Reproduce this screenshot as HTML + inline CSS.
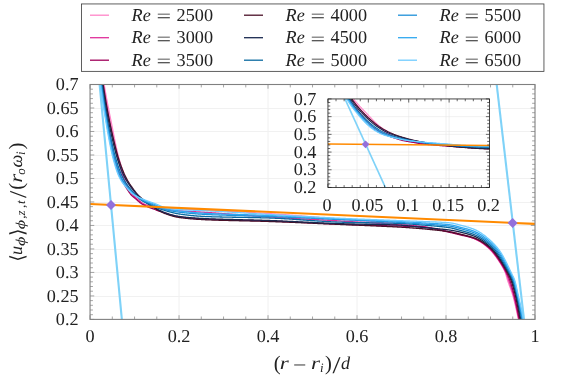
<!DOCTYPE html>
<html lang="en"><head><meta charset="utf-8"><title>Azimuthal velocity profiles</title>
<style>html,body{margin:0;padding:0;background:#fff;}svg{display:block;text-rendering:geometricPrecision;will-change:transform;}text{font-family:"Liberation Serif","DejaVu Sans",serif;fill:#222;}.it{font-style:italic;}</style></head><body>
<svg width="567" height="378" viewBox="0 0 567 378">
<rect width="567" height="378" fill="#fff"/>
<defs>
<clipPath id="cm"><rect x="90.05" y="84.50" width="444.95" height="234.90"/></clipPath>
<clipPath id="ci"><rect x="327.95" y="98.95" width="161.55" height="88.50"/></clipPath>
</defs>
<path d="M179.04 84.50V319.40M268.03 84.50V319.40M357.02 84.50V319.40M446.01 84.50V319.40" stroke="#e6e6e6" stroke-width="0.55" fill="none"/>
<path d="M90.05 296.50H535.00M90.05 272.50H535.00M90.05 249.50H535.00M90.05 225.50H535.00M90.05 202.50H535.00M90.05 178.50H535.00M90.05 155.50H535.00M90.05 131.50H535.00M90.05 108.50H535.00" stroke="#f1f1f1" stroke-width="1" fill="none"/>
<g clip-path="url(#cm)" fill="none" stroke-linejoin="round">
<path d="M98.49 72.75L122.96 331.14" stroke="#7fd2f8" stroke-width="2.1"/>
<path d="M495.33 72.75L525.37 331.14" stroke="#7fd2f8" stroke-width="2.1"/>
<path d="M90.05 -13.69 L90.27 -11.98 L90.49 -10.29 L90.71 -8.60 L90.93 -6.93 L91.15 -5.26 L91.37 -3.60 L91.59 -1.95 L91.80 -0.31 L92.02 1.32 L92.23 2.94 L92.45 4.55 L92.66 6.16 L92.87 7.75 L93.08 9.34 L93.30 10.91 L93.51 12.48 L93.71 14.03 L93.92 15.58 L94.13 17.12 L94.34 18.65 L94.55 20.17 L94.75 21.68 L94.96 23.18 L95.16 24.67 L95.36 26.15 L95.57 27.62 L95.77 29.08 L95.97 30.54 L96.17 31.98 L96.37 33.41 L96.57 34.84 L96.77 36.25 L96.97 37.65 L97.16 39.05 L97.36 40.43 L97.56 41.81 L97.75 43.17 L97.94 44.52 L98.14 45.87 L98.33 47.20 L98.52 48.53 L98.71 49.84 L98.90 51.15 L99.09 52.44 L99.28 53.73 L99.47 55.00 L99.66 56.27 L99.84 57.52 L100.03 58.77 L100.22 60.00 L100.40 61.22 L100.59 62.44 L100.77 63.64 L100.95 64.83 L101.13 66.02 L101.31 67.19 L101.49 68.35 L101.67 69.50 L101.85 70.64 L102.03 71.77 L102.21 72.89 L102.39 74.00 L102.56 75.10 L102.74 76.19 L102.91 77.27 L103.09 78.34 L103.26 79.39 L103.43 80.44 L103.61 81.48 L103.78 82.50 L103.95 83.52 L104.12 84.52 L104.29 85.51 L104.45 86.48 L104.62 87.44 L104.78 88.38 L104.94 89.31 L105.10 90.22 L105.26 91.11 L105.42 91.99 L105.57 92.86 L105.72 93.72 L105.88 94.56 L106.03 95.39 L106.18 96.22 L106.33 97.03 L106.47 97.83 L106.62 98.63 L106.77 99.41 L106.91 100.19 L107.06 100.97 L107.20 101.73 L107.35 102.50 L107.49 103.25 L107.64 104.01 L107.78 104.76 L107.93 105.51 L108.07 106.25 L108.22 107.00 L108.36 107.74 L108.51 108.49 L108.65 109.24 L108.80 109.98 L108.95 110.73 L109.10 111.49 L109.25 112.24 L109.40 113.01 L109.55 113.77 L109.71 114.54 L109.86 115.32 L110.02 116.11 L110.18 116.90 L110.34 117.70 L110.50 118.51 L110.67 119.33 L110.83 120.16 L111.00 121.00 L111.17 121.85 L111.34 122.71 L111.51 123.58 L111.68 124.45 L111.85 125.33 L112.03 126.22 L112.20 127.11 L112.38 128.01 L112.55 128.92 L112.73 129.82 L112.91 130.74 L113.09 131.65 L113.27 132.57 L113.45 133.49 L113.63 134.41 L113.81 135.33 L113.99 136.25 L114.18 137.17 L114.36 138.09 L114.55 139.01 L114.73 139.93 L114.92 140.84 L115.11 141.75 L115.29 142.66 L115.48 143.56 L115.67 144.46 L115.86 145.35 L116.05 146.24 L116.24 147.12 L116.43 147.99 L116.62 148.86 L116.82 149.71 L117.01 150.56 L117.20 151.40 L117.40 152.23 L117.59 153.05 L117.78 153.85 L117.98 154.65 L118.17 155.43 L118.37 156.20 L118.57 156.96 L118.76 157.70 L118.96 158.43 L119.16 159.14 L119.35 159.83 L119.55 160.52 L119.75 161.19 L119.94 161.86 L120.14 162.52 L120.34 163.18 L120.54 163.82 L120.74 164.46 L120.94 165.10 L121.14 165.72 L121.34 166.34 L121.54 166.96 L121.74 167.56 L121.95 168.16 L122.15 168.76 L122.35 169.34 L122.56 169.93 L122.77 170.50 L122.98 171.07 L123.18 171.63 L123.39 172.19 L123.61 172.74 L123.82 173.29 L124.03 173.83 L124.25 174.36 L124.47 174.89 L124.69 175.42 L124.91 175.94 L125.13 176.45 L125.35 176.96 L125.58 177.46 L125.81 177.96 L126.04 178.46 L126.27 178.95 L126.51 179.43 L126.75 179.92 L127.00 180.40 L127.25 180.88 L127.50 181.35 L127.76 181.83 L128.02 182.29 L128.29 182.76 L128.55 183.21 L128.82 183.67 L129.09 184.12 L129.36 184.56 L129.63 185.00 L129.91 185.43 L130.18 185.85 L130.45 186.27 L130.72 186.68 L130.98 187.09 L131.25 187.48 L131.51 187.87 L131.77 188.25 L132.02 188.62 L132.28 188.98 L132.52 189.33 L132.77 189.67 L133.01 190.01 L133.24 190.33 L133.46 190.64 L133.68 190.94 L133.90 191.24 L134.11 191.53 L134.32 191.80 L134.53 192.08 L134.74 192.35 L134.95 192.61 L135.15 192.87 L135.36 193.13 L135.57 193.38 L135.79 193.63 L136.00 193.89 L136.22 194.14 L136.45 194.39 L136.68 194.65 L136.92 194.91 L137.16 195.17 L137.41 195.43 L137.66 195.70 L137.92 195.96 L138.18 196.23 L138.45 196.49 L138.72 196.75 L138.99 197.02 L139.27 197.28 L139.55 197.53 L139.83 197.79 L140.11 198.05 L140.40 198.30 L140.69 198.55 L140.98 198.80 L141.27 199.04 L141.57 199.28 L141.86 199.51 L142.16 199.74 L142.46 199.97 L142.76 200.19 L143.05 200.41 L143.35 200.63 L143.64 200.85 L143.94 201.06 L144.24 201.27 L144.53 201.48 L144.84 201.69 L145.14 201.90 L145.45 202.10 L145.76 202.30 L146.08 202.50 L146.41 202.69 L146.74 202.88 L147.08 203.07 L147.43 203.26 L147.79 203.44 L148.15 203.62 L148.53 203.79 L148.92 203.97 L149.33 204.14 L149.75 204.31 L150.20 204.49 L150.66 204.67 L151.13 204.85 L151.62 205.04 L152.13 205.22 L152.65 205.40 L153.18 205.59 L153.72 205.77 L154.27 205.95 L154.83 206.13 L155.39 206.30 L155.97 206.48 L156.54 206.64 L157.13 206.81 L157.71 206.97 L158.30 207.12 L158.89 207.27 L159.48 207.41 L160.07 207.54 L160.65 207.67 L161.23 207.78 L161.81 207.89 L162.39 207.99 L162.95 208.08 L163.51 208.16 L164.06 208.22 L164.60 208.28 L165.14 208.32 L165.66 208.36 L166.17 208.39 L166.68 208.43 L167.19 208.46 L167.69 208.49 L168.19 208.51 L168.68 208.54 L169.17 208.56 L169.67 208.58 L170.15 208.60 L170.64 208.62 L171.14 208.64 L171.63 208.66 L172.12 208.68 L172.62 208.70 L173.12 208.72 L173.62 208.73 L174.13 208.75 L174.65 208.77 L175.17 208.79 L175.69 208.81 L176.23 208.83 L176.77 208.85 L177.33 208.87 L177.89 208.89 L178.46 208.91 L179.05 208.94 L179.64 208.97 L180.24 208.99 L180.84 209.02 L181.44 209.05 L182.06 209.07 L182.67 209.10 L183.29 209.13 L183.92 209.16 L184.55 209.18 L185.19 209.21 L185.83 209.24 L186.48 209.27 L187.14 209.30 L187.80 209.32 L188.47 209.35 L189.14 209.38 L189.82 209.41 L190.51 209.44 L191.21 209.47 L191.91 209.50 L192.62 209.54 L193.33 209.57 L194.06 209.60 L194.79 209.63 L195.53 209.67 L196.27 209.70 L197.03 209.73 L197.79 209.77 L198.56 209.80 L199.34 209.84 L200.13 209.88 L200.92 209.91 L201.73 209.95 L202.54 209.99 L203.37 210.03 L204.20 210.07 L205.04 210.11 L205.90 210.15 L206.77 210.19 L207.66 210.23 L208.56 210.27 L209.48 210.32 L210.42 210.36 L211.37 210.41 L212.33 210.46 L213.31 210.51 L214.30 210.55 L215.31 210.60 L216.32 210.65 L217.35 210.70 L218.40 210.76 L219.45 210.81 L220.51 210.86 L221.59 210.92 L222.67 210.97 L223.77 211.03 L224.87 211.08 L225.98 211.14 L227.10 211.20 L228.23 211.25 L229.37 211.31 L230.51 211.37 L231.66 211.43 L232.81 211.49 L233.98 211.55 L235.14 211.61 L236.32 211.67 L237.49 211.74 L238.67 211.80 L239.86 211.86 L241.04 211.93 L242.23 211.99 L243.43 212.06 L244.62 212.12 L245.82 212.19 L247.02 212.26 L248.21 212.32 L249.41 212.39 L250.61 212.46 L251.81 212.52 L253.00 212.59 L254.20 212.66 L255.39 212.73 L256.58 212.80 L257.77 212.87 L258.96 212.94 L260.14 213.01 L261.32 213.08 L262.49 213.15 L263.66 213.22 L264.82 213.29 L265.98 213.37 L267.13 213.44 L268.27 213.51 L269.41 213.58 L270.54 213.65 L271.67 213.73 L272.81 213.80 L273.95 213.88 L275.09 213.96 L276.23 214.03 L277.37 214.11 L278.52 214.19 L279.67 214.28 L280.82 214.36 L281.97 214.44 L283.13 214.53 L284.28 214.61 L285.44 214.70 L286.60 214.79 L287.76 214.88 L288.92 214.97 L290.09 215.06 L291.25 215.15 L292.42 215.24 L293.58 215.33 L294.75 215.42 L295.91 215.52 L297.08 215.61 L298.25 215.71 L299.42 215.80 L300.58 215.90 L301.75 215.99 L302.92 216.09 L304.09 216.19 L305.25 216.28 L306.42 216.38 L307.59 216.48 L308.75 216.57 L309.92 216.67 L311.08 216.77 L312.25 216.87 L313.41 216.96 L314.57 217.06 L315.73 217.16 L316.89 217.26 L318.05 217.35 L319.20 217.45 L320.35 217.55 L321.51 217.64 L322.66 217.74 L323.81 217.84 L324.95 217.93 L326.10 218.03 L327.24 218.12 L328.38 218.22 L329.51 218.31 L330.65 218.40 L331.78 218.50 L332.91 218.59 L334.03 218.68 L335.15 218.77 L336.27 218.86 L337.39 218.95 L338.50 219.04 L339.61 219.13 L340.72 219.21 L341.83 219.30 L342.95 219.39 L344.08 219.47 L345.22 219.56 L346.36 219.65 L347.50 219.73 L348.65 219.82 L349.81 219.90 L350.96 219.99 L352.12 220.08 L353.29 220.16 L354.45 220.25 L355.62 220.33 L356.79 220.42 L357.96 220.50 L359.13 220.59 L360.30 220.67 L361.46 220.76 L362.63 220.84 L363.79 220.92 L364.96 221.01 L366.12 221.09 L367.27 221.18 L368.42 221.26 L369.57 221.34 L370.71 221.43 L371.85 221.51 L372.98 221.60 L374.11 221.68 L375.23 221.76 L376.34 221.84 L377.44 221.93 L378.54 222.01 L379.62 222.09 L380.70 222.17 L381.76 222.26 L382.82 222.34 L383.87 222.42 L384.90 222.50 L385.92 222.58 L386.93 222.67 L387.93 222.75 L388.91 222.83 L389.88 222.91 L390.84 222.99 L391.78 223.07 L392.70 223.15 L393.61 223.23 L394.50 223.31 L395.38 223.39 L396.24 223.47 L397.08 223.55 L397.90 223.63 L398.70 223.71 L399.49 223.79 L400.25 223.87 L400.99 223.95 L401.72 224.03 L402.42 224.10 L403.11 224.18 L403.78 224.25 L404.43 224.32 L405.07 224.40 L405.70 224.47 L406.31 224.54 L406.92 224.61 L407.51 224.68 L408.10 224.75 L408.68 224.82 L409.25 224.89 L409.82 224.96 L410.38 225.03 L410.94 225.10 L411.50 225.17 L412.06 225.24 L412.62 225.32 L413.18 225.39 L413.75 225.47 L414.32 225.55 L414.89 225.62 L415.47 225.70 L416.06 225.79 L416.66 225.87 L417.27 225.96 L417.89 226.04 L418.52 226.13 L419.17 226.22 L419.83 226.32 L420.50 226.42 L421.20 226.52 L421.91 226.62 L422.63 226.74 L423.37 226.85 L424.13 226.97 L424.89 227.09 L425.67 227.21 L426.46 227.34 L427.25 227.47 L428.05 227.61 L428.86 227.74 L429.68 227.88 L430.50 228.02 L431.32 228.16 L432.15 228.30 L432.98 228.45 L433.80 228.59 L434.63 228.74 L435.45 228.89 L436.27 229.03 L437.09 229.18 L437.90 229.33 L438.71 229.48 L439.50 229.63 L440.29 229.77 L441.07 229.92 L441.84 230.06 L442.60 230.21 L443.34 230.35 L444.07 230.49 L444.78 230.63 L445.48 230.77 L446.16 230.90 L446.82 231.03 L447.47 231.16 L448.09 231.29 L448.69 231.41 L449.27 231.53 L449.82 231.65 L450.35 231.76 L450.86 231.87 L451.35 231.98 L451.83 232.08 L452.29 232.18 L452.73 232.28 L453.16 232.37 L453.59 232.46 L454.00 232.56 L454.41 232.65 L454.81 232.74 L455.20 232.83 L455.59 232.92 L455.99 233.01 L456.38 233.11 L456.77 233.20 L457.17 233.30 L457.57 233.40 L457.98 233.51 L458.40 233.62 L458.83 233.73 L459.27 233.84 L459.72 233.96 L460.19 234.09 L460.67 234.22 L461.15 234.35 L461.64 234.48 L462.14 234.62 L462.65 234.76 L463.16 234.90 L463.68 235.05 L464.20 235.20 L464.73 235.35 L465.26 235.51 L465.79 235.67 L466.33 235.83 L466.86 236.00 L467.40 236.17 L467.94 236.34 L468.48 236.52 L469.02 236.70 L469.56 236.88 L470.10 237.07 L470.63 237.26 L471.17 237.45 L471.70 237.65 L472.22 237.85 L472.74 238.05 L473.26 238.26 L473.77 238.47 L474.28 238.69 L474.77 238.91 L475.27 239.13 L475.76 239.36 L476.25 239.60 L476.73 239.84 L477.22 240.09 L477.70 240.35 L478.18 240.61 L478.66 240.88 L479.14 241.15 L479.62 241.43 L480.09 241.72 L480.57 242.02 L481.04 242.32 L481.51 242.62 L481.97 242.94 L482.44 243.26 L482.91 243.58 L483.37 243.92 L483.83 244.25 L484.29 244.60 L484.75 244.95 L485.20 245.31 L485.66 245.67 L486.11 246.04 L486.56 246.42 L487.01 246.81 L487.46 247.19 L487.91 247.59 L488.35 247.99 L488.79 248.40 L489.24 248.82 L489.69 249.27 L490.16 249.75 L490.63 250.24 L491.10 250.77 L491.59 251.31 L492.08 251.88 L492.57 252.46 L493.07 253.06 L493.57 253.68 L494.07 254.31 L494.57 254.96 L495.07 255.61 L495.57 256.28 L496.07 256.96 L496.57 257.65 L497.06 258.34 L497.55 259.03 L498.03 259.73 L498.50 260.43 L498.97 261.14 L499.43 261.84 L499.88 262.54 L500.33 263.23 L500.76 263.92 L501.17 264.61 L501.58 265.28 L501.97 265.95 L502.35 266.61 L502.72 267.25 L503.06 267.88 L503.39 268.50 L503.70 269.10 L504.00 269.68 L504.27 270.24 L504.52 270.78 L504.76 271.30 L504.97 271.80 L505.15 272.27 L505.32 272.72 L505.47 273.14 L505.61 273.55 L505.74 273.94 L505.86 274.32 L505.98 274.69 L506.08 275.05 L506.19 275.39 L506.28 275.74 L506.38 276.07 L506.47 276.41 L506.56 276.75 L506.66 277.09 L506.75 277.43 L506.84 277.78 L506.94 278.14 L507.05 278.50 L507.16 278.88 L507.28 279.28 L507.40 279.69 L507.54 280.11 L507.68 280.55 L507.83 281.00 L507.98 281.46 L508.14 281.93 L508.31 282.40 L508.48 282.88 L508.66 283.37 L508.84 283.87 L509.02 284.37 L509.21 284.89 L509.40 285.40 L509.59 285.93 L509.79 286.46 L509.98 286.99 L510.18 287.54 L510.38 288.08 L510.58 288.63 L510.78 289.19 L510.98 289.75 L511.17 290.31 L511.37 290.88 L511.56 291.45 L511.76 292.02 L511.95 292.60 L512.13 293.18 L512.32 293.76 L512.50 294.34 L512.67 294.93 L512.85 295.51 L513.01 296.10 L513.18 296.68 L513.34 297.27 L513.50 297.85 L513.65 298.43 L513.81 299.01 L513.96 299.59 L514.11 300.18 L514.26 300.76 L514.41 301.35 L514.55 301.94 L514.70 302.54 L514.84 303.13 L514.99 303.74 L515.13 304.34 L515.27 304.96 L515.42 305.58 L515.56 306.20 L515.70 306.84 L515.85 307.48 L515.99 308.13 L516.14 308.79 L516.29 309.46 L516.43 310.14 L516.58 310.82 L516.74 311.52 L516.89 312.24 L517.05 312.96 L517.20 313.70 L517.36 314.45 L517.53 315.21 L517.69 315.99 L517.86 316.78 L518.03 317.59 L518.21 318.41 L518.39 319.25 L518.57 320.11 L518.76 320.98 L518.94 321.87 L519.13 322.77 L519.32 323.68 L519.51 324.61 L519.70 325.55 L519.89 326.51 L520.08 327.48 L520.28 328.46 L520.47 329.46 L520.67 330.47 L520.87 331.50 L521.07 332.53 L521.28 333.59 L521.48 334.66 L521.69 335.74 L521.89 336.83 L522.10 337.94 L522.31 339.06 L522.52 340.20 L522.74 341.34 L522.95 342.51 L523.17 343.68 L523.38 344.87 L523.60 346.07 L523.82 347.29 L524.05 348.52 L524.27 349.76 L524.49 351.01 L524.72 352.28 L524.95 353.56 L525.18 354.86 L525.41 356.17 L525.64 357.49 L525.87 358.82 L526.11 360.17 L526.35 361.53 L526.58 362.90 L526.82 364.29 L527.06 365.68 L527.31 367.09 L527.55 368.52 L527.80 369.95 L528.04 371.40 L528.29 372.86 L528.54 374.34 L528.79 375.82 L529.05 377.32 L529.30 378.83 L529.56 380.36 L529.82 381.89 L530.08 383.44 L530.34 385.00 L530.60 386.57 L530.86 388.16 L531.13 389.75 L531.39 391.36 L531.66 392.98 L531.93 394.62 L532.20 396.26 L532.48 397.92 L532.75 399.59 L533.03 401.27 L533.30 402.96 L533.58 404.66 L533.86 406.38 L534.15 408.11 L534.43 409.85 L534.71 411.60 L535.00 413.36" stroke="#ff85c8" stroke-width="1.30"/>
<path d="M90.05 -13.69 L90.26 -11.98 L90.47 -10.28 L90.68 -8.59 L90.88 -6.91 L91.09 -5.24 L91.29 -3.57 L91.50 -1.92 L91.70 -0.28 L91.91 1.36 L92.11 2.99 L92.31 4.60 L92.51 6.21 L92.71 7.81 L92.91 9.40 L93.11 10.98 L93.31 12.55 L93.51 14.11 L93.70 15.66 L93.90 17.20 L94.09 18.73 L94.29 20.26 L94.48 21.77 L94.68 23.27 L94.87 24.77 L95.06 26.25 L95.25 27.73 L95.44 29.19 L95.63 30.65 L95.82 32.10 L96.01 33.53 L96.19 34.96 L96.38 36.38 L96.56 37.78 L96.75 39.18 L96.93 40.57 L97.12 41.94 L97.30 43.31 L97.48 44.67 L97.66 46.02 L97.84 47.35 L98.02 48.68 L98.20 50.00 L98.38 51.31 L98.56 52.60 L98.74 53.89 L98.91 55.17 L99.09 56.43 L99.27 57.69 L99.44 58.94 L99.61 60.17 L99.79 61.40 L99.96 62.62 L100.13 63.82 L100.30 65.02 L100.47 66.20 L100.64 67.37 L100.81 68.54 L100.98 69.69 L101.14 70.83 L101.31 71.97 L101.48 73.09 L101.64 74.20 L101.81 75.30 L101.97 76.39 L102.13 77.47 L102.30 78.54 L102.46 79.60 L102.62 80.65 L102.78 81.68 L102.94 82.71 L103.10 83.72 L103.26 84.73 L103.41 85.72 L103.57 86.69 L103.72 87.65 L103.87 88.59 L104.02 89.52 L104.17 90.43 L104.31 91.32 L104.45 92.20 L104.60 93.07 L104.74 93.93 L104.87 94.77 L105.01 95.60 L105.15 96.43 L105.28 97.24 L105.42 98.04 L105.55 98.84 L105.68 99.63 L105.82 100.41 L105.95 101.18 L106.08 101.95 L106.21 102.71 L106.34 103.47 L106.48 104.23 L106.61 104.98 L106.74 105.73 L106.87 106.48 L107.01 107.23 L107.14 107.98 L107.28 108.73 L107.41 109.48 L107.55 110.23 L107.69 110.98 L107.83 111.74 L107.97 112.50 L108.11 113.27 L108.26 114.04 L108.40 114.81 L108.55 115.59 L108.70 116.39 L108.86 117.18 L109.01 117.99 L109.17 118.81 L109.33 119.63 L109.49 120.47 L109.66 121.31 L109.82 122.17 L110.00 123.03 L110.17 123.90 L110.34 124.78 L110.52 125.66 L110.70 126.55 L110.89 127.45 L111.07 128.35 L111.26 129.26 L111.44 130.17 L111.63 131.08 L111.82 132.00 L112.02 132.92 L112.21 133.84 L112.41 134.76 L112.60 135.68 L112.80 136.60 L113.00 137.52 L113.20 138.44 L113.40 139.36 L113.60 140.28 L113.80 141.19 L114.00 142.10 L114.20 143.00 L114.41 143.91 L114.61 144.80 L114.81 145.69 L115.01 146.58 L115.22 147.45 L115.42 148.33 L115.62 149.19 L115.82 150.04 L116.02 150.89 L116.22 151.72 L116.42 152.55 L116.62 153.37 L116.81 154.17 L117.01 154.96 L117.20 155.74 L117.39 156.51 L117.59 157.26 L117.78 158.00 L117.96 158.73 L118.15 159.44 L118.34 160.13 L118.52 160.82 L118.70 161.49 L118.88 162.16 L119.06 162.83 L119.23 163.48 L119.41 164.13 L119.58 164.77 L119.76 165.41 L119.93 166.04 L120.10 166.66 L120.27 167.27 L120.44 167.88 L120.62 168.48 L120.79 169.08 L120.96 169.67 L121.13 170.25 L121.30 170.83 L121.47 171.40 L121.65 171.97 L121.82 172.53 L122.00 173.08 L122.17 173.63 L122.35 174.17 L122.53 174.71 L122.71 175.25 L122.89 175.78 L123.07 176.30 L123.26 176.82 L123.44 177.33 L123.63 177.84 L123.82 178.35 L124.02 178.85 L124.22 179.34 L124.42 179.84 L124.62 180.33 L124.83 180.82 L125.04 181.31 L125.25 181.79 L125.47 182.27 L125.68 182.75 L125.90 183.22 L126.12 183.69 L126.34 184.15 L126.57 184.60 L126.79 185.05 L127.01 185.49 L127.23 185.93 L127.46 186.36 L127.68 186.78 L127.90 187.19 L128.12 187.60 L128.34 187.99 L128.55 188.38 L128.77 188.76 L128.98 189.13 L129.19 189.49 L129.40 189.83 L129.60 190.17 L129.80 190.50 L130.00 190.81 L130.19 191.12 L130.38 191.42 L130.56 191.71 L130.75 191.99 L130.93 192.27 L131.11 192.54 L131.30 192.81 L131.49 193.07 L131.68 193.34 L131.87 193.60 L132.07 193.85 L132.27 194.11 L132.48 194.37 L132.69 194.63 L132.91 194.90 L133.14 195.16 L133.38 195.43 L133.63 195.69 L133.88 195.96 L134.15 196.22 L134.41 196.48 L134.69 196.75 L134.97 197.01 L135.25 197.26 L135.54 197.52 L135.83 197.78 L136.12 198.03 L136.41 198.28 L136.71 198.53 L137.00 198.78 L137.30 199.02 L137.59 199.26 L137.89 199.50 L138.18 199.74 L138.46 199.97 L138.74 200.20 L139.02 200.43 L139.29 200.66 L139.55 200.88 L139.81 201.11 L140.07 201.33 L140.34 201.55 L140.60 201.77 L140.86 201.99 L141.13 202.20 L141.41 202.41 L141.69 202.62 L141.98 202.83 L142.28 203.03 L142.59 203.23 L142.92 203.43 L143.26 203.62 L143.62 203.81 L143.99 204.00 L144.39 204.18 L144.82 204.37 L145.28 204.55 L145.76 204.74 L146.28 204.93 L146.81 205.12 L147.37 205.30 L147.95 205.49 L148.55 205.68 L149.16 205.87 L149.79 206.05 L150.44 206.24 L151.10 206.42 L151.77 206.60 L152.45 206.78 L153.14 206.95 L153.84 207.12 L154.54 207.29 L155.24 207.46 L155.95 207.62 L156.66 207.78 L157.36 207.93 L158.06 208.08 L158.76 208.22 L159.45 208.36 L160.14 208.50 L160.81 208.62 L161.48 208.75 L162.13 208.86 L162.77 208.97 L163.39 209.07 L164.00 209.17 L164.59 209.25 L165.15 209.33 L165.71 209.41 L166.25 209.48 L166.78 209.55 L167.30 209.61 L167.82 209.68 L168.32 209.74 L168.82 209.80 L169.32 209.85 L169.81 209.91 L170.30 209.96 L170.78 210.01 L171.27 210.06 L171.75 210.11 L172.24 210.16 L172.73 210.21 L173.21 210.25 L173.71 210.30 L174.21 210.34 L174.71 210.39 L175.22 210.43 L175.74 210.47 L176.26 210.52 L176.80 210.56 L177.35 210.61 L177.90 210.65 L178.48 210.70 L179.06 210.74 L179.65 210.79 L180.25 210.83 L180.85 210.88 L181.46 210.92 L182.07 210.97 L182.69 211.01 L183.31 211.05 L183.94 211.09 L184.57 211.13 L185.21 211.17 L185.86 211.21 L186.51 211.25 L187.17 211.28 L187.83 211.32 L188.50 211.36 L189.18 211.40 L189.86 211.44 L190.55 211.47 L191.24 211.51 L191.95 211.55 L192.66 211.59 L193.38 211.63 L194.10 211.67 L194.84 211.71 L195.58 211.75 L196.33 211.79 L197.08 211.83 L197.85 211.88 L198.62 211.92 L199.40 211.96 L200.19 212.01 L200.99 212.06 L201.80 212.11 L202.61 212.15 L203.44 212.21 L204.27 212.26 L205.12 212.31 L205.98 212.37 L206.85 212.42 L207.74 212.48 L208.65 212.55 L209.57 212.61 L210.51 212.67 L211.46 212.74 L212.43 212.81 L213.41 212.88 L214.41 212.95 L215.42 213.02 L216.44 213.10 L217.47 213.17 L218.51 213.25 L219.57 213.33 L220.64 213.41 L221.71 213.49 L222.80 213.57 L223.90 213.66 L225.00 213.74 L226.12 213.82 L227.24 213.91 L228.37 213.99 L229.51 214.08 L230.66 214.17 L231.81 214.26 L232.97 214.35 L234.13 214.43 L235.30 214.52 L236.48 214.61 L237.66 214.70 L238.84 214.79 L240.03 214.88 L241.22 214.97 L242.41 215.06 L243.60 215.15 L244.80 215.24 L246.00 215.33 L247.20 215.42 L248.40 215.51 L249.60 215.60 L250.80 215.69 L252.00 215.78 L253.20 215.86 L254.39 215.95 L255.59 216.04 L256.78 216.12 L257.97 216.21 L259.16 216.29 L260.34 216.37 L261.52 216.45 L262.70 216.54 L263.87 216.61 L265.03 216.69 L266.19 216.77 L267.34 216.85 L268.49 216.92 L269.62 216.99 L270.76 217.07 L271.89 217.14 L273.03 217.21 L274.17 217.28 L275.32 217.35 L276.46 217.42 L277.61 217.49 L278.76 217.56 L279.92 217.62 L281.07 217.69 L282.23 217.76 L283.38 217.83 L284.54 217.89 L285.71 217.96 L286.87 218.02 L288.03 218.09 L289.20 218.16 L290.37 218.22 L291.53 218.29 L292.70 218.35 L293.87 218.41 L295.04 218.48 L296.21 218.54 L297.38 218.61 L298.55 218.67 L299.73 218.73 L300.90 218.80 L302.07 218.86 L303.24 218.92 L304.41 218.98 L305.58 219.05 L306.75 219.11 L307.92 219.17 L309.09 219.23 L310.26 219.30 L311.43 219.36 L312.60 219.42 L313.76 219.48 L314.93 219.55 L316.09 219.61 L317.25 219.67 L318.41 219.73 L319.57 219.80 L320.73 219.86 L321.88 219.92 L323.04 219.99 L324.19 220.05 L325.34 220.11 L326.48 220.18 L327.63 220.24 L328.77 220.30 L329.91 220.37 L331.05 220.43 L332.18 220.50 L333.31 220.56 L334.44 220.63 L335.56 220.69 L336.68 220.76 L337.80 220.83 L338.92 220.89 L340.03 220.96 L341.14 221.03 L342.26 221.09 L343.39 221.16 L344.52 221.23 L345.66 221.30 L346.81 221.37 L347.96 221.44 L349.11 221.51 L350.27 221.59 L351.43 221.66 L352.60 221.73 L353.77 221.80 L354.93 221.88 L356.11 221.95 L357.28 222.02 L358.45 222.10 L359.62 222.17 L360.79 222.25 L361.96 222.32 L363.13 222.39 L364.30 222.47 L365.46 222.54 L366.62 222.62 L367.78 222.69 L368.93 222.77 L370.08 222.84 L371.22 222.91 L372.36 222.99 L373.49 223.06 L374.62 223.13 L375.74 223.21 L376.85 223.28 L377.95 223.35 L379.04 223.42 L380.13 223.49 L381.20 223.57 L382.26 223.64 L383.32 223.71 L384.36 223.77 L385.39 223.84 L386.41 223.91 L387.42 223.98 L388.41 224.05 L389.39 224.11 L390.36 224.18 L391.31 224.24 L392.24 224.31 L393.16 224.37 L394.06 224.43 L394.95 224.49 L395.82 224.55 L396.67 224.61 L397.51 224.67 L398.32 224.73 L399.12 224.78 L399.90 224.84 L400.65 224.89 L401.39 224.94 L402.10 224.99 L402.80 225.04 L403.48 225.09 L404.14 225.13 L404.79 225.17 L405.43 225.22 L406.05 225.26 L406.66 225.30 L407.27 225.33 L407.86 225.37 L408.44 225.41 L409.02 225.45 L409.59 225.49 L410.16 225.53 L410.73 225.56 L411.29 225.60 L411.85 225.64 L412.41 225.68 L412.98 225.73 L413.55 225.77 L414.12 225.81 L414.69 225.86 L415.27 225.91 L415.86 225.96 L416.46 226.01 L417.07 226.06 L417.69 226.12 L418.32 226.18 L418.96 226.24 L419.62 226.31 L420.29 226.37 L420.98 226.45 L421.69 226.53 L422.41 226.63 L423.15 226.73 L423.90 226.83 L424.66 226.95 L425.44 227.06 L426.22 227.19 L427.02 227.32 L427.82 227.46 L428.63 227.60 L429.44 227.74 L430.26 227.89 L431.09 228.04 L431.91 228.20 L432.74 228.36 L433.57 228.52 L434.40 228.68 L435.22 228.85 L436.04 229.01 L436.86 229.18 L437.68 229.35 L438.48 229.52 L439.28 229.68 L440.07 229.85 L440.86 230.02 L441.63 230.18 L442.39 230.34 L443.14 230.51 L443.87 230.66 L444.59 230.82 L445.29 230.97 L445.98 231.12 L446.65 231.27 L447.30 231.41 L447.93 231.54 L448.53 231.68 L449.12 231.80 L449.68 231.92 L450.22 232.03 L450.73 232.14 L451.23 232.25 L451.71 232.35 L452.17 232.45 L452.62 232.54 L453.06 232.64 L453.49 232.73 L453.90 232.82 L454.31 232.90 L454.71 232.99 L455.11 233.08 L455.51 233.17 L455.90 233.25 L456.29 233.34 L456.69 233.43 L457.09 233.53 L457.49 233.62 L457.90 233.72 L458.32 233.82 L458.75 233.92 L459.19 234.03 L459.64 234.15 L460.11 234.26 L460.58 234.38 L461.07 234.51 L461.56 234.63 L462.06 234.76 L462.57 234.89 L463.08 235.02 L463.60 235.16 L464.12 235.29 L464.65 235.43 L465.18 235.57 L465.72 235.72 L466.26 235.87 L466.79 236.02 L467.34 236.17 L467.88 236.33 L468.42 236.49 L468.96 236.65 L469.51 236.82 L470.05 236.99 L470.59 237.17 L471.12 237.35 L471.66 237.53 L472.19 237.72 L472.71 237.91 L473.24 238.10 L473.75 238.30 L474.27 238.50 L474.77 238.71 L475.27 238.93 L475.77 239.15 L476.27 239.38 L476.76 239.61 L477.26 239.86 L477.75 240.11 L478.24 240.37 L478.73 240.64 L479.22 240.91 L479.71 241.19 L480.20 241.48 L480.68 241.78 L481.17 242.08 L481.65 242.39 L482.13 242.71 L482.61 243.04 L483.09 243.37 L483.56 243.70 L484.04 244.05 L484.51 244.40 L484.98 244.76 L485.45 245.12 L485.91 245.49 L486.38 245.86 L486.84 246.25 L487.30 246.63 L487.76 247.03 L488.21 247.42 L488.67 247.83 L489.12 248.24 L489.57 248.66 L490.02 249.10 L490.48 249.56 L490.95 250.05 L491.43 250.57 L491.91 251.11 L492.40 251.67 L492.89 252.25 L493.38 252.84 L493.88 253.46 L494.37 254.09 L494.87 254.73 L495.37 255.38 L495.86 256.05 L496.36 256.73 L496.85 257.41 L497.34 258.10 L497.82 258.80 L498.30 259.50 L498.77 260.20 L499.24 260.90 L499.70 261.60 L500.15 262.31 L500.60 263.00 L501.03 263.70 L501.46 264.38 L501.87 265.06 L502.27 265.73 L502.66 266.39 L503.03 267.04 L503.39 267.68 L503.74 268.30 L504.07 268.90 L504.38 269.49 L504.68 270.06 L504.96 270.61 L505.22 271.13 L505.45 271.64 L505.67 272.11 L505.87 272.57 L506.06 273.00 L506.23 273.41 L506.39 273.80 L506.54 274.18 L506.69 274.55 L506.83 274.91 L506.96 275.26 L507.08 275.60 L507.21 275.93 L507.32 276.27 L507.44 276.60 L507.56 276.93 L507.67 277.27 L507.79 277.61 L507.91 277.97 L508.03 278.32 L508.15 278.70 L508.28 279.08 L508.42 279.48 L508.56 279.90 L508.72 280.33 L508.87 280.78 L509.03 281.23 L509.19 281.69 L509.35 282.16 L509.52 282.65 L509.68 283.13 L509.85 283.63 L510.03 284.14 L510.20 284.65 L510.38 285.17 L510.55 285.69 L510.73 286.22 L510.91 286.76 L511.08 287.30 L511.26 287.85 L511.44 288.41 L511.62 288.96 L511.80 289.53 L511.97 290.09 L512.15 290.67 L512.32 291.24 L512.50 291.82 L512.67 292.40 L512.84 292.98 L513.01 293.56 L513.17 294.15 L513.34 294.74 L513.50 295.32 L513.66 295.91 L513.81 296.50 L513.96 297.09 L514.11 297.67 L514.26 298.26 L514.41 298.84 L514.55 299.42 L514.69 300.01 L514.84 300.60 L514.97 301.19 L515.11 301.78 L515.25 302.38 L515.39 302.97 L515.52 303.58 L515.66 304.19 L515.80 304.80 L515.93 305.42 L516.07 306.05 L516.20 306.68 L516.34 307.32 L516.48 307.97 L516.62 308.63 L516.76 309.30 L516.90 309.98 L517.04 310.67 L517.18 311.37 L517.33 312.08 L517.48 312.80 L517.63 313.54 L517.78 314.29 L517.94 315.05 L518.09 315.83 L518.25 316.62 L518.42 317.43 L518.59 318.25 L518.76 319.09 L518.93 319.95 L519.11 320.82 L519.29 321.71 L519.47 322.61 L519.65 323.52 L519.83 324.45 L520.01 325.39 L520.20 326.35 L520.38 327.32 L520.57 328.30 L520.76 329.30 L520.95 330.32 L521.15 331.34 L521.34 332.38 L521.54 333.44 L521.74 334.50 L521.93 335.59 L522.14 336.68 L522.34 337.79 L522.54 338.91 L522.75 340.05 L522.95 341.20 L523.16 342.36 L523.37 343.54 L523.58 344.73 L523.80 345.94 L524.01 347.15 L524.23 348.38 L524.45 349.63 L524.67 350.89 L524.89 352.16 L525.11 353.44 L525.33 354.74 L525.56 356.05 L525.79 357.37 L526.01 358.70 L526.24 360.05 L526.48 361.42 L526.71 362.79 L526.94 364.18 L527.18 365.58 L527.42 366.99 L527.66 368.42 L527.90 369.86 L528.14 371.31 L528.39 372.77 L528.63 374.25 L528.88 375.74 L529.13 377.24 L529.38 378.75 L529.63 380.28 L529.88 381.82 L530.14 383.37 L530.40 384.93 L530.65 386.51 L530.91 388.10 L531.18 389.70 L531.44 391.31 L531.70 392.93 L531.97 394.57 L532.24 396.22 L532.51 397.88 L532.78 399.55 L533.05 401.24 L533.32 402.93 L533.60 404.64 L533.88 406.36 L534.15 408.09 L534.43 409.84 L534.72 411.59 L535.00 413.36" stroke="#e0309a" stroke-width="1.30"/>
<path d="M90.05 -13.69 L90.24 -11.97 L90.43 -10.27 L90.61 -8.57 L90.80 -6.88 L90.99 -5.20 L91.17 -3.53 L91.36 -1.87 L91.54 -0.22 L91.72 1.42 L91.91 3.05 L92.09 4.67 L92.27 6.29 L92.45 7.89 L92.63 9.49 L92.81 11.07 L92.99 12.65 L93.16 14.21 L93.34 15.77 L93.52 17.32 L93.69 18.86 L93.87 20.39 L94.04 21.90 L94.22 23.41 L94.39 24.91 L94.56 26.40 L94.73 27.88 L94.90 29.35 L95.07 30.81 L95.24 32.26 L95.41 33.70 L95.58 35.14 L95.75 36.56 L95.91 37.97 L96.08 39.37 L96.24 40.76 L96.41 42.14 L96.57 43.51 L96.74 44.88 L96.90 46.23 L97.06 47.57 L97.22 48.90 L97.38 50.22 L97.54 51.53 L97.70 52.83 L97.86 54.12 L98.02 55.41 L98.18 56.68 L98.34 57.94 L98.49 59.19 L98.65 60.42 L98.80 61.65 L98.96 62.87 L99.11 64.08 L99.26 65.28 L99.41 66.47 L99.57 67.64 L99.72 68.81 L99.87 69.96 L100.02 71.11 L100.17 72.24 L100.31 73.37 L100.46 74.48 L100.61 75.59 L100.76 76.68 L100.90 77.76 L101.05 78.83 L101.19 79.89 L101.33 80.94 L101.48 81.98 L101.62 83.00 L101.76 84.02 L101.90 85.03 L102.04 86.02 L102.18 86.99 L102.32 87.95 L102.45 88.89 L102.58 89.81 L102.71 90.72 L102.84 91.62 L102.97 92.50 L103.09 93.36 L103.22 94.22 L103.34 95.06 L103.46 95.90 L103.58 96.72 L103.70 97.53 L103.82 98.34 L103.94 99.13 L104.06 99.92 L104.18 100.70 L104.30 101.48 L104.41 102.25 L104.53 103.02 L104.65 103.78 L104.77 104.54 L104.88 105.29 L105.00 106.05 L105.12 106.80 L105.24 107.55 L105.36 108.30 L105.48 109.05 L105.60 109.81 L105.72 110.56 L105.85 111.32 L105.97 112.09 L106.10 112.85 L106.22 113.62 L106.35 114.40 L106.48 115.19 L106.62 115.98 L106.75 116.77 L106.89 117.58 L107.03 118.40 L107.17 119.22 L107.31 120.06 L107.45 120.90 L107.60 121.76 L107.75 122.62 L107.90 123.49 L108.05 124.37 L108.20 125.26 L108.36 126.16 L108.51 127.06 L108.67 127.96 L108.83 128.87 L108.99 129.79 L109.15 130.70 L109.31 131.63 L109.47 132.55 L109.63 133.48 L109.80 134.40 L109.97 135.33 L110.13 136.26 L110.30 137.19 L110.47 138.11 L110.64 139.04 L110.81 139.96 L110.98 140.88 L111.16 141.80 L111.33 142.71 L111.50 143.62 L111.68 144.53 L111.85 145.43 L112.03 146.32 L112.21 147.20 L112.38 148.08 L112.56 148.95 L112.74 149.81 L112.92 150.67 L113.10 151.51 L113.28 152.34 L113.46 153.17 L113.64 153.98 L113.82 154.78 L114.00 155.56 L114.19 156.34 L114.37 157.10 L114.55 157.84 L114.73 158.57 L114.91 159.29 L115.10 159.99 L115.28 160.67 L115.46 161.35 L115.65 162.03 L115.83 162.69 L116.01 163.35 L116.20 164.00 L116.38 164.64 L116.57 165.28 L116.76 165.91 L116.94 166.53 L117.13 167.15 L117.32 167.76 L117.51 168.36 L117.70 168.96 L117.90 169.55 L118.09 170.13 L118.28 170.71 L118.48 171.29 L118.68 171.85 L118.87 172.41 L119.07 172.97 L119.27 173.52 L119.48 174.06 L119.68 174.60 L119.88 175.13 L120.09 175.66 L120.30 176.18 L120.51 176.70 L120.72 177.21 L120.93 177.72 L121.15 178.22 L121.36 178.72 L121.58 179.21 L121.81 179.71 L122.04 180.19 L122.28 180.68 L122.51 181.16 L122.76 181.64 L123.00 182.12 L123.25 182.59 L123.50 183.06 L123.76 183.52 L124.01 183.98 L124.27 184.43 L124.52 184.87 L124.78 185.31 L125.03 185.74 L125.29 186.17 L125.54 186.59 L125.79 187.00 L126.04 187.40 L126.29 187.80 L126.53 188.19 L126.77 188.57 L127.01 188.93 L127.24 189.30 L127.47 189.65 L127.69 189.99 L127.91 190.32 L128.11 190.64 L128.32 190.95 L128.51 191.25 L128.71 191.54 L128.90 191.83 L129.09 192.11 L129.27 192.39 L129.46 192.66 L129.65 192.92 L129.84 193.19 L130.03 193.45 L130.23 193.71 L130.43 193.97 L130.64 194.23 L130.86 194.49 L131.08 194.75 L131.31 195.01 L131.55 195.27 L131.80 195.54 L132.06 195.80 L132.33 196.06 L132.61 196.32 L132.89 196.58 L133.18 196.84 L133.47 197.09 L133.77 197.35 L134.07 197.60 L134.37 197.85 L134.68 198.10 L134.98 198.35 L135.28 198.60 L135.59 198.84 L135.89 199.09 L136.18 199.33 L136.48 199.57 L136.76 199.80 L137.04 200.04 L137.32 200.27 L137.58 200.50 L137.84 200.72 L138.09 200.94 L138.33 201.16 L138.57 201.37 L138.82 201.59 L139.06 201.80 L139.31 202.01 L139.56 202.22 L139.82 202.44 L140.08 202.65 L140.36 202.86 L140.65 203.08 L140.95 203.30 L141.27 203.52 L141.61 203.75 L141.96 203.98 L142.34 204.21 L142.76 204.45 L143.20 204.69 L143.68 204.94 L144.18 205.19 L144.72 205.45 L145.27 205.71 L145.85 205.98 L146.46 206.24 L147.08 206.51 L147.72 206.78 L148.38 207.05 L149.05 207.33 L149.74 207.60 L150.44 207.87 L151.15 208.15 L151.87 208.42 L152.59 208.69 L153.32 208.96 L154.06 209.23 L154.80 209.50 L155.54 209.76 L156.27 210.02 L157.01 210.28 L157.74 210.53 L158.46 210.78 L159.18 211.02 L159.89 211.26 L160.58 211.49 L161.27 211.71 L161.94 211.93 L162.59 212.15 L163.23 212.35 L163.85 212.55 L164.45 212.74 L165.02 212.92 L165.58 213.09 L166.13 213.27 L166.66 213.44 L167.18 213.61 L167.69 213.77 L168.20 213.94 L168.70 214.10 L169.19 214.26 L169.67 214.42 L170.16 214.57 L170.63 214.73 L171.11 214.87 L171.59 215.02 L172.06 215.16 L172.54 215.30 L173.02 215.44 L173.50 215.57 L173.99 215.70 L174.48 215.83 L174.98 215.95 L175.48 216.07 L176.00 216.18 L176.52 216.30 L177.05 216.40 L177.60 216.50 L178.16 216.60 L178.73 216.70 L179.32 216.79 L179.91 216.87 L180.51 216.96 L181.11 217.04 L181.71 217.13 L182.33 217.21 L182.95 217.29 L183.57 217.37 L184.20 217.44 L184.84 217.52 L185.48 217.59 L186.13 217.66 L186.78 217.74 L187.45 217.81 L188.11 217.87 L188.79 217.94 L189.47 218.01 L190.16 218.07 L190.85 218.13 L191.56 218.20 L192.26 218.26 L192.98 218.32 L193.71 218.37 L194.44 218.43 L195.18 218.49 L195.93 218.54 L196.68 218.60 L197.45 218.65 L198.22 218.70 L199.00 218.75 L199.79 218.80 L200.59 218.85 L201.39 218.90 L202.21 218.95 L203.03 219.00 L203.86 219.04 L204.70 219.09 L205.56 219.13 L206.43 219.18 L207.31 219.22 L208.22 219.26 L209.14 219.30 L210.07 219.34 L211.02 219.38 L211.99 219.42 L212.97 219.45 L213.96 219.49 L214.96 219.53 L215.98 219.56 L217.02 219.59 L218.06 219.63 L219.12 219.66 L220.18 219.69 L221.26 219.73 L222.35 219.76 L223.45 219.79 L224.55 219.82 L225.67 219.85 L226.79 219.88 L227.93 219.91 L229.07 219.94 L230.22 219.97 L231.37 219.99 L232.53 220.02 L233.70 220.05 L234.87 220.08 L236.05 220.11 L237.24 220.14 L238.42 220.16 L239.61 220.19 L240.81 220.22 L242.01 220.25 L243.21 220.28 L244.41 220.31 L245.61 220.33 L246.82 220.36 L248.02 220.39 L249.23 220.42 L250.43 220.45 L251.64 220.48 L252.84 220.51 L254.05 220.54 L255.25 220.57 L256.45 220.61 L257.64 220.64 L258.84 220.67 L260.03 220.70 L261.21 220.74 L262.39 220.77 L263.57 220.81 L264.74 220.84 L265.90 220.88 L267.06 220.92 L268.21 220.96 L269.36 221.00 L270.50 221.04 L271.64 221.08 L272.78 221.12 L273.92 221.16 L275.07 221.21 L276.22 221.25 L277.37 221.30 L278.53 221.35 L279.69 221.39 L280.84 221.44 L282.00 221.49 L283.17 221.54 L284.33 221.59 L285.50 221.64 L286.66 221.70 L287.83 221.75 L289.00 221.80 L290.17 221.86 L291.34 221.91 L292.52 221.96 L293.69 222.02 L294.86 222.08 L296.04 222.13 L297.21 222.19 L298.39 222.24 L299.56 222.30 L300.74 222.36 L301.91 222.41 L303.09 222.47 L304.27 222.53 L305.44 222.59 L306.61 222.64 L307.79 222.70 L308.96 222.76 L310.14 222.82 L311.31 222.87 L312.48 222.93 L313.65 222.99 L314.82 223.04 L315.98 223.10 L317.15 223.15 L318.31 223.21 L319.48 223.27 L320.64 223.32 L321.80 223.37 L322.96 223.43 L324.11 223.48 L325.26 223.53 L326.42 223.59 L327.56 223.64 L328.71 223.69 L329.85 223.74 L330.99 223.79 L332.13 223.84 L333.27 223.89 L334.40 223.93 L335.53 223.98 L336.65 224.03 L337.78 224.07 L338.89 224.11 L340.01 224.16 L341.13 224.20 L342.25 224.24 L343.38 224.28 L344.52 224.33 L345.67 224.37 L346.82 224.41 L347.97 224.45 L349.13 224.49 L350.29 224.54 L351.46 224.58 L352.63 224.62 L353.80 224.66 L354.98 224.70 L356.15 224.75 L357.33 224.79 L358.50 224.83 L359.68 224.87 L360.86 224.91 L362.03 224.95 L363.20 224.99 L364.37 225.03 L365.54 225.07 L366.71 225.11 L367.87 225.15 L369.03 225.19 L370.18 225.23 L371.33 225.27 L372.47 225.30 L373.60 225.34 L374.73 225.38 L375.85 225.41 L376.97 225.45 L378.07 225.49 L379.17 225.52 L380.26 225.56 L381.34 225.59 L382.40 225.62 L383.46 225.66 L384.51 225.69 L385.54 225.72 L386.56 225.75 L387.57 225.79 L388.56 225.82 L389.55 225.85 L390.51 225.87 L391.46 225.90 L392.40 225.93 L393.32 225.96 L394.23 225.98 L395.11 226.01 L395.98 226.04 L396.84 226.06 L397.67 226.08 L398.49 226.11 L399.28 226.13 L400.06 226.15 L400.81 226.17 L401.55 226.19 L402.26 226.20 L402.96 226.22 L403.64 226.24 L404.30 226.25 L404.95 226.26 L405.58 226.28 L406.21 226.29 L406.82 226.30 L407.42 226.31 L408.01 226.33 L408.60 226.34 L409.18 226.35 L409.75 226.36 L410.32 226.37 L410.89 226.38 L411.46 226.39 L412.02 226.40 L412.59 226.42 L413.15 226.43 L413.72 226.44 L414.30 226.46 L414.88 226.47 L415.47 226.49 L416.06 226.51 L416.66 226.52 L417.28 226.54 L417.90 226.57 L418.54 226.59 L419.19 226.61 L419.85 226.64 L420.54 226.67 L421.24 226.71 L421.95 226.77 L422.68 226.83 L423.43 226.91 L424.19 227.00 L424.96 227.10 L425.74 227.20 L426.53 227.32 L427.33 227.44 L428.14 227.58 L428.95 227.71 L429.77 227.86 L430.60 228.01 L431.42 228.17 L432.25 228.33 L433.08 228.50 L433.91 228.67 L434.74 228.84 L435.57 229.02 L436.39 229.20 L437.21 229.38 L438.02 229.57 L438.83 229.75 L439.63 229.94 L440.42 230.12 L441.20 230.30 L441.97 230.48 L442.73 230.66 L443.47 230.84 L444.20 231.02 L444.91 231.19 L445.61 231.36 L446.29 231.52 L446.95 231.68 L447.59 231.83 L448.21 231.98 L448.81 232.12 L449.39 232.25 L449.94 232.38 L450.47 232.49 L450.97 232.61 L451.46 232.72 L451.94 232.83 L452.39 232.94 L452.84 233.04 L453.27 233.15 L453.69 233.25 L454.10 233.35 L454.51 233.45 L454.90 233.55 L455.30 233.65 L455.69 233.75 L456.09 233.85 L456.48 233.95 L456.88 234.05 L457.28 234.15 L457.69 234.25 L458.10 234.36 L458.53 234.47 L458.96 234.58 L459.41 234.69 L459.87 234.80 L460.34 234.92 L460.83 235.04 L461.32 235.16 L461.82 235.27 L462.33 235.39 L462.84 235.50 L463.36 235.62 L463.88 235.73 L464.41 235.85 L464.95 235.97 L465.48 236.09 L466.03 236.21 L466.57 236.33 L467.11 236.46 L467.66 236.58 L468.21 236.71 L468.76 236.85 L469.30 236.98 L469.85 237.12 L470.40 237.27 L470.94 237.41 L471.48 237.56 L472.02 237.72 L472.55 237.88 L473.09 238.05 L473.61 238.22 L474.13 238.40 L474.65 238.58 L475.16 238.77 L475.66 238.97 L476.17 239.18 L476.68 239.40 L477.18 239.63 L477.69 239.87 L478.19 240.12 L478.70 240.38 L479.20 240.65 L479.70 240.92 L480.20 241.21 L480.70 241.51 L481.20 241.81 L481.70 242.12 L482.19 242.44 L482.68 242.77 L483.17 243.10 L483.66 243.44 L484.15 243.79 L484.64 244.15 L485.12 244.51 L485.60 244.87 L486.08 245.25 L486.56 245.63 L487.03 246.01 L487.50 246.40 L487.97 246.80 L488.44 247.20 L488.90 247.60 L489.36 248.01 L489.82 248.43 L490.28 248.85 L490.74 249.31 L491.21 249.79 L491.69 250.29 L492.17 250.82 L492.65 251.37 L493.14 251.94 L493.63 252.53 L494.12 253.14 L494.62 253.76 L495.11 254.40 L495.60 255.05 L496.10 255.71 L496.59 256.39 L497.08 257.07 L497.56 257.76 L498.05 258.46 L498.52 259.16 L499.00 259.86 L499.47 260.57 L499.93 261.27 L500.38 261.98 L500.83 262.68 L501.27 263.38 L501.70 264.07 L502.12 264.75 L502.53 265.43 L502.92 266.10 L503.31 266.75 L503.69 267.40 L504.05 268.02 L504.39 268.64 L504.73 269.23 L505.04 269.81 L505.35 270.37 L505.63 270.90 L505.90 271.41 L506.15 271.90 L506.38 272.37 L506.60 272.80 L506.80 273.22 L507.00 273.62 L507.18 274.01 L507.36 274.38 L507.53 274.73 L507.69 275.08 L507.85 275.42 L508.00 275.76 L508.15 276.09 L508.29 276.42 L508.43 276.75 L508.57 277.08 L508.71 277.42 L508.85 277.76 L508.98 278.11 L509.13 278.47 L509.27 278.84 L509.42 279.23 L509.57 279.64 L509.72 280.06 L509.88 280.50 L510.04 280.95 L510.20 281.41 L510.36 281.87 L510.52 282.35 L510.68 282.84 L510.84 283.33 L511.00 283.84 L511.16 284.35 L511.32 284.87 L511.48 285.39 L511.65 285.92 L511.81 286.46 L511.97 287.01 L512.13 287.56 L512.29 288.11 L512.44 288.68 L512.60 289.24 L512.76 289.81 L512.92 290.39 L513.07 290.96 L513.23 291.54 L513.38 292.13 L513.54 292.71 L513.69 293.30 L513.84 293.89 L513.99 294.48 L514.14 295.07 L514.29 295.67 L514.44 296.26 L514.58 296.85 L514.72 297.44 L514.86 298.02 L515.00 298.61 L515.14 299.20 L515.27 299.79 L515.40 300.38 L515.54 300.97 L515.67 301.56 L515.80 302.16 L515.92 302.76 L516.05 303.37 L516.18 303.98 L516.31 304.59 L516.44 305.21 L516.57 305.84 L516.69 306.47 L516.82 307.12 L516.95 307.77 L517.08 308.42 L517.22 309.09 L517.35 309.77 L517.48 310.46 L517.62 311.16 L517.76 311.87 L517.90 312.59 L518.04 313.33 L518.19 314.08 L518.34 314.84 L518.49 315.61 L518.64 316.41 L518.79 317.21 L518.95 318.04 L519.12 318.88 L519.28 319.73 L519.45 320.60 L519.62 321.49 L519.79 322.39 L519.97 323.30 L520.14 324.23 L520.32 325.18 L520.50 326.13 L520.68 327.10 L520.86 328.09 L521.04 329.09 L521.23 330.10 L521.41 331.13 L521.60 332.17 L521.79 333.23 L521.98 334.30 L522.17 335.38 L522.37 336.48 L522.56 337.59 L522.76 338.71 L522.96 339.85 L523.16 341.00 L523.36 342.17 L523.57 343.35 L523.77 344.54 L523.98 345.75 L524.19 346.97 L524.40 348.20 L524.61 349.45 L524.83 350.70 L525.04 351.98 L525.26 353.26 L525.48 354.56 L525.70 355.88 L525.92 357.20 L526.15 358.54 L526.37 359.89 L526.60 361.26 L526.83 362.64 L527.06 364.03 L527.29 365.43 L527.52 366.85 L527.76 368.28 L528.00 369.72 L528.23 371.18 L528.47 372.64 L528.72 374.13 L528.96 375.62 L529.20 377.12 L529.45 378.64 L529.70 380.17 L529.95 381.72 L530.20 383.27 L530.45 384.84 L530.71 386.42 L530.96 388.01 L531.22 389.62 L531.48 391.24 L531.74 392.87 L532.00 394.51 L532.27 396.16 L532.53 397.83 L532.80 399.51 L533.07 401.20 L533.34 402.90 L533.61 404.61 L533.89 406.34 L534.16 408.08 L534.44 409.83 L534.72 411.59 L535.00 413.36" stroke="#a0005a" stroke-width="1.30"/>
<path d="M90.05 -13.69 L90.26 -11.98 L90.46 -10.28 L90.67 -8.59 L90.87 -6.90 L91.08 -5.23 L91.28 -3.56 L91.49 -1.91 L91.69 -0.26 L91.89 1.37 L92.09 3.00 L92.29 4.62 L92.49 6.23 L92.69 7.83 L92.89 9.42 L93.08 11.00 L93.28 12.57 L93.47 14.13 L93.67 15.69 L93.86 17.23 L94.06 18.76 L94.25 20.29 L94.44 21.80 L94.63 23.31 L94.82 24.80 L95.01 26.29 L95.20 27.77 L95.39 29.23 L95.58 30.69 L95.77 32.14 L95.95 33.57 L96.14 35.00 L96.32 36.42 L96.51 37.83 L96.69 39.22 L96.88 40.61 L97.06 41.99 L97.24 43.36 L97.42 44.72 L97.60 46.07 L97.78 47.40 L97.96 48.73 L98.14 50.05 L98.31 51.36 L98.49 52.66 L98.67 53.95 L98.84 55.22 L99.02 56.49 L99.19 57.75 L99.37 59.00 L99.54 60.23 L99.71 61.46 L99.88 62.68 L100.05 63.88 L100.22 65.08 L100.39 66.26 L100.56 67.44 L100.73 68.60 L100.90 69.76 L101.06 70.90 L101.23 72.03 L101.39 73.15 L101.56 74.27 L101.72 75.37 L101.89 76.46 L102.05 77.54 L102.21 78.61 L102.37 79.66 L102.53 80.71 L102.69 81.75 L102.85 82.78 L103.01 83.79 L103.17 84.80 L103.32 85.79 L103.48 86.76 L103.63 87.72 L103.78 88.66 L103.93 89.58 L104.07 90.49 L104.21 91.39 L104.36 92.27 L104.50 93.14 L104.63 93.99 L104.77 94.84 L104.91 95.67 L105.04 96.49 L105.17 97.31 L105.31 98.11 L105.44 98.91 L105.57 99.69 L105.70 100.48 L105.83 101.25 L105.96 102.02 L106.09 102.78 L106.22 103.54 L106.35 104.30 L106.48 105.06 L106.62 105.81 L106.75 106.56 L106.88 107.31 L107.02 108.05 L107.15 108.80 L107.29 109.55 L107.43 110.31 L107.57 111.06 L107.71 111.82 L107.85 112.58 L108.00 113.35 L108.14 114.12 L108.29 114.89 L108.44 115.68 L108.60 116.47 L108.76 117.27 L108.92 118.08 L109.08 118.89 L109.24 119.72 L109.41 120.56 L109.58 121.40 L109.76 122.26 L109.94 123.12 L110.12 123.99 L110.30 124.87 L110.48 125.76 L110.67 126.65 L110.86 127.55 L111.05 128.45 L111.25 129.36 L111.44 130.27 L111.64 131.18 L111.84 132.10 L112.05 133.02 L112.25 133.94 L112.46 134.86 L112.66 135.78 L112.87 136.71 L113.08 137.63 L113.30 138.55 L113.51 139.47 L113.72 140.38 L113.94 141.29 L114.16 142.20 L114.38 143.11 L114.60 144.01 L114.82 144.91 L115.04 145.79 L115.26 146.68 L115.48 147.55 L115.70 148.42 L115.92 149.28 L116.15 150.13 L116.37 150.98 L116.60 151.81 L116.82 152.63 L117.04 153.44 L117.27 154.24 L117.49 155.03 L117.72 155.81 L117.94 156.57 L118.16 157.32 L118.39 158.05 L118.61 158.77 L118.83 159.47 L119.05 160.16 L119.27 160.84 L119.50 161.51 L119.72 162.17 L119.94 162.83 L120.16 163.48 L120.38 164.12 L120.61 164.76 L120.83 165.38 L121.06 166.01 L121.28 166.62 L121.51 167.23 L121.73 167.83 L121.96 168.43 L122.19 169.02 L122.42 169.60 L122.65 170.18 L122.88 170.75 L123.11 171.31 L123.35 171.87 L123.58 172.42 L123.82 172.97 L124.06 173.51 L124.29 174.05 L124.53 174.58 L124.78 175.10 L125.02 175.62 L125.26 176.14 L125.51 176.64 L125.76 177.15 L126.01 177.65 L126.26 178.14 L126.51 178.63 L126.77 179.12 L127.03 179.60 L127.30 180.08 L127.57 180.55 L127.85 181.03 L128.13 181.50 L128.41 181.96 L128.70 182.42 L128.99 182.88 L129.28 183.33 L129.57 183.78 L129.87 184.22 L130.16 184.66 L130.45 185.09 L130.75 185.52 L131.04 185.94 L131.33 186.35 L131.62 186.75 L131.91 187.15 L132.19 187.54 L132.47 187.93 L132.74 188.30 L133.01 188.67 L133.28 189.03 L133.54 189.37 L133.79 189.71 L134.03 190.05 L134.27 190.37 L134.50 190.68 L134.73 190.98 L134.95 191.27 L135.16 191.56 L135.37 191.84 L135.58 192.11 L135.79 192.38 L135.99 192.64 L136.20 192.90 L136.41 193.16 L136.62 193.42 L136.83 193.67 L137.04 193.93 L137.26 194.18 L137.49 194.44 L137.72 194.69 L137.96 194.95 L138.20 195.22 L138.46 195.48 L138.72 195.74 L138.98 196.01 L139.25 196.27 L139.53 196.53 L139.81 196.79 L140.09 197.05 L140.38 197.30 L140.66 197.56 L140.95 197.82 L141.24 198.07 L141.53 198.32 L141.82 198.57 L142.11 198.82 L142.40 199.07 L142.69 199.31 L142.97 199.55 L143.25 199.79 L143.53 200.02 L143.80 200.25 L144.06 200.48 L144.32 200.70 L144.57 200.91 L144.82 201.12 L145.07 201.33 L145.32 201.54 L145.57 201.75 L145.82 201.95 L146.07 202.16 L146.33 202.37 L146.60 202.58 L146.88 202.80 L147.16 203.01 L147.46 203.24 L147.77 203.47 L148.09 203.70 L148.43 203.95 L148.78 204.20 L149.16 204.47 L149.56 204.74 L149.97 205.03 L150.41 205.33 L150.86 205.64 L151.33 205.95 L151.81 206.28 L152.31 206.60 L152.82 206.94 L153.34 207.27 L153.88 207.61 L154.42 207.96 L154.97 208.30 L155.53 208.64 L156.09 208.98 L156.67 209.32 L157.24 209.66 L157.82 209.99 L158.40 210.32 L158.98 210.65 L159.56 210.96 L160.14 211.27 L160.71 211.57 L161.29 211.86 L161.85 212.14 L162.42 212.41 L162.97 212.67 L163.52 212.91 L164.06 213.14 L164.59 213.35 L165.11 213.55 L165.62 213.74 L166.12 213.93 L166.62 214.11 L167.11 214.29 L167.61 214.47 L168.09 214.64 L168.58 214.81 L169.06 214.97 L169.54 215.14 L170.02 215.29 L170.51 215.45 L170.99 215.60 L171.47 215.75 L171.96 215.89 L172.45 216.03 L172.94 216.17 L173.44 216.30 L173.94 216.43 L174.44 216.56 L174.96 216.68 L175.48 216.79 L176.00 216.91 L176.54 217.01 L177.08 217.12 L177.64 217.22 L178.20 217.31 L178.78 217.40 L179.36 217.49 L179.95 217.58 L180.55 217.66 L181.15 217.74 L181.75 217.82 L182.37 217.90 L182.98 217.98 L183.61 218.05 L184.24 218.13 L184.87 218.20 L185.51 218.27 L186.16 218.34 L186.81 218.41 L187.47 218.47 L188.14 218.54 L188.81 218.60 L189.49 218.67 L190.18 218.73 L190.88 218.79 L191.58 218.85 L192.29 218.90 L193.00 218.96 L193.72 219.02 L194.46 219.07 L195.19 219.12 L195.94 219.17 L196.70 219.23 L197.46 219.28 L198.23 219.33 L199.01 219.37 L199.79 219.42 L200.59 219.47 L201.39 219.51 L202.21 219.56 L203.03 219.60 L203.86 219.65 L204.70 219.69 L205.55 219.73 L206.42 219.77 L207.30 219.81 L208.20 219.85 L209.12 219.89 L210.05 219.93 L211.00 219.96 L211.96 220.00 L212.94 220.04 L213.93 220.07 L214.93 220.10 L215.95 220.14 L216.98 220.17 L218.02 220.20 L219.07 220.23 L220.14 220.26 L221.21 220.29 L222.30 220.32 L223.39 220.35 L224.50 220.38 L225.61 220.41 L226.73 220.44 L227.86 220.47 L229.00 220.49 L230.14 220.52 L231.30 220.55 L232.45 220.58 L233.62 220.60 L234.79 220.63 L235.96 220.66 L237.14 220.68 L238.33 220.71 L239.52 220.74 L240.71 220.76 L241.90 220.79 L243.10 220.82 L244.30 220.84 L245.50 220.87 L246.70 220.90 L247.90 220.92 L249.11 220.95 L250.31 220.98 L251.51 221.01 L252.71 221.04 L253.91 221.07 L255.11 221.09 L256.31 221.12 L257.50 221.16 L258.69 221.19 L259.88 221.22 L261.06 221.25 L262.24 221.28 L263.42 221.32 L264.58 221.35 L265.75 221.38 L266.90 221.42 L268.05 221.45 L269.20 221.49 L270.33 221.53 L271.47 221.57 L272.61 221.61 L273.75 221.65 L274.90 221.69 L276.04 221.73 L277.19 221.77 L278.34 221.81 L279.50 221.86 L280.65 221.90 L281.81 221.94 L282.97 221.99 L284.13 222.03 L285.29 222.08 L286.46 222.12 L287.62 222.17 L288.79 222.22 L289.96 222.26 L291.12 222.31 L292.29 222.36 L293.47 222.41 L294.64 222.46 L295.81 222.51 L296.98 222.56 L298.15 222.61 L299.33 222.66 L300.50 222.71 L301.67 222.76 L302.84 222.81 L304.02 222.86 L305.19 222.91 L306.36 222.96 L307.53 223.01 L308.70 223.06 L309.87 223.12 L311.04 223.17 L312.21 223.22 L313.38 223.27 L314.55 223.32 L315.71 223.38 L316.87 223.43 L318.04 223.48 L319.20 223.53 L320.36 223.58 L321.51 223.64 L322.67 223.69 L323.82 223.74 L324.97 223.79 L326.12 223.84 L327.27 223.89 L328.41 223.94 L329.55 224.00 L330.69 224.05 L331.83 224.10 L332.96 224.15 L334.09 224.20 L335.22 224.25 L336.34 224.30 L337.46 224.35 L338.58 224.40 L339.69 224.44 L340.81 224.49 L341.93 224.54 L343.05 224.59 L344.19 224.64 L345.33 224.69 L346.47 224.73 L347.62 224.78 L348.78 224.83 L349.94 224.88 L351.10 224.93 L352.26 224.98 L353.43 225.03 L354.60 225.08 L355.78 225.12 L356.95 225.17 L358.12 225.22 L359.30 225.27 L360.47 225.32 L361.64 225.37 L362.81 225.42 L363.98 225.47 L365.15 225.52 L366.31 225.56 L367.47 225.61 L368.63 225.66 L369.78 225.71 L370.92 225.76 L372.07 225.81 L373.20 225.86 L374.33 225.91 L375.45 225.95 L376.56 226.00 L377.67 226.05 L378.77 226.10 L379.86 226.15 L380.93 226.19 L382.00 226.24 L383.06 226.29 L384.11 226.34 L385.14 226.39 L386.17 226.43 L387.18 226.48 L388.17 226.53 L389.16 226.58 L390.13 226.62 L391.08 226.67 L392.02 226.72 L392.95 226.76 L393.86 226.81 L394.75 226.86 L395.63 226.90 L396.48 226.95 L397.32 226.99 L398.14 227.04 L398.94 227.09 L399.73 227.13 L400.49 227.18 L401.23 227.22 L401.95 227.26 L402.65 227.31 L403.33 227.35 L404.00 227.39 L404.65 227.43 L405.29 227.47 L405.92 227.51 L406.53 227.55 L407.14 227.58 L407.73 227.62 L408.32 227.66 L408.90 227.70 L409.47 227.74 L410.04 227.78 L410.61 227.82 L411.17 227.86 L411.73 227.90 L412.29 227.94 L412.86 227.98 L413.43 228.02 L414.00 228.06 L414.57 228.11 L415.15 228.15 L415.74 228.20 L416.34 228.25 L416.94 228.29 L417.56 228.34 L418.19 228.39 L418.83 228.45 L419.49 228.50 L420.16 228.56 L420.85 228.62 L421.56 228.68 L422.29 228.74 L423.03 228.80 L423.78 228.87 L424.54 228.94 L425.32 229.01 L426.11 229.08 L426.91 229.16 L427.72 229.24 L428.53 229.31 L429.35 229.39 L430.18 229.48 L431.00 229.56 L431.84 229.64 L432.67 229.73 L433.50 229.81 L434.34 229.90 L435.17 229.99 L436.00 230.08 L436.82 230.17 L437.64 230.26 L438.46 230.35 L439.26 230.44 L440.06 230.54 L440.85 230.63 L441.63 230.72 L442.39 230.82 L443.15 230.91 L443.89 231.00 L444.61 231.10 L445.32 231.19 L446.01 231.29 L446.68 231.38 L447.33 231.47 L447.96 231.57 L448.57 231.66 L449.16 231.75 L449.72 231.84 L450.26 231.93 L450.77 232.02 L451.27 232.11 L451.75 232.20 L452.21 232.29 L452.66 232.38 L453.10 232.47 L453.52 232.56 L453.94 232.66 L454.35 232.75 L454.75 232.84 L455.15 232.93 L455.54 233.03 L455.93 233.12 L456.33 233.22 L456.72 233.32 L457.12 233.42 L457.52 233.52 L457.94 233.63 L458.36 233.73 L458.78 233.84 L459.23 233.95 L459.68 234.06 L460.15 234.17 L460.63 234.29 L461.12 234.40 L461.61 234.52 L462.11 234.64 L462.62 234.75 L463.13 234.87 L463.65 234.99 L464.17 235.11 L464.69 235.24 L465.23 235.36 L465.76 235.49 L466.30 235.62 L466.83 235.75 L467.38 235.89 L467.92 236.02 L468.46 236.16 L469.01 236.31 L469.55 236.46 L470.09 236.61 L470.64 236.76 L471.18 236.92 L471.72 237.09 L472.25 237.25 L472.79 237.43 L473.32 237.60 L473.85 237.79 L474.37 237.97 L474.89 238.17 L475.41 238.37 L475.92 238.58 L476.44 238.80 L476.96 239.03 L477.48 239.27 L478.00 239.52 L478.52 239.78 L479.04 240.05 L479.56 240.32 L480.08 240.61 L480.60 240.90 L481.12 241.20 L481.64 241.51 L482.16 241.83 L482.67 242.15 L483.19 242.49 L483.70 242.82 L484.21 243.17 L484.72 243.52 L485.22 243.88 L485.73 244.25 L486.23 244.62 L486.73 245.00 L487.22 245.38 L487.71 245.77 L488.20 246.16 L488.68 246.56 L489.16 246.97 L489.64 247.37 L490.11 247.79 L490.57 248.20 L491.04 248.63 L491.50 249.07 L491.97 249.54 L492.44 250.04 L492.92 250.55 L493.40 251.10 L493.88 251.66 L494.37 252.24 L494.86 252.84 L495.34 253.46 L495.83 254.09 L496.32 254.73 L496.80 255.39 L497.28 256.06 L497.77 256.73 L498.24 257.42 L498.72 258.11 L499.19 258.81 L499.66 259.51 L500.12 260.21 L500.58 260.92 L501.02 261.62 L501.47 262.32 L501.90 263.02 L502.33 263.71 L502.75 264.40 L503.16 265.08 L503.56 265.75 L503.95 266.40 L504.33 267.05 L504.69 267.69 L505.05 268.30 L505.39 268.91 L505.72 269.49 L506.03 270.06 L506.33 270.60 L506.62 271.12 L506.89 271.62 L507.14 272.10 L507.38 272.55 L507.60 272.97 L507.82 273.38 L508.02 273.77 L508.22 274.15 L508.41 274.51 L508.59 274.86 L508.77 275.20 L508.94 275.54 L509.10 275.86 L509.26 276.19 L509.42 276.52 L509.57 276.84 L509.73 277.17 L509.88 277.51 L510.03 277.85 L510.18 278.20 L510.33 278.56 L510.48 278.93 L510.64 279.32 L510.80 279.73 L510.96 280.15 L511.12 280.59 L511.28 281.04 L511.44 281.49 L511.60 281.96 L511.77 282.44 L511.93 282.93 L512.09 283.42 L512.24 283.93 L512.40 284.44 L512.56 284.96 L512.72 285.48 L512.88 286.02 L513.03 286.56 L513.19 287.10 L513.34 287.65 L513.50 288.21 L513.65 288.77 L513.80 289.34 L513.95 289.91 L514.10 290.48 L514.25 291.06 L514.40 291.64 L514.55 292.23 L514.70 292.81 L514.84 293.40 L514.99 293.99 L515.13 294.58 L515.27 295.17 L515.42 295.76 L515.55 296.35 L515.69 296.94 L515.83 297.53 L515.96 298.12 L516.09 298.70 L516.22 299.29 L516.34 299.88 L516.47 300.47 L516.59 301.06 L516.71 301.65 L516.84 302.25 L516.96 302.85 L517.08 303.46 L517.20 304.06 L517.32 304.68 L517.43 305.30 L517.55 305.93 L517.67 306.56 L517.79 307.21 L517.92 307.86 L518.04 308.52 L518.16 309.18 L518.29 309.86 L518.41 310.55 L518.54 311.25 L518.67 311.96 L518.80 312.69 L518.93 313.42 L519.07 314.17 L519.21 314.94 L519.35 315.71 L519.49 316.51 L519.64 317.31 L519.79 318.14 L519.94 318.98 L520.10 319.84 L520.26 320.71 L520.42 321.59 L520.58 322.49 L520.74 323.41 L520.91 324.34 L521.07 325.28 L521.24 326.24 L521.41 327.21 L521.58 328.20 L521.76 329.19 L521.93 330.21 L522.11 331.24 L522.28 332.28 L522.46 333.33 L522.64 334.40 L522.83 335.48 L523.01 336.58 L523.20 337.69 L523.38 338.81 L523.57 339.95 L523.76 341.10 L523.95 342.27 L524.15 343.45 L524.34 344.64 L524.54 345.84 L524.74 347.06 L524.94 348.29 L525.14 349.54 L525.34 350.80 L525.54 352.07 L525.75 353.36 L525.96 354.65 L526.17 355.96 L526.38 357.29 L526.59 358.63 L526.80 359.98 L527.02 361.34 L527.24 362.72 L527.45 364.11 L527.67 365.51 L527.90 366.92 L528.12 368.35 L528.34 369.79 L528.57 371.25 L528.80 372.71 L529.03 374.19 L529.26 375.68 L529.49 377.18 L529.72 378.70 L529.96 380.23 L530.20 381.77 L530.44 383.32 L530.68 384.89 L530.92 386.47 L531.16 388.06 L531.41 389.66 L531.65 391.28 L531.90 392.90 L532.15 394.54 L532.40 396.19 L532.66 397.86 L532.91 399.53 L533.17 401.22 L533.42 402.92 L533.68 404.63 L533.94 406.35 L534.20 408.09 L534.47 409.83 L534.73 411.59 L535.00 413.36" stroke="#4a1028" stroke-width="1.30"/>
<path d="M90.05 -13.69 L90.25 -11.97 L90.45 -10.27 L90.64 -8.57 L90.84 -6.89 L91.04 -5.21 L91.23 -3.54 L91.43 -1.88 L91.62 -0.23 L91.81 1.41 L92.00 3.04 L92.20 4.66 L92.39 6.28 L92.58 7.88 L92.77 9.47 L92.95 11.06 L93.14 12.63 L93.33 14.20 L93.52 15.76 L93.70 17.30 L93.89 18.84 L94.07 20.37 L94.26 21.88 L94.44 23.39 L94.62 24.89 L94.80 26.38 L94.99 27.86 L95.17 29.33 L95.35 30.79 L95.52 32.24 L95.70 33.68 L95.88 35.11 L96.06 36.53 L96.23 37.94 L96.41 39.34 L96.59 40.73 L96.76 42.11 L96.93 43.49 L97.11 44.85 L97.28 46.20 L97.45 47.54 L97.62 48.87 L97.79 50.19 L97.96 51.50 L98.13 52.80 L98.30 54.09 L98.47 55.37 L98.63 56.64 L98.80 57.90 L98.97 59.15 L99.13 60.39 L99.30 61.62 L99.46 62.83 L99.62 64.04 L99.78 65.24 L99.95 66.43 L100.11 67.60 L100.27 68.77 L100.43 69.92 L100.59 71.07 L100.75 72.20 L100.90 73.33 L101.06 74.44 L101.22 75.54 L101.37 76.63 L101.53 77.71 L101.68 78.78 L101.84 79.84 L101.99 80.89 L102.14 81.93 L102.29 82.96 L102.45 83.97 L102.60 84.98 L102.75 85.97 L102.89 86.94 L103.04 87.90 L103.18 88.84 L103.32 89.76 L103.46 90.67 L103.59 91.57 L103.73 92.45 L103.86 93.32 L103.99 94.17 L104.12 95.02 L104.25 95.85 L104.38 96.67 L104.50 97.49 L104.63 98.29 L104.75 99.09 L104.88 99.88 L105.00 100.66 L105.13 101.43 L105.25 102.20 L105.37 102.97 L105.50 103.73 L105.62 104.49 L105.75 105.24 L105.87 106.00 L106.00 106.75 L106.13 107.50 L106.26 108.25 L106.39 109.00 L106.52 109.76 L106.65 110.51 L106.78 111.27 L106.92 112.03 L107.05 112.79 L107.19 113.56 L107.33 114.34 L107.48 115.12 L107.62 115.91 L107.77 116.70 L107.92 117.51 L108.08 118.32 L108.24 119.14 L108.40 119.98 L108.56 120.82 L108.72 121.67 L108.89 122.53 L109.06 123.40 L109.24 124.28 L109.41 125.16 L109.59 126.05 L109.77 126.95 L109.96 127.85 L110.14 128.76 L110.33 129.67 L110.52 130.58 L110.71 131.50 L110.91 132.42 L111.10 133.35 L111.30 134.27 L111.50 135.19 L111.70 136.12 L111.90 137.04 L112.11 137.97 L112.31 138.89 L112.52 139.81 L112.73 140.73 L112.94 141.64 L113.15 142.55 L113.36 143.46 L113.57 144.36 L113.79 145.26 L114.00 146.15 L114.22 147.03 L114.44 147.91 L114.65 148.78 L114.87 149.63 L115.09 150.49 L115.31 151.33 L115.53 152.16 L115.75 152.98 L115.97 153.79 L116.19 154.58 L116.41 155.37 L116.63 156.14 L116.85 156.90 L117.07 157.64 L117.29 158.37 L117.51 159.09 L117.73 159.78 L117.95 160.47 L118.17 161.14 L118.39 161.81 L118.61 162.47 L118.84 163.13 L119.06 163.77 L119.28 164.41 L119.51 165.05 L119.73 165.67 L119.96 166.29 L120.19 166.91 L120.42 167.51 L120.65 168.11 L120.88 168.71 L121.11 169.29 L121.34 169.88 L121.58 170.45 L121.81 171.02 L122.05 171.58 L122.29 172.14 L122.53 172.69 L122.77 173.23 L123.01 173.77 L123.26 174.31 L123.50 174.83 L123.75 175.36 L124.00 175.87 L124.25 176.39 L124.51 176.89 L124.76 177.39 L125.02 177.89 L125.28 178.38 L125.54 178.87 L125.80 179.35 L126.07 179.83 L126.35 180.31 L126.63 180.78 L126.92 181.25 L127.21 181.72 L127.50 182.18 L127.80 182.64 L128.10 183.09 L128.40 183.54 L128.71 183.99 L129.01 184.43 L129.32 184.86 L129.62 185.29 L129.92 185.71 L130.23 186.12 L130.53 186.53 L130.83 186.93 L131.12 187.32 L131.42 187.71 L131.70 188.08 L131.99 188.45 L132.27 188.81 L132.54 189.17 L132.81 189.51 L133.08 189.84 L133.33 190.17 L133.58 190.48 L133.82 190.78 L134.06 191.08 L134.29 191.37 L134.52 191.65 L134.75 191.92 L134.97 192.19 L135.19 192.45 L135.41 192.71 L135.63 192.96 L135.85 193.22 L136.08 193.47 L136.30 193.72 L136.53 193.97 L136.76 194.22 L137.00 194.48 L137.24 194.73 L137.49 194.99 L137.75 195.26 L138.01 195.52 L138.27 195.78 L138.54 196.04 L138.81 196.31 L139.09 196.57 L139.36 196.83 L139.64 197.09 L139.92 197.35 L140.21 197.61 L140.49 197.87 L140.78 198.12 L141.07 198.37 L141.36 198.62 L141.64 198.87 L141.93 199.12 L142.22 199.36 L142.51 199.60 L142.80 199.83 L143.08 200.07 L143.36 200.29 L143.64 200.51 L143.91 200.73 L144.18 200.94 L144.45 201.15 L144.71 201.35 L144.98 201.55 L145.25 201.76 L145.52 201.96 L145.80 202.16 L146.08 202.36 L146.37 202.57 L146.67 202.77 L146.97 202.98 L147.29 203.20 L147.61 203.42 L147.95 203.64 L148.30 203.87 L148.67 204.11 L149.06 204.36 L149.47 204.62 L149.89 204.89 L150.34 205.17 L150.80 205.45 L151.27 205.74 L151.76 206.04 L152.27 206.34 L152.78 206.65 L153.31 206.96 L153.85 207.27 L154.40 207.59 L154.95 207.91 L155.51 208.22 L156.08 208.54 L156.66 208.85 L157.23 209.16 L157.81 209.47 L158.40 209.77 L158.98 210.07 L159.56 210.36 L160.14 210.64 L160.72 210.92 L161.30 211.19 L161.87 211.45 L162.43 211.70 L162.99 211.94 L163.54 212.16 L164.08 212.37 L164.62 212.57 L165.14 212.76 L165.65 212.94 L166.16 213.11 L166.66 213.29 L167.16 213.46 L167.65 213.62 L168.14 213.79 L168.63 213.95 L169.11 214.11 L169.60 214.26 L170.08 214.41 L170.57 214.56 L171.05 214.70 L171.54 214.84 L172.02 214.98 L172.51 215.12 L173.01 215.25 L173.51 215.37 L174.01 215.49 L174.52 215.61 L175.03 215.73 L175.56 215.84 L176.09 215.95 L176.62 216.05 L177.17 216.15 L177.73 216.24 L178.29 216.33 L178.87 216.42 L179.46 216.50 L180.05 216.58 L180.65 216.66 L181.26 216.74 L181.87 216.82 L182.48 216.89 L183.10 216.96 L183.73 217.04 L184.36 217.11 L185.00 217.17 L185.64 217.24 L186.29 217.31 L186.95 217.37 L187.61 217.43 L188.28 217.49 L188.96 217.55 L189.64 217.61 L190.33 217.67 L191.03 217.73 L191.73 217.78 L192.44 217.84 L193.16 217.89 L193.89 217.94 L194.62 217.99 L195.36 218.05 L196.11 218.10 L196.87 218.14 L197.64 218.19 L198.41 218.24 L199.19 218.29 L199.99 218.33 L200.79 218.38 L201.59 218.42 L202.41 218.47 L203.24 218.51 L204.07 218.56 L204.92 218.60 L205.77 218.64 L206.65 218.68 L207.54 218.72 L208.44 218.76 L209.37 218.80 L210.31 218.84 L211.26 218.88 L212.23 218.92 L213.21 218.95 L214.21 218.99 L215.22 219.02 L216.24 219.06 L217.27 219.09 L218.32 219.12 L219.38 219.16 L220.45 219.19 L221.53 219.22 L222.62 219.25 L223.72 219.28 L224.83 219.31 L225.94 219.34 L227.07 219.37 L228.21 219.40 L229.35 219.43 L230.50 219.46 L231.65 219.49 L232.82 219.52 L233.99 219.55 L235.16 219.58 L236.34 219.60 L237.52 219.63 L238.71 219.66 L239.90 219.69 L241.10 219.72 L242.30 219.75 L243.50 219.78 L244.70 219.80 L245.90 219.83 L247.11 219.86 L248.31 219.89 L249.52 219.92 L250.72 219.95 L251.93 219.98 L253.13 220.01 L254.33 220.05 L255.53 220.08 L256.73 220.11 L257.93 220.14 L259.12 220.18 L260.31 220.21 L261.49 220.24 L262.67 220.28 L263.85 220.32 L265.01 220.35 L266.18 220.39 L267.33 220.43 L268.48 220.47 L269.63 220.51 L270.77 220.55 L271.91 220.59 L273.05 220.63 L274.19 220.67 L275.34 220.72 L276.49 220.77 L277.64 220.81 L278.80 220.86 L279.96 220.91 L281.11 220.96 L282.27 221.01 L283.44 221.07 L284.60 221.12 L285.77 221.17 L286.93 221.23 L288.10 221.28 L289.27 221.34 L290.44 221.39 L291.61 221.45 L292.79 221.51 L293.96 221.57 L295.13 221.62 L296.31 221.68 L297.48 221.74 L298.66 221.80 L299.83 221.86 L301.01 221.92 L302.18 221.98 L303.36 222.03 L304.53 222.09 L305.71 222.15 L306.88 222.21 L308.06 222.27 L309.23 222.33 L310.40 222.39 L311.57 222.45 L312.74 222.50 L313.91 222.56 L315.08 222.62 L316.25 222.67 L317.41 222.73 L318.58 222.79 L319.74 222.84 L320.90 222.89 L322.06 222.95 L323.21 223.00 L324.37 223.05 L325.52 223.10 L326.67 223.15 L327.82 223.20 L328.96 223.25 L330.11 223.30 L331.25 223.34 L332.38 223.39 L333.52 223.43 L334.65 223.47 L335.78 223.51 L336.90 223.55 L338.02 223.59 L339.14 223.63 L340.25 223.66 L341.37 223.70 L342.50 223.73 L343.63 223.76 L344.77 223.80 L345.92 223.83 L347.07 223.86 L348.23 223.89 L349.39 223.91 L350.55 223.94 L351.72 223.97 L352.89 223.99 L354.06 224.02 L355.23 224.05 L356.41 224.07 L357.59 224.09 L358.76 224.12 L359.94 224.14 L361.12 224.16 L362.29 224.19 L363.46 224.21 L364.64 224.23 L365.80 224.25 L366.97 224.27 L368.13 224.30 L369.29 224.32 L370.44 224.34 L371.58 224.36 L372.72 224.38 L373.86 224.40 L374.99 224.42 L376.11 224.45 L377.22 224.47 L378.32 224.49 L379.42 224.51 L380.50 224.54 L381.58 224.56 L382.64 224.58 L383.70 224.61 L384.74 224.63 L385.77 224.66 L386.79 224.68 L387.79 224.71 L388.79 224.73 L389.76 224.76 L390.73 224.79 L391.68 224.82 L392.61 224.85 L393.53 224.88 L394.43 224.91 L395.31 224.94 L396.17 224.98 L397.02 225.01 L397.85 225.05 L398.66 225.08 L399.45 225.12 L400.22 225.16 L400.97 225.20 L401.70 225.24 L402.41 225.29 L403.10 225.34 L403.77 225.39 L404.43 225.44 L405.07 225.50 L405.70 225.55 L406.32 225.61 L406.93 225.67 L407.53 225.73 L408.12 225.80 L408.70 225.86 L409.27 225.93 L409.84 225.99 L410.41 226.06 L410.98 226.13 L411.54 226.20 L412.10 226.27 L412.67 226.34 L413.23 226.41 L413.80 226.48 L414.37 226.55 L414.95 226.63 L415.54 226.70 L416.14 226.77 L416.74 226.84 L417.35 226.91 L417.98 226.98 L418.62 227.05 L419.27 227.12 L419.94 227.19 L420.63 227.26 L421.33 227.32 L422.05 227.39 L422.79 227.46 L423.54 227.53 L424.30 227.60 L425.08 227.67 L425.86 227.74 L426.66 227.81 L427.47 227.88 L428.28 227.95 L429.10 228.02 L429.93 228.09 L430.76 228.16 L431.59 228.23 L432.43 228.30 L433.26 228.37 L434.10 228.45 L434.93 228.52 L435.77 228.59 L436.59 228.67 L437.42 228.74 L438.24 228.81 L439.05 228.89 L439.85 228.96 L440.64 229.04 L441.43 229.11 L442.20 229.19 L442.96 229.26 L443.70 229.34 L444.43 229.41 L445.15 229.49 L445.84 229.57 L446.52 229.64 L447.18 229.72 L447.82 229.80 L448.44 229.87 L449.03 229.95 L449.60 230.03 L450.14 230.11 L450.67 230.19 L451.17 230.27 L451.66 230.34 L452.12 230.42 L452.58 230.49 L453.02 230.57 L453.45 230.65 L453.87 230.72 L454.28 230.80 L454.69 230.88 L455.09 230.96 L455.48 231.04 L455.88 231.12 L456.28 231.20 L456.67 231.29 L457.07 231.37 L457.48 231.46 L457.89 231.56 L458.31 231.65 L458.74 231.75 L459.18 231.85 L459.64 231.95 L460.11 232.06 L460.58 232.17 L461.07 232.29 L461.56 232.40 L462.06 232.52 L462.57 232.64 L463.08 232.77 L463.59 232.89 L464.11 233.02 L464.63 233.16 L465.16 233.29 L465.69 233.43 L466.22 233.58 L466.76 233.73 L467.30 233.88 L467.84 234.03 L468.38 234.19 L468.92 234.35 L469.46 234.52 L470.01 234.69 L470.55 234.87 L471.09 235.05 L471.63 235.23 L472.17 235.42 L472.70 235.61 L473.24 235.81 L473.77 236.01 L474.30 236.22 L474.82 236.44 L475.34 236.65 L475.87 236.89 L476.39 237.13 L476.92 237.38 L477.45 237.65 L477.98 237.92 L478.51 238.21 L479.04 238.51 L479.58 238.82 L480.11 239.13 L480.65 239.46 L481.18 239.80 L481.71 240.14 L482.25 240.49 L482.78 240.85 L483.31 241.22 L483.84 241.60 L484.36 241.98 L484.89 242.37 L485.41 242.77 L485.93 243.17 L486.45 243.58 L486.96 243.99 L487.47 244.41 L487.98 244.84 L488.48 245.27 L488.98 245.70 L489.48 246.14 L489.97 246.58 L490.45 247.02 L490.93 247.47 L491.40 247.92 L491.87 248.37 L492.33 248.83 L492.80 249.32 L493.28 249.83 L493.75 250.36 L494.23 250.91 L494.71 251.48 L495.19 252.06 L495.67 252.67 L496.16 253.28 L496.64 253.92 L497.13 254.56 L497.61 255.22 L498.09 255.89 L498.57 256.56 L499.04 257.24 L499.51 257.93 L499.98 258.63 L500.44 259.32 L500.90 260.02 L501.36 260.72 L501.80 261.42 L502.24 262.11 L502.68 262.81 L503.10 263.49 L503.52 264.18 L503.93 264.85 L504.33 265.52 L504.72 266.18 L505.09 266.82 L505.46 267.45 L505.82 268.07 L506.16 268.68 L506.49 269.26 L506.81 269.83 L507.11 270.38 L507.40 270.91 L507.68 271.42 L507.94 271.90 L508.18 272.36 L508.41 272.80 L508.63 273.22 L508.84 273.62 L509.04 274.00 L509.23 274.36 L509.42 274.72 L509.60 275.07 L509.77 275.40 L509.94 275.74 L510.10 276.06 L510.26 276.39 L510.42 276.72 L510.57 277.04 L510.72 277.38 L510.87 277.72 L511.02 278.06 L511.18 278.42 L511.33 278.79 L511.48 279.17 L511.64 279.57 L511.80 279.99 L511.96 280.43 L512.12 280.87 L512.28 281.33 L512.44 281.79 L512.60 282.27 L512.75 282.75 L512.91 283.25 L513.07 283.75 L513.22 284.26 L513.38 284.78 L513.53 285.30 L513.69 285.84 L513.84 286.38 L513.99 286.92 L514.14 287.47 L514.30 288.03 L514.45 288.59 L514.59 289.16 L514.74 289.73 L514.89 290.30 L515.04 290.88 L515.18 291.47 L515.33 292.05 L515.47 292.64 L515.61 293.23 L515.76 293.82 L515.90 294.41 L516.04 295.00 L516.18 295.60 L516.31 296.19 L516.45 296.78 L516.58 297.37 L516.71 297.96 L516.84 298.55 L516.97 299.13 L517.09 299.72 L517.21 300.31 L517.34 300.91 L517.46 301.50 L517.58 302.10 L517.70 302.70 L517.81 303.30 L517.93 303.91 L518.05 304.53 L518.17 305.15 L518.28 305.78 L518.40 306.41 L518.52 307.06 L518.64 307.71 L518.76 308.36 L518.88 309.03 L519.00 309.71 L519.12 310.40 L519.25 311.10 L519.38 311.81 L519.50 312.53 L519.63 313.27 L519.77 314.02 L519.90 314.78 L520.04 315.55 L520.18 316.35 L520.32 317.15 L520.46 317.98 L520.61 318.82 L520.77 319.67 L520.92 320.54 L521.08 321.43 L521.23 322.33 L521.39 323.24 L521.55 324.17 L521.71 325.12 L521.87 326.07 L522.04 327.04 L522.20 328.03 L522.37 329.03 L522.54 330.04 L522.71 331.07 L522.88 332.11 L523.05 333.17 L523.22 334.24 L523.40 335.32 L523.58 336.42 L523.75 337.53 L523.93 338.66 L524.12 339.80 L524.30 340.95 L524.48 342.11 L524.67 343.29 L524.85 344.49 L525.04 345.69 L525.23 346.91 L525.42 348.15 L525.62 349.39 L525.81 350.66 L526.01 351.93 L526.20 353.22 L526.40 354.52 L526.60 355.83 L526.80 357.16 L527.00 358.50 L527.21 359.85 L527.41 361.22 L527.62 362.60 L527.83 363.99 L528.04 365.39 L528.25 366.81 L528.46 368.24 L528.68 369.68 L528.89 371.14 L529.11 372.61 L529.33 374.09 L529.55 375.59 L529.77 377.09 L529.99 378.61 L530.22 380.14 L530.44 381.69 L530.67 383.25 L530.90 384.82 L531.13 386.40 L531.36 387.99 L531.59 389.60 L531.83 391.22 L532.06 392.85 L532.30 394.49 L532.54 396.15 L532.78 397.81 L533.02 399.49 L533.26 401.19 L533.50 402.89 L533.75 404.60 L534.00 406.33 L534.25 408.07 L534.50 409.82 L534.75 411.59 L535.00 413.36" stroke="#1a2a50" stroke-width="1.30"/>
<path d="M90.05 -13.69 L90.24 -11.97 L90.42 -10.26 L90.61 -8.56 L90.79 -6.86 L90.98 -5.18 L91.16 -3.51 L91.34 -1.84 L91.53 -0.19 L91.71 1.46 L91.89 3.10 L92.07 4.72 L92.25 6.34 L92.43 7.95 L92.61 9.55 L92.78 11.14 L92.96 12.72 L93.14 14.29 L93.31 15.85 L93.49 17.40 L93.66 18.94 L93.84 20.48 L94.01 22.00 L94.18 23.51 L94.35 25.02 L94.52 26.51 L94.69 27.99 L94.86 29.47 L95.03 30.93 L95.20 32.38 L95.37 33.83 L95.54 35.26 L95.70 36.69 L95.87 38.10 L96.03 39.51 L96.20 40.90 L96.36 42.29 L96.52 43.66 L96.69 45.02 L96.85 46.38 L97.01 47.72 L97.17 49.06 L97.33 50.38 L97.49 51.69 L97.65 53.00 L97.81 54.29 L97.96 55.57 L98.12 56.85 L98.28 58.11 L98.43 59.36 L98.59 60.60 L98.74 61.83 L98.89 63.05 L99.05 64.26 L99.20 65.46 L99.35 66.65 L99.50 67.83 L99.65 69.00 L99.80 70.16 L99.95 71.30 L100.10 72.44 L100.25 73.56 L100.39 74.68 L100.54 75.78 L100.69 76.88 L100.83 77.96 L100.98 79.03 L101.12 80.09 L101.26 81.14 L101.41 82.18 L101.55 83.21 L101.69 84.23 L101.83 85.23 L101.97 86.22 L102.11 87.20 L102.24 88.15 L102.37 89.09 L102.50 90.01 L102.63 90.92 L102.76 91.82 L102.88 92.70 L103.01 93.56 L103.13 94.42 L103.25 95.26 L103.37 96.10 L103.49 96.92 L103.60 97.73 L103.72 98.54 L103.84 99.34 L103.95 100.13 L104.07 100.91 L104.18 101.69 L104.30 102.46 L104.41 103.22 L104.53 103.99 L104.65 104.75 L104.76 105.51 L104.88 106.26 L105.00 107.02 L105.12 107.77 L105.24 108.52 L105.36 109.28 L105.48 110.03 L105.61 110.79 L105.73 111.56 L105.86 112.32 L105.99 113.09 L106.12 113.87 L106.25 114.65 L106.39 115.43 L106.53 116.23 L106.67 117.03 L106.81 117.84 L106.96 118.66 L107.11 119.49 L107.26 120.33 L107.42 121.18 L107.57 122.04 L107.74 122.91 L107.90 123.78 L108.07 124.67 L108.24 125.56 L108.41 126.45 L108.58 127.36 L108.76 128.26 L108.94 129.18 L109.12 130.09 L109.30 131.01 L109.49 131.94 L109.68 132.86 L109.87 133.79 L110.06 134.72 L110.25 135.64 L110.45 136.57 L110.64 137.50 L110.84 138.43 L111.04 139.35 L111.24 140.27 L111.45 141.19 L111.65 142.11 L111.85 143.02 L112.06 143.93 L112.27 144.83 L112.47 145.73 L112.68 146.62 L112.89 147.50 L113.10 148.38 L113.31 149.24 L113.52 150.10 L113.73 150.95 L113.94 151.79 L114.15 152.62 L114.37 153.44 L114.58 154.24 L114.79 155.04 L115.00 155.82 L115.21 156.59 L115.42 157.34 L115.63 158.08 L115.84 158.80 L116.05 159.51 L116.26 160.20 L116.47 160.89 L116.68 161.56 L116.89 162.23 L117.10 162.89 L117.31 163.55 L117.52 164.19 L117.73 164.84 L117.94 165.47 L118.15 166.10 L118.36 166.72 L118.57 167.33 L118.78 167.94 L119.00 168.54 L119.21 169.13 L119.43 169.72 L119.65 170.30 L119.87 170.88 L120.09 171.45 L120.31 172.01 L120.54 172.57 L120.76 173.12 L120.99 173.66 L121.22 174.20 L121.45 174.73 L121.69 175.26 L121.92 175.78 L122.16 176.30 L122.40 176.81 L122.65 177.32 L122.90 177.81 L123.15 178.31 L123.40 178.80 L123.66 179.28 L123.92 179.77 L124.20 180.24 L124.47 180.72 L124.76 181.19 L125.05 181.66 L125.34 182.13 L125.64 182.59 L125.94 183.04 L126.24 183.49 L126.55 183.94 L126.86 184.38 L127.17 184.81 L127.48 185.24 L127.79 185.67 L128.10 186.08 L128.41 186.49 L128.71 186.89 L129.02 187.28 L129.32 187.67 L129.62 188.05 L129.91 188.42 L130.20 188.78 L130.49 189.13 L130.77 189.47 L131.04 189.80 L131.31 190.13 L131.57 190.44 L131.82 190.74 L132.07 191.04 L132.32 191.32 L132.57 191.60 L132.81 191.87 L133.05 192.13 L133.29 192.39 L133.53 192.64 L133.76 192.90 L134.00 193.15 L134.24 193.39 L134.48 193.64 L134.72 193.89 L134.96 194.14 L135.21 194.39 L135.45 194.65 L135.71 194.90 L135.96 195.17 L136.22 195.43 L136.47 195.70 L136.73 195.97 L136.98 196.24 L137.24 196.51 L137.49 196.78 L137.75 197.06 L138.01 197.33 L138.27 197.59 L138.54 197.86 L138.80 198.12 L139.07 198.38 L139.35 198.64 L139.62 198.89 L139.91 199.14 L140.20 199.38 L140.49 199.62 L140.79 199.84 L141.09 200.07 L141.40 200.28 L141.71 200.49 L142.03 200.69 L142.35 200.89 L142.67 201.09 L143.00 201.28 L143.34 201.46 L143.67 201.65 L144.02 201.83 L144.37 202.01 L144.72 202.19 L145.08 202.37 L145.45 202.55 L145.82 202.73 L146.20 202.92 L146.59 203.10 L146.98 203.29 L147.38 203.47 L147.79 203.67 L148.21 203.86 L148.63 204.06 L149.07 204.27 L149.53 204.48 L150.00 204.69 L150.48 204.91 L150.98 205.14 L151.48 205.36 L152.00 205.59 L152.53 205.82 L153.07 206.05 L153.62 206.29 L154.18 206.52 L154.74 206.75 L155.30 206.99 L155.88 207.22 L156.45 207.46 L157.03 207.69 L157.62 207.92 L158.20 208.14 L158.78 208.37 L159.37 208.59 L159.95 208.81 L160.53 209.02 L161.11 209.23 L161.68 209.43 L162.25 209.63 L162.82 209.82 L163.37 210.00 L163.92 210.18 L164.46 210.35 L165.00 210.51 L165.52 210.67 L166.04 210.82 L166.55 210.97 L167.05 211.12 L167.55 211.27 L168.05 211.42 L168.54 211.56 L169.03 211.70 L169.52 211.84 L170.00 211.97 L170.49 212.11 L170.97 212.24 L171.46 212.37 L171.95 212.49 L172.44 212.62 L172.93 212.74 L173.43 212.86 L173.94 212.97 L174.45 213.09 L174.96 213.20 L175.48 213.31 L176.01 213.42 L176.55 213.52 L177.10 213.62 L177.65 213.72 L178.22 213.81 L178.80 213.91 L179.39 214.00 L179.99 214.09 L180.59 214.18 L181.19 214.27 L181.80 214.35 L182.42 214.44 L183.04 214.53 L183.67 214.61 L184.30 214.70 L184.94 214.78 L185.58 214.86 L186.23 214.94 L186.89 215.02 L187.56 215.10 L188.23 215.18 L188.90 215.26 L189.59 215.33 L190.28 215.40 L190.98 215.48 L191.68 215.55 L192.39 215.62 L193.11 215.69 L193.84 215.75 L194.58 215.82 L195.32 215.88 L196.07 215.94 L196.83 216.00 L197.59 216.06 L198.37 216.12 L199.15 216.17 L199.95 216.22 L200.75 216.27 L201.56 216.32 L202.37 216.37 L203.20 216.42 L204.04 216.46 L204.89 216.50 L205.74 216.54 L206.62 216.58 L207.51 216.61 L208.42 216.65 L209.35 216.68 L210.29 216.71 L211.24 216.75 L212.21 216.78 L213.20 216.81 L214.20 216.84 L215.21 216.86 L216.24 216.89 L217.27 216.92 L218.32 216.94 L219.39 216.97 L220.46 216.99 L221.54 217.02 L222.64 217.04 L223.74 217.06 L224.85 217.08 L225.98 217.11 L227.11 217.13 L228.24 217.15 L229.39 217.17 L230.55 217.19 L231.71 217.21 L232.87 217.23 L234.05 217.25 L235.22 217.27 L236.41 217.29 L237.59 217.31 L238.79 217.33 L239.98 217.35 L241.18 217.37 L242.38 217.39 L243.59 217.41 L244.79 217.43 L246.00 217.45 L247.21 217.47 L248.42 217.50 L249.63 217.52 L250.84 217.54 L252.05 217.56 L253.25 217.59 L254.46 217.61 L255.66 217.64 L256.87 217.66 L258.06 217.69 L259.26 217.72 L260.45 217.75 L261.64 217.78 L262.82 217.81 L264.00 217.84 L265.17 217.87 L266.34 217.90 L267.49 217.94 L268.65 217.97 L269.79 218.01 L270.93 218.05 L272.08 218.09 L273.22 218.14 L274.37 218.18 L275.52 218.23 L276.68 218.29 L277.83 218.34 L278.99 218.40 L280.15 218.46 L281.31 218.53 L282.48 218.59 L283.64 218.66 L284.81 218.73 L285.98 218.80 L287.15 218.87 L288.32 218.94 L289.49 219.02 L290.67 219.10 L291.84 219.17 L293.02 219.25 L294.20 219.33 L295.37 219.41 L296.55 219.50 L297.73 219.58 L298.91 219.66 L300.08 219.75 L301.26 219.83 L302.44 219.92 L303.62 220.00 L304.80 220.09 L305.97 220.17 L307.15 220.25 L308.33 220.34 L309.50 220.42 L310.68 220.51 L311.85 220.59 L313.03 220.67 L314.20 220.75 L315.37 220.84 L316.54 220.92 L317.71 220.99 L318.87 221.07 L320.04 221.15 L321.20 221.22 L322.36 221.30 L323.52 221.37 L324.68 221.44 L325.83 221.51 L326.99 221.57 L328.14 221.64 L329.28 221.70 L330.43 221.76 L331.57 221.82 L332.71 221.87 L333.85 221.92 L334.98 221.97 L336.11 222.02 L337.24 222.06 L338.36 222.10 L339.48 222.14 L340.60 222.18 L341.72 222.21 L342.85 222.24 L343.99 222.27 L345.14 222.30 L346.29 222.33 L347.44 222.36 L348.60 222.39 L349.77 222.41 L350.94 222.44 L352.11 222.47 L353.28 222.49 L354.46 222.51 L355.64 222.54 L356.82 222.56 L358.00 222.58 L359.18 222.60 L360.36 222.63 L361.54 222.65 L362.72 222.67 L363.89 222.69 L365.07 222.71 L366.24 222.73 L367.40 222.74 L368.56 222.76 L369.72 222.78 L370.88 222.80 L372.02 222.82 L373.17 222.84 L374.30 222.86 L375.43 222.87 L376.55 222.89 L377.66 222.91 L378.76 222.93 L379.86 222.95 L380.94 222.97 L382.02 222.99 L383.08 223.01 L384.13 223.03 L385.18 223.04 L386.20 223.07 L387.22 223.09 L388.22 223.11 L389.21 223.13 L390.19 223.15 L391.15 223.17 L392.09 223.20 L393.02 223.22 L393.93 223.25 L394.83 223.27 L395.71 223.30 L396.57 223.32 L397.41 223.35 L398.23 223.38 L399.04 223.41 L399.82 223.44 L400.58 223.47 L401.32 223.50 L402.05 223.54 L402.75 223.57 L403.43 223.60 L404.10 223.64 L404.76 223.68 L405.40 223.71 L406.02 223.75 L406.64 223.79 L407.24 223.83 L407.84 223.87 L408.43 223.91 L409.01 223.95 L409.58 223.99 L410.16 224.04 L410.72 224.08 L411.29 224.12 L411.85 224.17 L412.42 224.22 L412.99 224.26 L413.56 224.31 L414.13 224.36 L414.71 224.41 L415.30 224.46 L415.89 224.51 L416.50 224.56 L417.11 224.61 L417.73 224.66 L418.37 224.71 L419.02 224.76 L419.68 224.82 L420.36 224.87 L421.06 224.93 L421.78 224.99 L422.51 225.04 L423.26 225.10 L424.02 225.16 L424.80 225.22 L425.59 225.29 L426.38 225.35 L427.19 225.42 L428.00 225.48 L428.82 225.55 L429.65 225.62 L430.48 225.69 L431.32 225.76 L432.16 225.83 L433.00 225.90 L433.84 225.97 L434.67 226.05 L435.51 226.12 L436.34 226.20 L437.17 226.27 L437.99 226.35 L438.81 226.43 L439.62 226.51 L440.42 226.59 L441.21 226.67 L441.98 226.75 L442.75 226.83 L443.50 226.92 L444.24 227.00 L444.96 227.09 L445.66 227.17 L446.34 227.26 L447.01 227.35 L447.65 227.43 L448.28 227.52 L448.88 227.61 L449.45 227.70 L450.00 227.79 L450.53 227.88 L451.04 227.97 L451.53 228.07 L452.00 228.17 L452.46 228.26 L452.90 228.36 L453.33 228.46 L453.75 228.57 L454.16 228.67 L454.57 228.78 L454.97 228.89 L455.36 229.00 L455.76 229.11 L456.15 229.22 L456.55 229.34 L456.94 229.46 L457.35 229.57 L457.75 229.69 L458.17 229.82 L458.59 229.94 L459.03 230.07 L459.48 230.19 L459.94 230.32 L460.42 230.45 L460.90 230.58 L461.39 230.71 L461.89 230.84 L462.39 230.97 L462.89 231.11 L463.40 231.24 L463.92 231.37 L464.44 231.51 L464.96 231.65 L465.49 231.79 L466.02 231.93 L466.55 232.08 L467.09 232.23 L467.63 232.38 L468.17 232.54 L468.71 232.70 L469.25 232.86 L469.80 233.03 L470.34 233.20 L470.88 233.38 L471.43 233.56 L471.97 233.75 L472.51 233.94 L473.05 234.14 L473.59 234.34 L474.13 234.55 L474.67 234.77 L475.20 234.99 L475.74 235.23 L476.28 235.48 L476.82 235.75 L477.37 236.03 L477.92 236.32 L478.48 236.62 L479.04 236.93 L479.60 237.26 L480.16 237.60 L480.72 237.94 L481.28 238.30 L481.85 238.67 L482.41 239.05 L482.98 239.43 L483.54 239.83 L484.10 240.23 L484.66 240.64 L485.22 241.06 L485.77 241.49 L486.33 241.92 L486.88 242.35 L487.42 242.80 L487.96 243.25 L488.50 243.70 L489.03 244.16 L489.56 244.62 L490.08 245.09 L490.59 245.56 L491.10 246.03 L491.60 246.50 L492.09 246.98 L492.57 247.46 L493.05 247.93 L493.52 248.41 L493.98 248.90 L494.44 249.41 L494.91 249.95 L495.37 250.50 L495.84 251.07 L496.31 251.66 L496.78 252.27 L497.24 252.89 L497.71 253.52 L498.17 254.17 L498.64 254.83 L499.10 255.50 L499.55 256.17 L500.01 256.86 L500.46 257.55 L500.91 258.24 L501.35 258.94 L501.79 259.65 L502.22 260.35 L502.64 261.05 L503.07 261.75 L503.48 262.45 L503.89 263.14 L504.29 263.83 L504.68 264.51 L505.06 265.18 L505.44 265.84 L505.80 266.50 L506.16 267.14 L506.50 267.76 L506.84 268.38 L507.17 268.97 L507.48 269.55 L507.78 270.11 L508.07 270.65 L508.35 271.17 L508.61 271.67 L508.86 272.14 L509.10 272.59 L509.33 273.02 L509.55 273.43 L509.76 273.82 L509.96 274.19 L510.16 274.55 L510.34 274.90 L510.53 275.25 L510.70 275.58 L510.88 275.91 L511.05 276.24 L511.21 276.56 L511.37 276.89 L511.53 277.22 L511.69 277.55 L511.84 277.89 L512.00 278.25 L512.15 278.61 L512.31 278.99 L512.46 279.38 L512.62 279.79 L512.78 280.22 L512.94 280.66 L513.10 281.11 L513.25 281.58 L513.40 282.05 L513.56 282.53 L513.71 283.02 L513.86 283.52 L514.01 284.03 L514.15 284.55 L514.30 285.08 L514.45 285.61 L514.59 286.15 L514.73 286.69 L514.88 287.25 L515.02 287.80 L515.16 288.37 L515.30 288.93 L515.44 289.51 L515.58 290.08 L515.72 290.66 L515.86 291.25 L516.00 291.83 L516.14 292.42 L516.27 293.01 L516.41 293.61 L516.55 294.20 L516.69 294.80 L516.83 295.39 L516.97 295.99 L517.10 296.58 L517.24 297.17 L517.37 297.76 L517.51 298.35 L517.64 298.94 L517.77 299.53 L517.90 300.13 L518.03 300.72 L518.15 301.31 L518.28 301.91 L518.41 302.51 L518.53 303.12 L518.66 303.73 L518.78 304.34 L518.91 304.96 L519.04 305.59 L519.16 306.22 L519.29 306.86 L519.42 307.51 L519.54 308.17 L519.67 308.84 L519.80 309.51 L519.93 310.20 L520.06 310.90 L520.20 311.61 L520.33 312.33 L520.47 313.06 L520.60 313.81 L520.74 314.57 L520.89 315.34 L521.03 316.13 L521.17 316.93 L521.32 317.75 L521.47 318.59 L521.63 319.45 L521.78 320.32 L521.94 321.20 L522.09 322.10 L522.25 323.01 L522.41 323.94 L522.57 324.88 L522.73 325.84 L522.89 326.81 L523.05 327.80 L523.22 328.80 L523.38 329.81 L523.55 330.84 L523.72 331.88 L523.88 332.94 L524.05 334.01 L524.22 335.09 L524.39 336.19 L524.57 337.31 L524.74 338.43 L524.91 339.57 L525.09 340.73 L525.26 341.89 L525.44 343.08 L525.62 344.27 L525.80 345.48 L525.98 346.70 L526.16 347.94 L526.34 349.19 L526.53 350.45 L526.71 351.73 L526.90 353.02 L527.09 354.32 L527.27 355.64 L527.46 356.97 L527.65 358.31 L527.84 359.67 L528.04 361.04 L528.23 362.42 L528.42 363.82 L528.62 365.22 L528.82 366.65 L529.01 368.08 L529.21 369.53 L529.41 370.99 L529.61 372.46 L529.82 373.95 L530.02 375.45 L530.22 376.96 L530.43 378.48 L530.64 380.02 L530.84 381.57 L531.05 383.13 L531.26 384.71 L531.47 386.30 L531.68 387.90 L531.90 389.51 L532.11 391.13 L532.33 392.77 L532.54 394.42 L532.76 396.08 L532.98 397.75 L533.20 399.44 L533.42 401.14 L533.64 402.85 L533.87 404.57 L534.09 406.30 L534.32 408.05 L534.54 409.81 L534.77 411.58 L535.00 413.36" stroke="#0a6aa0" stroke-width="1.30"/>
<path d="M90.05 -13.69 L90.23 -11.96 L90.40 -10.25 L90.58 -8.54 L90.76 -6.84 L90.93 -5.15 L91.11 -3.48 L91.28 -1.81 L91.45 -0.15 L91.63 1.50 L91.80 3.15 L91.97 4.78 L92.14 6.40 L92.31 8.01 L92.48 9.62 L92.65 11.21 L92.82 12.79 L92.99 14.37 L93.16 15.93 L93.32 17.49 L93.49 19.04 L93.66 20.57 L93.82 22.10 L93.99 23.61 L94.15 25.12 L94.31 26.62 L94.48 28.11 L94.64 29.58 L94.80 31.05 L94.96 32.51 L95.12 33.96 L95.28 35.39 L95.44 36.82 L95.60 38.24 L95.76 39.65 L95.92 41.04 L96.07 42.43 L96.23 43.81 L96.39 45.18 L96.54 46.53 L96.70 47.88 L96.85 49.22 L97.00 50.54 L97.16 51.86 L97.31 53.17 L97.46 54.46 L97.61 55.75 L97.76 57.02 L97.92 58.29 L98.07 59.54 L98.21 60.78 L98.36 62.02 L98.51 63.24 L98.66 64.45 L98.81 65.65 L98.95 66.84 L99.10 68.02 L99.24 69.19 L99.39 70.35 L99.53 71.50 L99.68 72.64 L99.82 73.76 L99.96 74.88 L100.11 75.99 L100.25 77.08 L100.39 78.16 L100.53 79.24 L100.67 80.30 L100.81 81.35 L100.95 82.39 L101.09 83.42 L101.22 84.44 L101.36 85.44 L101.50 86.43 L101.63 87.40 L101.76 88.36 L101.89 89.30 L102.01 90.22 L102.14 91.13 L102.26 92.02 L102.39 92.90 L102.51 93.77 L102.63 94.62 L102.74 95.47 L102.86 96.30 L102.98 97.12 L103.09 97.94 L103.21 98.74 L103.32 99.54 L103.44 100.33 L103.55 101.11 L103.67 101.89 L103.78 102.66 L103.89 103.43 L104.01 104.20 L104.12 104.96 L104.24 105.72 L104.36 106.47 L104.47 107.23 L104.59 107.99 L104.71 108.74 L104.83 109.50 L104.95 110.26 L105.07 111.02 L105.20 111.79 L105.33 112.56 L105.45 113.33 L105.58 114.11 L105.72 114.89 L105.85 115.68 L105.99 116.48 L106.13 117.29 L106.27 118.11 L106.41 118.93 L106.56 119.77 L106.71 120.61 L106.86 121.47 L107.02 122.33 L107.18 123.21 L107.34 124.09 L107.50 124.98 L107.67 125.87 L107.84 126.77 L108.01 127.68 L108.18 128.59 L108.36 129.51 L108.54 130.43 L108.72 131.35 L108.90 132.28 L109.09 133.21 L109.27 134.14 L109.46 135.07 L109.65 136.00 L109.84 136.93 L110.03 137.86 L110.23 138.79 L110.42 139.72 L110.62 140.64 L110.81 141.56 L111.01 142.48 L111.21 143.39 L111.41 144.30 L111.61 145.21 L111.81 146.10 L112.01 146.99 L112.22 147.87 L112.42 148.75 L112.62 149.62 L112.83 150.47 L113.03 151.32 L113.23 152.16 L113.44 152.99 L113.64 153.80 L113.85 154.61 L114.05 155.40 L114.25 156.18 L114.45 156.94 L114.66 157.69 L114.86 158.43 L115.06 159.15 L115.26 159.85 L115.46 160.54 L115.65 161.23 L115.85 161.90 L116.05 162.57 L116.24 163.23 L116.44 163.89 L116.64 164.54 L116.83 165.18 L117.03 165.81 L117.22 166.44 L117.42 167.06 L117.62 167.68 L117.81 168.29 L118.01 168.89 L118.21 169.48 L118.41 170.07 L118.62 170.65 L118.82 171.23 L119.03 171.80 L119.23 172.36 L119.44 172.92 L119.65 173.47 L119.87 174.02 L120.09 174.56 L120.31 175.09 L120.53 175.62 L120.75 176.14 L120.98 176.65 L121.21 177.16 L121.45 177.67 L121.69 178.17 L121.93 178.66 L122.18 179.15 L122.43 179.63 L122.69 180.11 L122.96 180.59 L123.24 181.07 L123.52 181.54 L123.81 182.01 L124.10 182.48 L124.40 182.94 L124.70 183.39 L125.00 183.84 L125.30 184.29 L125.61 184.73 L125.92 185.16 L126.23 185.59 L126.54 186.00 L126.85 186.42 L127.17 186.82 L127.48 187.22 L127.78 187.60 L128.09 187.98 L128.39 188.35 L128.69 188.71 L128.99 189.07 L129.28 189.41 L129.57 189.74 L129.85 190.06 L130.13 190.37 L130.40 190.67 L130.67 190.96 L130.94 191.24 L131.20 191.52 L131.46 191.78 L131.72 192.05 L131.98 192.30 L132.24 192.55 L132.50 192.80 L132.76 193.05 L133.03 193.29 L133.29 193.53 L133.56 193.77 L133.83 194.01 L134.11 194.25 L134.39 194.49 L134.68 194.73 L134.97 194.98 L135.27 195.22 L135.57 195.47 L135.88 195.72 L136.19 195.97 L136.50 196.22 L136.82 196.47 L137.14 196.72 L137.46 196.97 L137.79 197.22 L138.12 197.46 L138.45 197.71 L138.79 197.95 L139.13 198.19 L139.47 198.42 L139.82 198.66 L140.16 198.89 L140.51 199.11 L140.87 199.33 L141.22 199.55 L141.58 199.76 L141.94 199.97 L142.31 200.17 L142.67 200.37 L143.04 200.56 L143.41 200.75 L143.79 200.93 L144.17 201.11 L144.55 201.29 L144.93 201.46 L145.32 201.63 L145.71 201.81 L146.10 201.98 L146.50 202.14 L146.90 202.31 L147.31 202.48 L147.72 202.65 L148.13 202.82 L148.55 202.99 L148.97 203.16 L149.39 203.33 L149.82 203.51 L150.26 203.69 L150.69 203.87 L151.14 204.06 L151.59 204.25 L152.04 204.45 L152.51 204.65 L152.98 204.86 L153.46 205.07 L153.94 205.28 L154.43 205.50 L154.92 205.72 L155.42 205.94 L155.92 206.16 L156.43 206.38 L156.94 206.60 L157.45 206.82 L157.97 207.04 L158.49 207.25 L159.00 207.46 L159.53 207.67 L160.05 207.88 L160.57 208.08 L161.09 208.27 L161.62 208.46 L162.14 208.65 L162.66 208.82 L163.18 208.99 L163.70 209.15 L164.21 209.30 L164.72 209.44 L165.23 209.57 L165.74 209.70 L166.24 209.82 L166.74 209.94 L167.24 210.06 L167.73 210.17 L168.22 210.28 L168.71 210.39 L169.20 210.50 L169.69 210.60 L170.19 210.71 L170.68 210.81 L171.17 210.90 L171.67 211.00 L172.17 211.09 L172.68 211.18 L173.19 211.27 L173.70 211.36 L174.22 211.45 L174.74 211.53 L175.27 211.61 L175.81 211.70 L176.36 211.78 L176.91 211.86 L177.47 211.93 L178.04 212.01 L178.62 212.09 L179.21 212.17 L179.81 212.24 L180.41 212.32 L181.02 212.39 L181.63 212.46 L182.25 212.54 L182.87 212.61 L183.50 212.68 L184.13 212.75 L184.77 212.82 L185.42 212.89 L186.07 212.96 L186.73 213.02 L187.39 213.09 L188.07 213.15 L188.74 213.22 L189.43 213.28 L190.12 213.35 L190.82 213.41 L191.52 213.47 L192.23 213.53 L192.95 213.59 L193.68 213.65 L194.42 213.71 L195.16 213.76 L195.91 213.82 L196.67 213.88 L197.43 213.93 L198.21 213.99 L198.99 214.04 L199.79 214.09 L200.59 214.14 L201.40 214.19 L202.22 214.24 L203.04 214.29 L203.88 214.34 L204.73 214.39 L205.59 214.44 L206.46 214.48 L207.35 214.53 L208.26 214.57 L209.19 214.61 L210.13 214.66 L211.08 214.70 L212.06 214.74 L213.04 214.78 L214.04 214.82 L215.05 214.86 L216.08 214.90 L217.12 214.93 L218.17 214.97 L219.23 215.01 L220.30 215.04 L221.39 215.08 L222.48 215.12 L223.59 215.15 L224.70 215.18 L225.83 215.22 L226.96 215.25 L228.10 215.29 L229.25 215.32 L230.40 215.35 L231.57 215.39 L232.74 215.42 L233.91 215.45 L235.09 215.48 L236.28 215.52 L237.47 215.55 L238.66 215.58 L239.86 215.61 L241.06 215.65 L242.27 215.68 L243.47 215.71 L244.68 215.74 L245.89 215.78 L247.10 215.81 L248.32 215.84 L249.53 215.88 L250.74 215.91 L251.95 215.94 L253.16 215.98 L254.37 216.01 L255.58 216.05 L256.78 216.08 L257.99 216.12 L259.18 216.16 L260.38 216.19 L261.57 216.23 L262.75 216.27 L263.94 216.31 L265.11 216.35 L266.28 216.39 L267.44 216.43 L268.60 216.47 L269.75 216.51 L270.89 216.55 L272.04 216.59 L273.19 216.64 L274.34 216.68 L275.49 216.73 L276.65 216.77 L277.81 216.82 L278.97 216.86 L280.14 216.91 L281.30 216.96 L282.47 217.00 L283.64 217.05 L284.81 217.10 L285.98 217.15 L287.16 217.19 L288.33 217.24 L289.51 217.29 L290.69 217.34 L291.86 217.39 L293.04 217.44 L294.22 217.49 L295.40 217.54 L296.59 217.59 L297.77 217.65 L298.95 217.70 L300.13 217.75 L301.31 217.80 L302.50 217.85 L303.68 217.90 L304.86 217.96 L306.04 218.01 L307.22 218.06 L308.40 218.11 L309.58 218.17 L310.76 218.22 L311.94 218.27 L313.12 218.33 L314.29 218.38 L315.47 218.43 L316.64 218.49 L317.81 218.54 L318.98 218.59 L320.15 218.65 L321.31 218.70 L322.48 218.75 L323.64 218.81 L324.80 218.86 L325.96 218.91 L327.12 218.97 L328.27 219.02 L329.42 219.07 L330.57 219.12 L331.71 219.18 L332.86 219.23 L333.99 219.28 L335.13 219.33 L336.26 219.39 L337.39 219.44 L338.52 219.49 L339.64 219.54 L340.76 219.59 L341.89 219.64 L343.03 219.70 L344.17 219.75 L345.32 219.80 L346.47 219.85 L347.63 219.90 L348.79 219.96 L349.96 220.01 L351.13 220.06 L352.31 220.12 L353.49 220.17 L354.67 220.22 L355.85 220.28 L357.03 220.33 L358.21 220.38 L359.40 220.44 L360.58 220.49 L361.76 220.55 L362.94 220.60 L364.12 220.65 L365.29 220.71 L366.46 220.76 L367.63 220.82 L368.80 220.87 L369.96 220.92 L371.11 220.98 L372.26 221.03 L373.40 221.08 L374.54 221.14 L375.67 221.19 L376.79 221.24 L377.90 221.30 L379.00 221.35 L380.10 221.40 L381.18 221.46 L382.26 221.51 L383.32 221.56 L384.37 221.61 L385.41 221.66 L386.44 221.72 L387.46 221.77 L388.46 221.82 L389.45 221.87 L390.42 221.92 L391.38 221.97 L392.32 222.02 L393.25 222.07 L394.16 222.12 L395.05 222.17 L395.93 222.21 L396.78 222.26 L397.62 222.31 L398.44 222.36 L399.24 222.40 L400.02 222.45 L400.78 222.49 L401.52 222.54 L402.24 222.58 L402.94 222.63 L403.62 222.67 L404.29 222.71 L404.94 222.75 L405.58 222.79 L406.20 222.83 L406.82 222.87 L407.42 222.91 L408.01 222.95 L408.60 222.99 L409.18 223.03 L409.76 223.07 L410.33 223.11 L410.90 223.14 L411.47 223.18 L412.03 223.22 L412.60 223.26 L413.17 223.30 L413.74 223.34 L414.32 223.38 L414.90 223.43 L415.49 223.47 L416.09 223.51 L416.70 223.56 L417.32 223.60 L417.95 223.65 L418.59 223.69 L419.25 223.74 L419.92 223.79 L420.61 223.84 L421.32 223.89 L422.04 223.94 L422.79 223.99 L423.54 224.04 L424.31 224.09 L425.09 224.14 L425.89 224.19 L426.69 224.25 L427.50 224.30 L428.32 224.35 L429.15 224.41 L429.98 224.46 L430.82 224.52 L431.66 224.57 L432.50 224.63 L433.34 224.69 L434.18 224.74 L435.02 224.80 L435.86 224.86 L436.69 224.92 L437.52 224.98 L438.34 225.04 L439.16 225.11 L439.97 225.17 L440.76 225.23 L441.55 225.30 L442.33 225.36 L443.09 225.43 L443.83 225.50 L444.57 225.57 L445.28 225.64 L445.98 225.71 L446.66 225.78 L447.32 225.85 L447.95 225.92 L448.57 226.00 L449.16 226.07 L449.72 226.15 L450.27 226.23 L450.79 226.31 L451.29 226.39 L451.77 226.47 L452.23 226.56 L452.69 226.65 L453.12 226.74 L453.55 226.83 L453.97 226.93 L454.38 227.03 L454.79 227.13 L455.19 227.23 L455.58 227.33 L455.98 227.44 L456.37 227.54 L456.77 227.65 L457.17 227.76 L457.58 227.88 L458.00 227.99 L458.42 228.11 L458.85 228.23 L459.30 228.35 L459.76 228.47 L460.23 228.60 L460.71 228.72 L461.20 228.85 L461.69 228.98 L462.19 229.11 L462.69 229.24 L463.20 229.37 L463.71 229.51 L464.23 229.64 L464.75 229.78 L465.27 229.93 L465.80 230.07 L466.33 230.22 L466.87 230.37 L467.40 230.53 L467.94 230.69 L468.48 230.85 L469.02 231.02 L469.57 231.19 L470.11 231.37 L470.66 231.55 L471.20 231.74 L471.75 231.93 L472.29 232.13 L472.84 232.34 L473.38 232.55 L473.93 232.76 L474.47 232.99 L475.01 233.22 L475.56 233.46 L476.11 233.71 L476.67 233.99 L477.23 234.28 L477.80 234.58 L478.37 234.90 L478.95 235.23 L479.53 235.57 L480.12 235.93 L480.70 236.29 L481.29 236.68 L481.88 237.07 L482.47 237.47 L483.06 237.88 L483.65 238.30 L484.24 238.73 L484.83 239.17 L485.42 239.62 L486.00 240.07 L486.59 240.53 L487.17 241.00 L487.74 241.48 L488.31 241.96 L488.88 242.44 L489.44 242.93 L489.99 243.43 L490.54 243.92 L491.08 244.42 L491.61 244.93 L492.13 245.43 L492.65 245.94 L493.15 246.44 L493.65 246.95 L494.14 247.46 L494.61 247.97 L495.07 248.47 L495.53 248.99 L495.99 249.52 L496.45 250.08 L496.91 250.65 L497.36 251.25 L497.82 251.85 L498.27 252.48 L498.73 253.11 L499.18 253.76 L499.63 254.42 L500.07 255.09 L500.51 255.77 L500.95 256.46 L501.39 257.15 L501.82 257.85 L502.25 258.55 L502.67 259.25 L503.09 259.96 L503.50 260.66 L503.90 261.36 L504.30 262.06 L504.70 262.76 L505.08 263.45 L505.46 264.14 L505.83 264.81 L506.19 265.48 L506.54 266.14 L506.89 266.79 L507.23 267.42 L507.55 268.04 L507.87 268.65 L508.18 269.24 L508.47 269.81 L508.76 270.36 L509.03 270.90 L509.29 271.41 L509.54 271.90 L509.78 272.36 L510.01 272.80 L510.22 273.22 L510.43 273.62 L510.64 274.01 L510.83 274.38 L511.02 274.74 L511.20 275.08 L511.38 275.42 L511.55 275.75 L511.72 276.08 L511.88 276.41 L512.04 276.74 L512.19 277.07 L512.35 277.40 L512.50 277.74 L512.65 278.09 L512.81 278.45 L512.96 278.82 L513.11 279.21 L513.26 279.62 L513.41 280.04 L513.57 280.48 L513.72 280.93 L513.87 281.39 L514.02 281.86 L514.16 282.34 L514.31 282.83 L514.45 283.33 L514.59 283.84 L514.73 284.36 L514.87 284.88 L515.01 285.41 L515.14 285.95 L515.28 286.50 L515.41 287.05 L515.55 287.61 L515.68 288.17 L515.82 288.74 L515.95 289.31 L516.08 289.89 L516.22 290.47 L516.35 291.06 L516.48 291.65 L516.61 292.24 L516.75 292.83 L516.88 293.42 L517.02 294.02 L517.15 294.62 L517.29 295.22 L517.43 295.81 L517.56 296.41 L517.70 297.00 L517.83 297.60 L517.97 298.19 L518.10 298.78 L518.23 299.37 L518.36 299.96 L518.50 300.56 L518.63 301.15 L518.76 301.75 L518.89 302.35 L519.02 302.96 L519.15 303.57 L519.28 304.18 L519.41 304.80 L519.54 305.43 L519.67 306.06 L519.80 306.70 L519.94 307.35 L520.07 308.01 L520.20 308.67 L520.34 309.35 L520.47 310.03 L520.61 310.73 L520.74 311.44 L520.88 312.15 L521.02 312.89 L521.16 313.63 L521.30 314.39 L521.45 315.16 L521.59 315.95 L521.74 316.75 L521.89 317.57 L522.04 318.41 L522.19 319.26 L522.35 320.13 L522.50 321.01 L522.66 321.91 L522.81 322.83 L522.97 323.75 L523.13 324.69 L523.29 325.65 L523.45 326.62 L523.61 327.61 L523.77 328.61 L523.93 329.62 L524.09 330.65 L524.26 331.69 L524.42 332.75 L524.59 333.82 L524.75 334.91 L524.92 336.01 L525.09 337.12 L525.26 338.25 L525.43 339.39 L525.60 340.54 L525.77 341.71 L525.94 342.90 L526.11 344.09 L526.29 345.30 L526.46 346.53 L526.64 347.77 L526.81 349.02 L526.99 350.28 L527.17 351.56 L527.34 352.85 L527.52 354.16 L527.70 355.48 L527.89 356.81 L528.07 358.16 L528.25 359.52 L528.43 360.89 L528.62 362.28 L528.80 363.68 L528.99 365.09 L529.18 366.51 L529.37 367.95 L529.56 369.40 L529.75 370.87 L529.94 372.34 L530.13 373.83 L530.32 375.34 L530.51 376.85 L530.71 378.38 L530.90 379.92 L531.10 381.48 L531.30 383.04 L531.49 384.62 L531.69 386.21 L531.89 387.82 L532.09 389.44 L532.30 391.06 L532.50 392.71 L532.70 394.36 L532.91 396.03 L533.11 397.71 L533.32 399.40 L533.52 401.10 L533.73 402.82 L533.94 404.54 L534.15 406.28 L534.36 408.03 L534.57 409.80 L534.79 411.57 L535.00 413.36" stroke="#1e90d8" stroke-width="1.30"/>
<path d="M90.05 -13.69 L90.22 -11.96 L90.39 -10.24 L90.56 -8.53 L90.73 -6.83 L90.90 -5.14 L91.06 -3.45 L91.23 -1.78 L91.40 -0.12 L91.56 1.54 L91.73 3.18 L91.89 4.82 L92.06 6.44 L92.22 8.06 L92.39 9.67 L92.55 11.26 L92.71 12.85 L92.87 14.43 L93.03 16.00 L93.20 17.55 L93.36 19.10 L93.52 20.64 L93.67 22.17 L93.83 23.69 L93.99 25.20 L94.15 26.70 L94.31 28.19 L94.46 29.67 L94.62 31.14 L94.77 32.60 L94.93 34.05 L95.08 35.49 L95.24 36.92 L95.39 38.34 L95.54 39.75 L95.70 41.15 L95.85 42.54 L96.00 43.92 L96.15 45.29 L96.30 46.65 L96.45 48.00 L96.60 49.34 L96.75 50.67 L96.90 51.98 L97.04 53.29 L97.19 54.59 L97.34 55.88 L97.48 57.15 L97.63 58.42 L97.77 59.67 L97.92 60.92 L98.06 62.15 L98.21 63.38 L98.35 64.59 L98.49 65.79 L98.64 66.99 L98.78 68.17 L98.92 69.34 L99.06 70.50 L99.20 71.65 L99.34 72.79 L99.48 73.92 L99.62 75.03 L99.76 76.14 L99.89 77.23 L100.03 78.32 L100.17 79.39 L100.31 80.45 L100.44 81.51 L100.58 82.55 L100.71 83.58 L100.85 84.59 L100.98 85.60 L101.11 86.59 L101.24 87.56 L101.37 88.51 L101.50 89.45 L101.62 90.37 L101.74 91.28 L101.87 92.17 L101.99 93.05 L102.10 93.92 L102.22 94.77 L102.34 95.62 L102.46 96.45 L102.57 97.27 L102.69 98.09 L102.80 98.89 L102.92 99.69 L103.03 100.48 L103.14 101.26 L103.26 102.04 L103.37 102.82 L103.48 103.58 L103.60 104.35 L103.71 105.11 L103.83 105.87 L103.94 106.63 L104.06 107.39 L104.17 108.15 L104.29 108.90 L104.41 109.66 L104.53 110.43 L104.65 111.19 L104.77 111.96 L104.90 112.73 L105.02 113.51 L105.15 114.29 L105.28 115.08 L105.41 115.87 L105.54 116.68 L105.68 117.49 L105.81 118.31 L105.95 119.14 L106.10 119.98 L106.24 120.83 L106.39 121.69 L106.54 122.56 L106.69 123.44 L106.84 124.32 L106.99 125.22 L107.15 126.12 L107.30 127.03 L107.46 127.94 L107.62 128.85 L107.79 129.78 L107.95 130.70 L108.11 131.63 L108.28 132.56 L108.45 133.49 L108.62 134.43 L108.79 135.36 L108.96 136.30 L109.14 137.23 L109.31 138.16 L109.49 139.10 L109.66 140.03 L109.84 140.95 L110.02 141.88 L110.20 142.80 L110.38 143.71 L110.56 144.62 L110.75 145.53 L110.93 146.42 L111.11 147.31 L111.30 148.20 L111.49 149.07 L111.67 149.94 L111.86 150.80 L112.05 151.64 L112.24 152.48 L112.42 153.31 L112.61 154.12 L112.80 154.92 L112.99 155.71 L113.18 156.49 L113.37 157.25 L113.57 158.00 L113.76 158.73 L113.95 159.44 L114.14 160.14 L114.33 160.83 L114.52 161.52 L114.71 162.19 L114.90 162.86 L115.09 163.52 L115.28 164.18 L115.48 164.82 L115.67 165.47 L115.86 166.10 L116.05 166.73 L116.25 167.35 L116.44 167.96 L116.64 168.57 L116.84 169.17 L117.04 169.77 L117.24 170.35 L117.45 170.94 L117.65 171.51 L117.86 172.08 L118.07 172.64 L118.29 173.20 L118.50 173.75 L118.72 174.29 L118.94 174.83 L119.17 175.36 L119.40 175.88 L119.63 176.40 L119.87 176.91 L120.11 177.41 L120.35 177.91 L120.60 178.41 L120.85 178.89 L121.11 179.38 L121.38 179.86 L121.66 180.34 L121.95 180.81 L122.25 181.28 L122.55 181.75 L122.86 182.21 L123.18 182.67 L123.50 183.12 L123.82 183.57 L124.15 184.01 L124.49 184.44 L124.82 184.87 L125.16 185.30 L125.50 185.72 L125.84 186.13 L126.18 186.53 L126.51 186.93 L126.85 187.31 L127.18 187.69 L127.51 188.06 L127.84 188.43 L128.16 188.78 L128.48 189.13 L128.79 189.46 L129.10 189.79 L129.40 190.10 L129.69 190.41 L129.97 190.70 L130.25 190.99 L130.53 191.27 L130.80 191.54 L131.07 191.81 L131.33 192.07 L131.60 192.33 L131.87 192.58 L132.13 192.82 L132.40 193.06 L132.68 193.30 L132.95 193.54 L133.23 193.78 L133.52 194.01 L133.81 194.25 L134.11 194.48 L134.42 194.71 L134.73 194.95 L135.06 195.19 L135.39 195.42 L135.73 195.66 L136.08 195.89 L136.44 196.13 L136.80 196.36 L137.17 196.59 L137.55 196.82 L137.93 197.05 L138.31 197.28 L138.70 197.50 L139.10 197.73 L139.49 197.95 L139.89 198.17 L140.29 198.38 L140.70 198.60 L141.10 198.81 L141.51 199.02 L141.91 199.22 L142.32 199.43 L142.73 199.63 L143.13 199.82 L143.54 200.02 L143.94 200.21 L144.35 200.39 L144.76 200.57 L145.17 200.75 L145.58 200.93 L146.00 201.10 L146.42 201.27 L146.84 201.44 L147.26 201.61 L147.68 201.77 L148.11 201.94 L148.53 202.10 L148.96 202.26 L149.39 202.43 L149.82 202.59 L150.25 202.75 L150.69 202.91 L151.12 203.08 L151.56 203.24 L152.00 203.41 L152.43 203.58 L152.87 203.75 L153.31 203.92 L153.75 204.10 L154.19 204.28 L154.63 204.47 L155.07 204.66 L155.52 204.86 L155.96 205.06 L156.40 205.26 L156.85 205.46 L157.29 205.67 L157.74 205.87 L158.19 206.08 L158.64 206.28 L159.09 206.48 L159.54 206.68 L160.00 206.88 L160.46 207.07 L160.92 207.26 L161.38 207.44 L161.84 207.62 L162.31 207.79 L162.78 207.96 L163.25 208.11 L163.73 208.26 L164.20 208.40 L164.68 208.53 L165.17 208.65 L165.65 208.77 L166.14 208.88 L166.62 208.98 L167.11 209.09 L167.59 209.19 L168.08 209.29 L168.57 209.38 L169.06 209.48 L169.55 209.57 L170.05 209.66 L170.55 209.74 L171.05 209.83 L171.55 209.91 L172.06 209.99 L172.58 210.07 L173.10 210.15 L173.62 210.22 L174.15 210.30 L174.68 210.37 L175.22 210.45 L175.77 210.52 L176.33 210.60 L176.89 210.67 L177.46 210.74 L178.03 210.82 L178.62 210.89 L179.21 210.96 L179.81 211.04 L180.41 211.11 L181.02 211.19 L181.63 211.26 L182.25 211.33 L182.88 211.41 L183.51 211.48 L184.14 211.55 L184.78 211.62 L185.43 211.69 L186.08 211.76 L186.74 211.83 L187.41 211.90 L188.08 211.97 L188.76 212.04 L189.44 212.11 L190.14 212.17 L190.84 212.24 L191.54 212.31 L192.26 212.37 L192.98 212.44 L193.71 212.50 L194.44 212.56 L195.19 212.62 L195.94 212.68 L196.70 212.74 L197.47 212.80 L198.24 212.86 L199.03 212.92 L199.82 212.98 L200.63 213.03 L201.44 213.08 L202.26 213.14 L203.09 213.19 L203.93 213.24 L204.78 213.29 L205.64 213.34 L206.52 213.39 L207.41 213.43 L208.32 213.48 L209.25 213.53 L210.19 213.57 L211.15 213.61 L212.13 213.66 L213.12 213.70 L214.12 213.74 L215.13 213.78 L216.16 213.82 L217.20 213.86 L218.26 213.90 L219.32 213.94 L220.40 213.97 L221.49 214.01 L222.59 214.05 L223.69 214.08 L224.81 214.12 L225.94 214.15 L227.07 214.19 L228.22 214.22 L229.37 214.26 L230.53 214.29 L231.69 214.33 L232.87 214.36 L234.04 214.39 L235.23 214.43 L236.41 214.46 L237.61 214.50 L238.81 214.53 L240.01 214.56 L241.21 214.60 L242.42 214.63 L243.63 214.67 L244.84 214.70 L246.05 214.73 L247.27 214.77 L248.48 214.80 L249.70 214.84 L250.91 214.87 L252.12 214.91 L253.34 214.95 L254.55 214.98 L255.76 215.02 L256.96 215.06 L258.17 215.10 L259.37 215.14 L260.56 215.18 L261.76 215.22 L262.94 215.26 L264.12 215.30 L265.30 215.34 L266.47 215.38 L267.64 215.43 L268.79 215.47 L269.94 215.52 L271.09 215.56 L272.24 215.61 L273.39 215.66 L274.55 215.71 L275.70 215.76 L276.86 215.81 L278.02 215.86 L279.19 215.91 L280.35 215.97 L281.52 216.02 L282.69 216.07 L283.86 216.13 L285.04 216.18 L286.21 216.24 L287.39 216.30 L288.57 216.36 L289.75 216.41 L290.93 216.47 L292.11 216.53 L293.29 216.59 L294.47 216.65 L295.65 216.71 L296.84 216.77 L298.02 216.83 L299.20 216.89 L300.39 216.96 L301.57 217.02 L302.76 217.08 L303.94 217.14 L305.13 217.20 L306.31 217.26 L307.49 217.33 L308.67 217.39 L309.86 217.45 L311.04 217.51 L312.22 217.57 L313.39 217.64 L314.57 217.70 L315.75 217.76 L316.92 217.82 L318.10 217.88 L319.27 217.94 L320.44 218.00 L321.61 218.06 L322.77 218.12 L323.94 218.18 L325.10 218.24 L326.26 218.30 L327.42 218.36 L328.57 218.41 L329.72 218.47 L330.87 218.53 L332.02 218.58 L333.16 218.64 L334.30 218.69 L335.44 218.75 L336.57 218.80 L337.70 218.85 L338.83 218.90 L339.96 218.95 L341.08 219.00 L342.21 219.05 L343.35 219.10 L344.50 219.15 L345.65 219.20 L346.81 219.25 L347.97 219.30 L349.14 219.35 L350.31 219.40 L351.49 219.44 L352.67 219.49 L353.85 219.54 L355.03 219.59 L356.21 219.63 L357.40 219.68 L358.58 219.73 L359.77 219.77 L360.95 219.82 L362.14 219.87 L363.32 219.91 L364.50 219.96 L365.68 220.00 L366.85 220.05 L368.02 220.09 L369.18 220.14 L370.34 220.18 L371.50 220.23 L372.65 220.27 L373.79 220.32 L374.93 220.36 L376.06 220.40 L377.18 220.45 L378.29 220.49 L379.39 220.54 L380.48 220.58 L381.57 220.62 L382.64 220.67 L383.70 220.71 L384.75 220.75 L385.79 220.79 L386.82 220.84 L387.83 220.88 L388.83 220.92 L389.81 220.96 L390.78 221.01 L391.74 221.05 L392.68 221.09 L393.60 221.13 L394.50 221.17 L395.39 221.22 L396.26 221.26 L397.12 221.30 L397.95 221.34 L398.76 221.38 L399.56 221.42 L400.33 221.46 L401.08 221.51 L401.81 221.55 L402.53 221.59 L403.22 221.62 L403.90 221.66 L404.56 221.70 L405.20 221.74 L405.84 221.78 L406.46 221.81 L407.07 221.85 L407.67 221.89 L408.26 221.92 L408.85 221.96 L409.43 222.00 L410.01 222.03 L410.58 222.07 L411.15 222.11 L411.71 222.15 L412.28 222.18 L412.85 222.22 L413.42 222.26 L414.00 222.30 L414.58 222.33 L415.17 222.37 L415.76 222.41 L416.37 222.45 L416.98 222.49 L417.61 222.54 L418.24 222.58 L418.89 222.62 L419.56 222.67 L420.24 222.71 L420.94 222.75 L421.66 222.80 L422.39 222.84 L423.14 222.89 L423.91 222.93 L424.69 222.98 L425.48 223.02 L426.28 223.07 L427.09 223.11 L427.90 223.16 L428.73 223.21 L429.56 223.25 L430.40 223.30 L431.24 223.35 L432.08 223.39 L432.92 223.44 L433.77 223.49 L434.61 223.54 L435.45 223.59 L436.29 223.64 L437.12 223.69 L437.95 223.75 L438.77 223.80 L439.59 223.85 L440.39 223.91 L441.18 223.97 L441.96 224.02 L442.73 224.08 L443.49 224.14 L444.23 224.20 L444.96 224.26 L445.66 224.32 L446.35 224.39 L447.02 224.45 L447.67 224.52 L448.30 224.58 L448.90 224.65 L449.48 224.72 L450.03 224.79 L450.56 224.87 L451.07 224.94 L451.56 225.02 L452.03 225.11 L452.49 225.19 L452.94 225.28 L453.37 225.38 L453.79 225.47 L454.21 225.57 L454.62 225.67 L455.02 225.77 L455.42 225.88 L455.81 225.98 L456.21 226.09 L456.61 226.20 L457.01 226.32 L457.41 226.43 L457.83 226.55 L458.25 226.66 L458.68 226.78 L459.12 226.90 L459.57 227.03 L460.04 227.15 L460.52 227.27 L461.01 227.39 L461.50 227.52 L461.99 227.64 L462.49 227.77 L463.00 227.90 L463.51 228.02 L464.02 228.15 L464.54 228.29 L465.07 228.42 L465.59 228.56 L466.12 228.70 L466.65 228.84 L467.19 228.99 L467.73 229.14 L468.27 229.29 L468.81 229.45 L469.35 229.61 L469.90 229.78 L470.45 229.95 L471.00 230.13 L471.55 230.32 L472.10 230.51 L472.65 230.70 L473.20 230.90 L473.75 231.11 L474.30 231.33 L474.86 231.55 L475.41 231.78 L475.97 232.04 L476.54 232.31 L477.12 232.59 L477.71 232.90 L478.30 233.22 L478.90 233.56 L479.50 233.91 L480.11 234.28 L480.72 234.66 L481.34 235.06 L481.96 235.47 L482.58 235.89 L483.20 236.32 L483.82 236.76 L484.44 237.21 L485.06 237.68 L485.68 238.15 L486.30 238.63 L486.92 239.12 L487.53 239.62 L488.14 240.12 L488.74 240.63 L489.34 241.14 L489.93 241.66 L490.51 242.19 L491.09 242.72 L491.66 243.25 L492.22 243.78 L492.77 244.31 L493.31 244.85 L493.85 245.39 L494.37 245.92 L494.87 246.46 L495.37 246.99 L495.85 247.53 L496.32 248.06 L496.77 248.59 L497.22 249.13 L497.67 249.69 L498.11 250.26 L498.55 250.86 L498.99 251.47 L499.43 252.10 L499.87 252.74 L500.30 253.39 L500.73 254.05 L501.16 254.73 L501.58 255.41 L502.00 256.10 L502.41 256.80 L502.82 257.50 L503.22 258.20 L503.62 258.91 L504.02 259.62 L504.41 260.33 L504.79 261.03 L505.17 261.74 L505.54 262.44 L505.90 263.14 L506.26 263.83 L506.61 264.51 L506.95 265.19 L507.29 265.85 L507.61 266.51 L507.93 267.15 L508.24 267.78 L508.54 268.39 L508.84 268.99 L509.12 269.57 L509.39 270.14 L509.66 270.68 L509.91 271.20 L510.16 271.70 L510.39 272.18 L510.61 272.63 L510.83 273.06 L511.04 273.47 L511.23 273.87 L511.43 274.24 L511.61 274.61 L511.79 274.96 L511.97 275.30 L512.14 275.64 L512.30 275.97 L512.46 276.30 L512.62 276.63 L512.77 276.96 L512.93 277.29 L513.08 277.63 L513.23 277.98 L513.37 278.34 L513.52 278.71 L513.67 279.09 L513.82 279.49 L513.97 279.91 L514.12 280.35 L514.27 280.79 L514.41 281.25 L514.56 281.72 L514.70 282.20 L514.84 282.69 L514.98 283.19 L515.12 283.70 L515.25 284.22 L515.39 284.74 L515.52 285.27 L515.66 285.81 L515.79 286.36 L515.92 286.91 L516.05 287.47 L516.18 288.03 L516.31 288.60 L516.44 289.17 L516.57 289.75 L516.70 290.33 L516.83 290.92 L516.96 291.51 L517.09 292.10 L517.22 292.69 L517.36 293.29 L517.49 293.88 L517.62 294.48 L517.76 295.08 L517.90 295.68 L518.03 296.28 L518.17 296.87 L518.31 297.47 L518.44 298.06 L518.58 298.65 L518.71 299.25 L518.85 299.84 L518.98 300.43 L519.12 301.03 L519.25 301.63 L519.38 302.23 L519.52 302.84 L519.65 303.45 L519.79 304.06 L519.92 304.68 L520.06 305.31 L520.20 305.94 L520.33 306.58 L520.47 307.23 L520.61 307.88 L520.74 308.55 L520.88 309.22 L521.02 309.90 L521.16 310.60 L521.30 311.31 L521.44 312.02 L521.59 312.75 L521.73 313.50 L521.87 314.25 L522.02 315.03 L522.17 315.81 L522.32 316.61 L522.46 317.43 L522.62 318.27 L522.77 319.12 L522.92 319.99 L523.07 320.87 L523.23 321.77 L523.38 322.68 L523.54 323.61 L523.70 324.55 L523.85 325.50 L524.01 326.47 L524.17 327.46 L524.33 328.46 L524.49 329.47 L524.65 330.50 L524.81 331.55 L524.97 332.60 L525.13 333.68 L525.29 334.76 L525.45 335.86 L525.62 336.98 L525.78 338.10 L525.94 339.25 L526.11 340.40 L526.27 341.57 L526.44 342.76 L526.61 343.96 L526.78 345.17 L526.94 346.39 L527.11 347.63 L527.28 348.89 L527.45 350.15 L527.62 351.43 L527.79 352.73 L527.97 354.03 L528.14 355.36 L528.31 356.69 L528.49 358.04 L528.66 359.40 L528.84 360.78 L529.01 362.16 L529.19 363.56 L529.37 364.98 L529.54 366.41 L529.72 367.85 L529.90 369.30 L530.08 370.77 L530.26 372.25 L530.44 373.74 L530.62 375.25 L530.81 376.77 L530.99 378.30 L531.17 379.84 L531.36 381.40 L531.54 382.97 L531.73 384.55 L531.92 386.15 L532.10 387.76 L532.29 389.38 L532.48 391.01 L532.67 392.66 L532.86 394.31 L533.05 395.98 L533.24 397.67 L533.44 399.36 L533.63 401.07 L533.82 402.79 L534.02 404.52 L534.21 406.26 L534.41 408.02 L534.60 409.79 L534.80 411.57 L535.00 413.36" stroke="#30a8f0" stroke-width="1.30"/>
<path d="M90.05 -13.69 L90.21 -11.96 L90.37 -10.23 L90.53 -8.52 L90.69 -6.82 L90.84 -5.12 L91.00 -3.44 L91.16 -1.76 L91.31 -0.10 L91.47 1.56 L91.62 3.21 L91.78 4.85 L91.93 6.47 L92.09 8.09 L92.24 9.70 L92.40 11.30 L92.55 12.89 L92.70 14.47 L92.85 16.04 L93.01 17.60 L93.16 19.15 L93.31 20.70 L93.46 22.23 L93.61 23.75 L93.76 25.26 L93.91 26.76 L94.06 28.25 L94.21 29.74 L94.35 31.21 L94.50 32.67 L94.65 34.12 L94.80 35.56 L94.94 37.00 L95.09 38.42 L95.23 39.83 L95.38 41.23 L95.53 42.62 L95.67 44.00 L95.81 45.38 L95.96 46.74 L96.10 48.09 L96.24 49.43 L96.39 50.76 L96.53 52.08 L96.67 53.39 L96.81 54.68 L96.95 55.97 L97.09 57.25 L97.24 58.52 L97.38 59.77 L97.51 61.02 L97.65 62.26 L97.79 63.48 L97.93 64.70 L98.07 65.90 L98.21 67.09 L98.34 68.28 L98.48 69.45 L98.62 70.61 L98.75 71.76 L98.89 72.90 L99.03 74.03 L99.16 75.14 L99.30 76.25 L99.43 77.35 L99.56 78.43 L99.70 79.51 L99.83 80.57 L99.97 81.62 L100.10 82.66 L100.23 83.69 L100.36 84.71 L100.49 85.72 L100.62 86.70 L100.75 87.67 L100.88 88.63 L101.00 89.56 L101.13 90.49 L101.25 91.39 L101.37 92.28 L101.49 93.16 L101.61 94.03 L101.72 94.88 L101.84 95.73 L101.96 96.56 L102.07 97.38 L102.19 98.20 L102.30 99.00 L102.42 99.80 L102.53 100.59 L102.65 101.37 L102.76 102.15 L102.88 102.92 L102.99 103.69 L103.10 104.46 L103.22 105.22 L103.34 105.98 L103.45 106.74 L103.57 107.50 L103.69 108.26 L103.81 109.02 L103.93 109.78 L104.05 110.54 L104.17 111.31 L104.29 112.08 L104.42 112.85 L104.54 113.63 L104.67 114.41 L104.80 115.21 L104.93 116.00 L105.07 116.81 L105.20 117.62 L105.34 118.45 L105.48 119.28 L105.62 120.12 L105.76 120.98 L105.91 121.84 L106.06 122.71 L106.21 123.59 L106.36 124.48 L106.51 125.38 L106.67 126.28 L106.82 127.19 L106.98 128.11 L107.14 129.02 L107.30 129.95 L107.46 130.87 L107.63 131.81 L107.79 132.74 L107.96 133.67 L108.13 134.61 L108.30 135.54 L108.47 136.48 L108.64 137.42 L108.81 138.35 L108.99 139.28 L109.16 140.21 L109.34 141.14 L109.51 142.07 L109.69 142.99 L109.87 143.90 L110.05 144.81 L110.23 145.72 L110.41 146.62 L110.60 147.51 L110.78 148.39 L110.96 149.26 L111.15 150.13 L111.33 150.99 L111.52 151.83 L111.70 152.67 L111.89 153.49 L112.08 154.31 L112.26 155.11 L112.45 155.89 L112.64 156.67 L112.83 157.43 L113.02 158.17 L113.21 158.90 L113.40 159.61 L113.58 160.31 L113.77 161.00 L113.96 161.68 L114.15 162.36 L114.34 163.03 L114.53 163.69 L114.71 164.34 L114.90 164.99 L115.09 165.63 L115.28 166.27 L115.47 166.89 L115.66 167.52 L115.86 168.13 L116.05 168.74 L116.25 169.34 L116.44 169.93 L116.64 170.52 L116.84 171.10 L117.05 171.68 L117.25 172.24 L117.46 172.80 L117.67 173.36 L117.89 173.91 L118.11 174.45 L118.33 174.99 L118.55 175.52 L118.78 176.04 L119.01 176.56 L119.24 177.07 L119.48 177.57 L119.73 178.07 L119.98 178.56 L120.23 179.05 L120.49 179.53 L120.77 180.01 L121.05 180.48 L121.34 180.96 L121.65 181.43 L121.95 181.89 L122.27 182.35 L122.59 182.81 L122.92 183.26 L123.25 183.70 L123.59 184.14 L123.92 184.58 L124.27 185.00 L124.61 185.43 L124.95 185.84 L125.30 186.25 L125.64 186.65 L125.98 187.04 L126.32 187.43 L126.66 187.80 L126.99 188.17 L127.32 188.53 L127.65 188.88 L127.97 189.22 L128.28 189.56 L128.58 189.88 L128.88 190.19 L129.17 190.49 L129.45 190.79 L129.73 191.08 L130.00 191.36 L130.26 191.63 L130.53 191.90 L130.79 192.17 L131.05 192.42 L131.31 192.67 L131.58 192.92 L131.84 193.17 L132.11 193.41 L132.39 193.64 L132.68 193.88 L132.97 194.11 L133.27 194.34 L133.58 194.57 L133.90 194.80 L134.24 195.02 L134.58 195.25 L134.95 195.47 L135.32 195.69 L135.71 195.91 L136.11 196.13 L136.53 196.35 L136.95 196.56 L137.38 196.77 L137.82 196.98 L138.26 197.19 L138.71 197.39 L139.17 197.59 L139.63 197.80 L140.10 198.00 L140.56 198.19 L141.03 198.39 L141.50 198.58 L141.97 198.78 L142.44 198.97 L142.91 199.15 L143.37 199.34 L143.83 199.53 L144.29 199.71 L144.74 199.89 L145.18 200.07 L145.63 200.25 L146.08 200.43 L146.53 200.60 L146.98 200.77 L147.44 200.94 L147.89 201.11 L148.35 201.28 L148.81 201.44 L149.26 201.60 L149.72 201.76 L150.18 201.92 L150.64 202.08 L151.09 202.24 L151.55 202.40 L152.00 202.56 L152.45 202.72 L152.90 202.87 L153.35 203.03 L153.80 203.19 L154.24 203.35 L154.68 203.51 L155.11 203.67 L155.54 203.83 L155.97 203.99 L156.39 204.15 L156.81 204.32 L157.21 204.50 L157.62 204.67 L158.01 204.85 L158.41 205.03 L158.80 205.22 L159.18 205.40 L159.57 205.58 L159.96 205.76 L160.34 205.94 L160.73 206.12 L161.12 206.29 L161.51 206.46 L161.90 206.62 L162.30 206.78 L162.71 206.93 L163.12 207.08 L163.54 207.22 L163.96 207.35 L164.40 207.46 L164.84 207.57 L165.29 207.68 L165.75 207.77 L166.21 207.87 L166.68 207.96 L167.15 208.05 L167.63 208.14 L168.11 208.23 L168.60 208.31 L169.09 208.40 L169.58 208.48 L170.08 208.55 L170.59 208.63 L171.10 208.70 L171.62 208.78 L172.14 208.84 L172.67 208.91 L173.20 208.98 L173.74 209.04 L174.28 209.10 L174.83 209.16 L175.39 209.22 L175.95 209.28 L176.52 209.33 L177.09 209.38 L177.67 209.43 L178.26 209.48 L178.85 209.53 L179.45 209.57 L180.05 209.61 L180.66 209.65 L181.27 209.69 L181.89 209.73 L182.51 209.77 L183.14 209.80 L183.77 209.84 L184.41 209.87 L185.06 209.90 L185.71 209.93 L186.37 209.96 L187.03 209.99 L187.70 210.01 L188.38 210.04 L189.06 210.07 L189.75 210.10 L190.45 210.12 L191.15 210.15 L191.87 210.17 L192.59 210.20 L193.31 210.23 L194.05 210.25 L194.79 210.28 L195.54 210.31 L196.30 210.34 L197.06 210.36 L197.84 210.39 L198.62 210.42 L199.41 210.46 L200.21 210.49 L201.02 210.52 L201.84 210.56 L202.67 210.59 L203.50 210.63 L204.35 210.67 L205.20 210.71 L206.07 210.76 L206.96 210.80 L207.87 210.85 L208.79 210.90 L209.73 210.95 L210.68 211.00 L211.65 211.05 L212.63 211.10 L213.63 211.16 L214.64 211.22 L215.66 211.27 L216.70 211.33 L217.75 211.39 L218.81 211.45 L219.88 211.52 L220.96 211.58 L222.06 211.64 L223.16 211.71 L224.27 211.78 L225.40 211.84 L226.53 211.91 L227.67 211.98 L228.82 212.05 L229.97 212.12 L231.14 212.19 L232.31 212.26 L233.48 212.33 L234.66 212.40 L235.85 212.48 L237.04 212.55 L238.24 212.62 L239.44 212.70 L240.64 212.77 L241.85 212.84 L243.06 212.92 L244.27 212.99 L245.48 213.07 L246.69 213.14 L247.91 213.21 L249.12 213.29 L250.34 213.36 L251.55 213.44 L252.77 213.51 L253.98 213.58 L255.19 213.66 L256.40 213.73 L257.61 213.80 L258.81 213.87 L260.01 213.94 L261.20 214.01 L262.39 214.08 L263.58 214.15 L264.76 214.22 L265.93 214.29 L267.10 214.35 L268.26 214.42 L269.42 214.49 L270.56 214.55 L271.71 214.61 L272.87 214.68 L274.02 214.74 L275.18 214.81 L276.34 214.87 L277.50 214.94 L278.66 215.01 L279.83 215.07 L281.00 215.14 L282.17 215.20 L283.34 215.27 L284.52 215.34 L285.69 215.40 L286.87 215.47 L288.05 215.53 L289.23 215.60 L290.41 215.67 L291.59 215.73 L292.77 215.80 L293.96 215.87 L295.14 215.93 L296.32 216.00 L297.51 216.06 L298.69 216.13 L299.88 216.20 L301.07 216.26 L302.25 216.33 L303.44 216.39 L304.62 216.46 L305.81 216.52 L306.99 216.59 L308.18 216.65 L309.36 216.71 L310.54 216.78 L311.72 216.84 L312.91 216.91 L314.08 216.97 L315.26 217.03 L316.44 217.09 L317.62 217.15 L318.79 217.22 L319.96 217.28 L321.13 217.34 L322.30 217.40 L323.47 217.46 L324.63 217.52 L325.79 217.58 L326.95 217.63 L328.11 217.69 L329.27 217.75 L330.42 217.80 L331.57 217.86 L332.71 217.92 L333.86 217.97 L335.00 218.03 L336.13 218.08 L337.27 218.13 L338.40 218.18 L339.52 218.24 L340.65 218.29 L341.78 218.34 L342.92 218.39 L344.06 218.44 L345.21 218.49 L346.37 218.54 L347.54 218.59 L348.70 218.64 L349.87 218.69 L351.05 218.74 L352.23 218.79 L353.41 218.84 L354.59 218.89 L355.78 218.94 L356.97 218.99 L358.15 219.03 L359.34 219.08 L360.52 219.13 L361.71 219.18 L362.89 219.23 L364.08 219.27 L365.25 219.32 L366.43 219.37 L367.60 219.41 L368.77 219.46 L369.94 219.50 L371.09 219.55 L372.25 219.59 L373.39 219.64 L374.53 219.68 L375.67 219.73 L376.79 219.77 L377.91 219.81 L379.01 219.85 L380.11 219.90 L381.20 219.94 L382.28 219.98 L383.35 220.02 L384.40 220.06 L385.45 220.10 L386.48 220.14 L387.50 220.18 L388.50 220.21 L389.49 220.25 L390.47 220.29 L391.43 220.32 L392.37 220.36 L393.30 220.39 L394.22 220.43 L395.11 220.46 L395.99 220.50 L396.85 220.53 L397.69 220.56 L398.51 220.59 L399.31 220.62 L400.09 220.65 L400.85 220.68 L401.59 220.71 L402.31 220.73 L403.01 220.76 L403.70 220.79 L404.36 220.81 L405.01 220.83 L405.65 220.86 L406.28 220.88 L406.89 220.90 L407.50 220.92 L408.10 220.94 L408.68 220.96 L409.27 220.98 L409.84 221.01 L410.42 221.03 L410.99 221.05 L411.56 221.07 L412.13 221.09 L412.70 221.11 L413.27 221.13 L413.85 221.15 L414.43 221.17 L415.01 221.19 L415.61 221.22 L416.21 221.24 L416.82 221.26 L417.45 221.29 L418.08 221.31 L418.73 221.34 L419.39 221.37 L420.07 221.40 L420.77 221.43 L421.48 221.45 L422.22 221.48 L422.96 221.51 L423.73 221.54 L424.50 221.57 L425.29 221.60 L426.09 221.63 L426.90 221.66 L427.72 221.69 L428.54 221.72 L429.37 221.75 L430.21 221.79 L431.05 221.82 L431.89 221.85 L432.74 221.88 L433.58 221.92 L434.43 221.95 L435.27 221.99 L436.11 222.02 L436.95 222.06 L437.78 222.10 L438.60 222.14 L439.42 222.18 L440.23 222.22 L441.02 222.26 L441.81 222.30 L442.58 222.34 L443.34 222.38 L444.09 222.43 L444.82 222.47 L445.53 222.52 L446.22 222.57 L446.90 222.62 L447.55 222.67 L448.18 222.72 L448.79 222.77 L449.38 222.83 L449.94 222.88 L450.47 222.94 L450.99 223.00 L451.48 223.07 L451.96 223.14 L452.42 223.21 L452.87 223.29 L453.31 223.37 L453.73 223.46 L454.15 223.55 L454.56 223.64 L454.97 223.73 L455.37 223.83 L455.76 223.93 L456.16 224.03 L456.56 224.13 L456.96 224.24 L457.37 224.35 L457.78 224.46 L458.20 224.57 L458.63 224.69 L459.08 224.80 L459.53 224.92 L460.00 225.04 L460.48 225.16 L460.96 225.28 L461.45 225.40 L461.95 225.52 L462.45 225.65 L462.95 225.78 L463.46 225.91 L463.97 226.04 L464.49 226.18 L465.01 226.32 L465.53 226.46 L466.06 226.61 L466.59 226.76 L467.12 226.92 L467.66 227.07 L468.20 227.24 L468.74 227.41 L469.28 227.58 L469.82 227.76 L470.37 227.94 L470.92 228.13 L471.47 228.32 L472.02 228.52 L472.58 228.73 L473.13 228.94 L473.68 229.16 L474.24 229.39 L474.80 229.62 L475.35 229.87 L475.92 230.13 L476.50 230.41 L477.09 230.71 L477.68 231.04 L478.29 231.38 L478.90 231.73 L479.52 232.11 L480.14 232.50 L480.77 232.90 L481.40 233.32 L482.03 233.76 L482.67 234.21 L483.31 234.67 L483.95 235.14 L484.60 235.62 L485.24 236.12 L485.88 236.62 L486.52 237.14 L487.15 237.66 L487.79 238.19 L488.42 238.73 L489.04 239.27 L489.66 239.82 L490.28 240.38 L490.89 240.93 L491.49 241.50 L492.08 242.06 L492.66 242.63 L493.23 243.20 L493.80 243.77 L494.35 244.35 L494.89 244.92 L495.42 245.49 L495.93 246.06 L496.43 246.62 L496.91 247.18 L497.38 247.74 L497.84 248.30 L498.28 248.85 L498.71 249.42 L499.15 250.01 L499.58 250.62 L500.00 251.24 L500.43 251.87 L500.85 252.52 L501.26 253.18 L501.68 253.85 L502.09 254.53 L502.49 255.22 L502.89 255.91 L503.29 256.61 L503.68 257.31 L504.06 258.02 L504.44 258.73 L504.82 259.44 L505.19 260.15 L505.55 260.86 L505.91 261.57 L506.26 262.27 L506.61 262.97 L506.95 263.66 L507.28 264.35 L507.61 265.03 L507.93 265.69 L508.24 266.35 L508.55 266.99 L508.84 267.63 L509.13 268.24 L509.42 268.84 L509.69 269.43 L509.96 270.00 L510.21 270.54 L510.46 271.07 L510.71 271.58 L510.94 272.06 L511.16 272.52 L511.37 272.96 L511.58 273.38 L511.78 273.78 L511.98 274.16 L512.16 274.53 L512.35 274.88 L512.52 275.23 L512.70 275.56 L512.86 275.90 L513.03 276.23 L513.19 276.56 L513.34 276.88 L513.50 277.22 L513.65 277.55 L513.80 277.90 L513.95 278.26 L514.10 278.62 L514.24 279.00 L514.39 279.40 L514.54 279.82 L514.68 280.25 L514.83 280.70 L514.97 281.16 L515.11 281.62 L515.24 282.10 L515.38 282.59 L515.51 283.09 L515.64 283.60 L515.77 284.11 L515.90 284.64 L516.02 285.17 L516.15 285.71 L516.27 286.26 L516.39 286.81 L516.51 287.37 L516.64 287.93 L516.76 288.50 L516.88 289.08 L517.00 289.66 L517.13 290.24 L517.25 290.83 L517.37 291.42 L517.50 292.01 L517.62 292.60 L517.75 293.20 L517.88 293.80 L518.01 294.40 L518.14 295.00 L518.28 295.60 L518.41 296.20 L518.55 296.79 L518.69 297.39 L518.83 297.98 L518.96 298.58 L519.10 299.17 L519.24 299.76 L519.38 300.36 L519.52 300.95 L519.66 301.55 L519.80 302.15 L519.95 302.76 L520.09 303.37 L520.23 303.98 L520.37 304.60 L520.52 305.23 L520.66 305.86 L520.81 306.50 L520.95 307.14 L521.10 307.80 L521.25 308.46 L521.39 309.13 L521.54 309.82 L521.69 310.51 L521.84 311.22 L521.99 311.93 L522.14 312.66 L522.29 313.40 L522.44 314.16 L522.59 314.93 L522.74 315.71 L522.89 316.51 L523.04 317.33 L523.20 318.16 L523.35 319.01 L523.50 319.88 L523.66 320.76 L523.81 321.66 L523.97 322.57 L524.12 323.50 L524.28 324.44 L524.43 325.39 L524.59 326.37 L524.75 327.35 L524.90 328.35 L525.06 329.36 L525.22 330.39 L525.38 331.44 L525.53 332.49 L525.69 333.57 L525.85 334.65 L526.01 335.75 L526.17 336.87 L526.33 338.00 L526.49 339.14 L526.65 340.29 L526.81 341.47 L526.97 342.65 L527.13 343.85 L527.30 345.06 L527.46 346.29 L527.62 347.53 L527.79 348.78 L527.95 350.05 L528.11 351.33 L528.28 352.63 L528.44 353.94 L528.61 355.26 L528.77 356.60 L528.94 357.95 L529.10 359.31 L529.27 360.69 L529.44 362.08 L529.61 363.48 L529.77 364.90 L529.94 366.33 L530.11 367.77 L530.28 369.23 L530.45 370.70 L530.62 372.18 L530.79 373.67 L530.96 375.18 L531.13 376.70 L531.30 378.24 L531.47 379.78 L531.65 381.34 L531.82 382.92 L531.99 384.50 L532.16 386.10 L532.34 387.71 L532.51 389.33 L532.69 390.97 L532.86 392.62 L533.04 394.28 L533.21 395.95 L533.39 397.64 L533.57 399.34 L533.75 401.05 L533.92 402.77 L534.10 404.50 L534.28 406.25 L534.46 408.01 L534.64 409.78 L534.82 411.56 L535.00 413.36" stroke="#70ccff" stroke-width="1.30"/>
<path d="M90.05 203.95L535.00 223.90" stroke="#ff8a00" stroke-width="2.1"/>
</g>
<path d="M110.98 199.89L115.98 204.89L110.98 209.89L105.98 204.89Z" fill="#9370db"/>
<path d="M512.65 217.90L517.65 222.90L512.65 227.90L507.65 222.90Z" fill="#9370db"/>
<path d="M90.05 84.50v4.20M90.05 319.40v-4.20M112.30 84.50v2.90M112.30 319.40v-2.90M134.55 84.50v2.90M134.55 319.40v-2.90M156.79 84.50v2.90M156.79 319.40v-2.90M179.04 84.50v4.20M179.04 319.40v-4.20M201.29 84.50v2.90M201.29 319.40v-2.90M223.54 84.50v2.90M223.54 319.40v-2.90M245.78 84.50v2.90M245.78 319.40v-2.90M268.03 84.50v4.20M268.03 319.40v-4.20M290.28 84.50v2.90M290.28 319.40v-2.90M312.52 84.50v2.90M312.52 319.40v-2.90M334.77 84.50v2.90M334.77 319.40v-2.90M357.02 84.50v4.20M357.02 319.40v-4.20M379.27 84.50v2.90M379.27 319.40v-2.90M401.52 84.50v2.90M401.52 319.40v-2.90M423.76 84.50v2.90M423.76 319.40v-2.90M446.01 84.50v4.20M446.01 319.40v-4.20M468.26 84.50v2.90M468.26 319.40v-2.90M490.50 84.50v2.90M490.50 319.40v-2.90M512.75 84.50v2.90M512.75 319.40v-2.90M535.00 84.50v4.20M535.00 319.40v-4.20M90.05 319.40h4.20M535.00 319.40h-4.20M90.05 314.70h2.90M535.00 314.70h-2.90M90.05 310.00h2.90M535.00 310.00h-2.90M90.05 305.31h2.90M535.00 305.31h-2.90M90.05 300.61h2.90M535.00 300.61h-2.90M90.05 295.91h4.20M535.00 295.91h-4.20M90.05 291.21h2.90M535.00 291.21h-2.90M90.05 286.51h2.90M535.00 286.51h-2.90M90.05 281.82h2.90M535.00 281.82h-2.90M90.05 277.12h2.90M535.00 277.12h-2.90M90.05 272.42h4.20M535.00 272.42h-4.20M90.05 267.72h2.90M535.00 267.72h-2.90M90.05 263.02h2.90M535.00 263.02h-2.90M90.05 258.33h2.90M535.00 258.33h-2.90M90.05 253.63h2.90M535.00 253.63h-2.90M90.05 248.93h4.20M535.00 248.93h-4.20M90.05 244.23h2.90M535.00 244.23h-2.90M90.05 239.53h2.90M535.00 239.53h-2.90M90.05 234.84h2.90M535.00 234.84h-2.90M90.05 230.14h2.90M535.00 230.14h-2.90M90.05 225.44h4.20M535.00 225.44h-4.20M90.05 220.74h2.90M535.00 220.74h-2.90M90.05 216.04h2.90M535.00 216.04h-2.90M90.05 211.35h2.90M535.00 211.35h-2.90M90.05 206.65h2.90M535.00 206.65h-2.90M90.05 201.95h4.20M535.00 201.95h-4.20M90.05 197.25h2.90M535.00 197.25h-2.90M90.05 192.55h2.90M535.00 192.55h-2.90M90.05 187.86h2.90M535.00 187.86h-2.90M90.05 183.16h2.90M535.00 183.16h-2.90M90.05 178.46h4.20M535.00 178.46h-4.20M90.05 173.76h2.90M535.00 173.76h-2.90M90.05 169.06h2.90M535.00 169.06h-2.90M90.05 164.37h2.90M535.00 164.37h-2.90M90.05 159.67h2.90M535.00 159.67h-2.90M90.05 154.97h4.20M535.00 154.97h-4.20M90.05 150.27h2.90M535.00 150.27h-2.90M90.05 145.57h2.90M535.00 145.57h-2.90M90.05 140.88h2.90M535.00 140.88h-2.90M90.05 136.18h2.90M535.00 136.18h-2.90M90.05 131.48h4.20M535.00 131.48h-4.20M90.05 126.78h2.90M535.00 126.78h-2.90M90.05 122.08h2.90M535.00 122.08h-2.90M90.05 117.39h2.90M535.00 117.39h-2.90M90.05 112.69h2.90M535.00 112.69h-2.90M90.05 107.99h4.20M535.00 107.99h-4.20M90.05 103.29h2.90M535.00 103.29h-2.90M90.05 98.59h2.90M535.00 98.59h-2.90M90.05 93.90h2.90M535.00 93.90h-2.90M90.05 89.20h2.90M535.00 89.20h-2.90M90.05 84.50h4.20M535.00 84.50h-4.20" stroke="#808080" stroke-width="0.7" fill="none"/>
<rect x="90.05" y="84.50" width="444.95" height="234.90" fill="none" stroke="#808080" stroke-width="1.1"/>
<text x="78.6" y="325.10" font-size="18.2" text-anchor="end">0.2</text>
<text x="78.6" y="301.61" font-size="18.2" text-anchor="end">0.25</text>
<text x="78.6" y="278.12" font-size="18.2" text-anchor="end">0.3</text>
<text x="78.6" y="254.63" font-size="18.2" text-anchor="end">0.35</text>
<text x="78.6" y="231.14" font-size="18.2" text-anchor="end">0.4</text>
<text x="78.6" y="207.65" font-size="18.2" text-anchor="end">0.45</text>
<text x="78.6" y="184.16" font-size="18.2" text-anchor="end">0.5</text>
<text x="78.6" y="160.67" font-size="18.2" text-anchor="end">0.55</text>
<text x="78.6" y="137.18" font-size="18.2" text-anchor="end">0.6</text>
<text x="78.6" y="113.69" font-size="18.2" text-anchor="end">0.65</text>
<text x="78.6" y="90.20" font-size="18.2" text-anchor="end">0.7</text>
<text x="90.05" y="342.3" font-size="18.2" text-anchor="middle">0</text>
<text x="179.04" y="342.3" font-size="18.2" text-anchor="middle">0.2</text>
<text x="268.03" y="342.3" font-size="18.2" text-anchor="middle">0.4</text>
<text x="357.02" y="342.3" font-size="18.2" text-anchor="middle">0.6</text>
<text x="446.01" y="342.3" font-size="18.2" text-anchor="middle">0.8</text>
<text x="535.00" y="342.3" font-size="18.2" text-anchor="middle">1</text>
<rect x="327.95" y="98.95" width="161.55" height="88.50" fill="none"/>
<path d="M368.34 98.95V187.45M408.73 98.95V187.45M449.11 98.95V187.45M327.95 169.75H489.50M327.95 152.05H489.50M327.95 134.35H489.50M327.95 116.65H489.50" stroke="#e6e6e6" stroke-width="0.55" fill="none"/>
<g clip-path="url(#ci)" fill="none" stroke-linejoin="round">
<path d="M328.83 63.55L401.54 222.85" stroke="#7fd2f8" stroke-width="1.65"/>
<path d="M327.95 61.96 L328.35 62.60 L328.75 63.24 L329.15 63.87 L329.55 64.50 L329.95 65.13 L330.34 65.76 L330.74 66.38 L331.13 67.00 L331.52 67.61 L331.91 68.22 L332.30 68.83 L332.69 69.43 L333.07 70.03 L333.46 70.63 L333.84 71.23 L334.22 71.82 L334.60 72.40 L334.98 72.98 L335.36 73.56 L335.74 74.14 L336.11 74.71 L336.48 75.28 L336.86 75.85 L337.23 76.41 L337.60 76.97 L337.97 77.52 L338.33 78.07 L338.70 78.62 L339.06 79.16 L339.43 79.70 L339.79 80.24 L340.15 80.77 L340.51 81.30 L340.86 81.83 L341.22 82.35 L341.57 82.86 L341.93 83.38 L342.28 83.89 L342.63 84.40 L342.98 84.90 L343.33 85.40 L343.68 85.89 L344.02 86.38 L344.37 86.87 L344.71 87.36 L345.05 87.84 L345.39 88.31 L345.73 88.79 L346.07 89.25 L346.41 89.72 L346.74 90.18 L347.08 90.64 L347.41 91.09 L347.74 91.54 L348.07 91.99 L348.40 92.43 L348.73 92.87 L349.05 93.30 L349.38 93.73 L349.70 94.16 L350.02 94.58 L350.35 95.00 L350.67 95.41 L350.98 95.82 L351.30 96.23 L351.62 96.63 L351.93 97.03 L352.25 97.42 L352.56 97.81 L352.87 98.20 L353.18 98.58 L353.49 98.96 L353.80 99.33 L354.10 99.70 L354.40 100.06 L354.69 100.41 L354.99 100.76 L355.28 101.10 L355.56 101.44 L355.85 101.77 L356.13 102.10 L356.41 102.42 L356.68 102.74 L356.95 103.05 L357.23 103.36 L357.50 103.67 L357.76 103.97 L358.03 104.27 L358.30 104.57 L358.56 104.86 L358.83 105.15 L359.09 105.44 L359.35 105.73 L359.61 106.02 L359.88 106.30 L360.14 106.58 L360.40 106.86 L360.66 107.15 L360.93 107.43 L361.19 107.71 L361.46 107.99 L361.72 108.27 L361.99 108.55 L362.26 108.83 L362.53 109.12 L362.80 109.40 L363.08 109.69 L363.36 109.98 L363.64 110.27 L363.92 110.56 L364.20 110.86 L364.49 111.16 L364.78 111.46 L365.08 111.76 L365.38 112.07 L365.68 112.39 L365.98 112.70 L366.29 113.02 L366.60 113.35 L366.91 113.67 L367.22 114.00 L367.53 114.33 L367.85 114.67 L368.16 115.00 L368.48 115.34 L368.80 115.68 L369.12 116.03 L369.45 116.37 L369.77 116.71 L370.10 117.06 L370.43 117.41 L370.76 117.75 L371.09 118.10 L371.42 118.45 L371.75 118.79 L372.09 119.14 L372.42 119.49 L372.76 119.83 L373.10 120.18 L373.44 120.52 L373.78 120.86 L374.12 121.20 L374.46 121.54 L374.81 121.88 L375.15 122.21 L375.50 122.54 L375.84 122.87 L376.19 123.20 L376.54 123.52 L376.89 123.84 L377.24 124.15 L377.59 124.47 L377.95 124.78 L378.30 125.08 L378.65 125.38 L379.01 125.67 L379.36 125.96 L379.72 126.25 L380.07 126.53 L380.43 126.80 L380.79 127.07 L381.14 127.33 L381.50 127.59 L381.86 127.84 L382.22 128.10 L382.58 128.35 L382.94 128.59 L383.30 128.84 L383.66 129.08 L384.02 129.32 L384.39 129.55 L384.75 129.78 L385.12 130.02 L385.48 130.24 L385.85 130.47 L386.22 130.69 L386.60 130.92 L386.97 131.13 L387.34 131.35 L387.72 131.57 L388.10 131.78 L388.48 131.99 L388.87 132.20 L389.25 132.40 L389.64 132.61 L390.04 132.81 L390.43 133.01 L390.83 133.20 L391.23 133.40 L391.63 133.59 L392.04 133.78 L392.45 133.97 L392.86 134.16 L393.28 134.35 L393.70 134.53 L394.13 134.72 L394.57 134.90 L395.02 135.08 L395.48 135.26 L395.94 135.44 L396.41 135.62 L396.89 135.79 L397.37 135.97 L397.85 136.14 L398.34 136.31 L398.83 136.48 L399.32 136.65 L399.81 136.81 L400.30 136.98 L400.79 137.14 L401.28 137.29 L401.77 137.45 L402.26 137.60 L402.74 137.75 L403.21 137.89 L403.69 138.04 L404.15 138.18 L404.61 138.31 L405.06 138.45 L405.50 138.58 L405.93 138.70 L406.35 138.82 L406.76 138.94 L407.16 139.05 L407.56 139.16 L407.94 139.27 L408.33 139.38 L408.70 139.48 L409.08 139.58 L409.46 139.68 L409.83 139.78 L410.21 139.88 L410.59 139.97 L410.98 140.07 L411.37 140.16 L411.77 140.26 L412.18 140.35 L412.60 140.45 L413.03 140.55 L413.47 140.65 L413.93 140.75 L414.39 140.84 L414.85 140.94 L415.33 141.04 L415.81 141.14 L416.30 141.24 L416.79 141.34 L417.30 141.44 L417.80 141.54 L418.31 141.63 L418.83 141.73 L419.35 141.82 L419.88 141.92 L420.40 142.01 L420.94 142.10 L421.47 142.19 L422.01 142.28 L422.55 142.37 L423.09 142.45 L423.63 142.54 L424.17 142.62 L424.71 142.70 L425.24 142.78 L425.78 142.87 L426.32 142.95 L426.86 143.02 L427.41 143.10 L427.96 143.18 L428.52 143.26 L429.09 143.33 L429.67 143.41 L430.26 143.48 L430.86 143.55 L431.48 143.62 L432.11 143.69 L432.76 143.76 L433.43 143.83 L434.12 143.89 L434.83 143.96 L435.56 144.02 L436.33 144.09 L437.14 144.16 L437.97 144.23 L438.84 144.29 L439.73 144.36 L440.65 144.43 L441.59 144.50 L442.55 144.57 L443.53 144.64 L444.53 144.71 L445.54 144.77 L446.57 144.84 L447.61 144.90 L448.66 144.97 L449.72 145.03 L450.78 145.09 L451.85 145.15 L452.92 145.20 L453.99 145.26 L455.06 145.31 L456.12 145.35 L457.18 145.40 L458.23 145.44 L459.27 145.48 L460.30 145.51 L461.31 145.54 L462.31 145.56 L463.29 145.58 L464.26 145.60 L465.21 145.61 L466.14 145.63 L467.07 145.64 L467.99 145.65 L468.90 145.66 L469.80 145.67 L470.70 145.68 L471.59 145.69 L472.48 145.70 L473.37 145.71 L474.26 145.71 L475.15 145.72 L476.04 145.73 L476.94 145.74 L477.84 145.74 L478.75 145.75 L479.66 145.76 L480.59 145.76 L481.52 145.77 L482.47 145.78 L483.43 145.78 L484.40 145.79 L485.39 145.80 L486.39 145.81 L487.41 145.81 L488.45 145.82 L489.51 145.83 L490.59 145.84 L491.67 145.85 L492.76 145.86 L493.87 145.87 L494.97 145.88 L496.09 145.89 L497.22 145.90 L498.36 145.91 L499.51 145.93 L500.67 145.94 L501.83 145.95 L503.01 145.96 L504.20 145.97 L505.40 145.98" stroke="#ff85c8" stroke-width="1.10"/>
<path d="M327.95 61.96 L328.33 62.60 L328.71 63.24 L329.09 63.88 L329.46 64.51 L329.84 65.14 L330.21 65.77 L330.58 66.39 L330.95 67.01 L331.32 67.63 L331.69 68.24 L332.05 68.85 L332.42 69.45 L332.78 70.06 L333.15 70.65 L333.51 71.25 L333.87 71.84 L334.22 72.43 L334.58 73.01 L334.94 73.59 L335.29 74.17 L335.64 74.75 L336.00 75.32 L336.35 75.88 L336.70 76.45 L337.04 77.01 L337.39 77.56 L337.73 78.11 L338.08 78.66 L338.42 79.21 L338.76 79.75 L339.10 80.28 L339.44 80.82 L339.78 81.35 L340.11 81.88 L340.45 82.40 L340.78 82.92 L341.11 83.43 L341.44 83.94 L341.77 84.45 L342.10 84.95 L342.43 85.46 L342.75 85.95 L343.08 86.44 L343.40 86.93 L343.72 87.42 L344.04 87.90 L344.36 88.38 L344.68 88.85 L345.00 89.32 L345.31 89.79 L345.62 90.25 L345.94 90.70 L346.25 91.16 L346.56 91.61 L346.87 92.06 L347.17 92.50 L347.48 92.94 L347.79 93.37 L348.09 93.80 L348.39 94.23 L348.69 94.65 L348.99 95.07 L349.29 95.48 L349.59 95.90 L349.89 96.30 L350.18 96.70 L350.48 97.10 L350.77 97.50 L351.06 97.89 L351.35 98.27 L351.64 98.66 L351.93 99.04 L352.21 99.41 L352.49 99.78 L352.77 100.14 L353.04 100.49 L353.31 100.84 L353.58 101.18 L353.84 101.52 L354.10 101.85 L354.36 102.18 L354.61 102.50 L354.86 102.82 L355.11 103.13 L355.36 103.44 L355.60 103.75 L355.85 104.05 L356.09 104.35 L356.33 104.65 L356.57 104.94 L356.81 105.23 L357.05 105.52 L357.29 105.81 L357.53 106.10 L357.77 106.38 L358.01 106.67 L358.25 106.95 L358.49 107.23 L358.73 107.51 L358.98 107.80 L359.22 108.08 L359.47 108.36 L359.72 108.64 L359.97 108.93 L360.23 109.21 L360.48 109.50 L360.74 109.79 L361.00 110.08 L361.27 110.37 L361.54 110.67 L361.81 110.96 L362.09 111.26 L362.37 111.57 L362.66 111.87 L362.95 112.19 L363.24 112.50 L363.54 112.82 L363.85 113.14 L364.16 113.47 L364.47 113.79 L364.79 114.13 L365.12 114.46 L365.44 114.79 L365.77 115.13 L366.11 115.47 L366.45 115.81 L366.79 116.16 L367.13 116.50 L367.48 116.85 L367.83 117.19 L368.18 117.54 L368.54 117.88 L368.89 118.23 L369.25 118.58 L369.61 118.93 L369.97 119.27 L370.34 119.62 L370.70 119.96 L371.07 120.31 L371.43 120.65 L371.80 120.99 L372.17 121.33 L372.53 121.67 L372.90 122.00 L373.27 122.34 L373.63 122.67 L374.00 123.00 L374.37 123.32 L374.73 123.64 L375.09 123.96 L375.46 124.28 L375.82 124.59 L376.18 124.90 L376.53 125.20 L376.89 125.50 L377.24 125.79 L377.59 126.08 L377.94 126.36 L378.28 126.64 L378.63 126.92 L378.96 127.18 L379.30 127.45 L379.63 127.70 L379.96 127.96 L380.28 128.21 L380.61 128.46 L380.93 128.71 L381.25 128.95 L381.56 129.19 L381.88 129.43 L382.19 129.67 L382.51 129.90 L382.82 130.13 L383.13 130.36 L383.44 130.59 L383.75 130.82 L384.06 131.04 L384.37 131.26 L384.68 131.47 L385.00 131.69 L385.31 131.90 L385.63 132.11 L385.94 132.32 L386.26 132.53 L386.58 132.74 L386.91 132.94 L387.23 133.14 L387.56 133.34 L387.89 133.54 L388.23 133.73 L388.57 133.92 L388.91 134.12 L389.26 134.31 L389.61 134.50 L389.97 134.68 L390.34 134.87 L390.71 135.06 L391.09 135.24 L391.47 135.42 L391.85 135.61 L392.24 135.79 L392.64 135.97 L393.03 136.14 L393.43 136.32 L393.84 136.49 L394.24 136.66 L394.64 136.83 L395.05 137.00 L395.45 137.16 L395.86 137.33 L396.26 137.48 L396.66 137.64 L397.06 137.79 L397.46 137.94 L397.85 138.09 L398.24 138.23 L398.63 138.37 L399.01 138.50 L399.38 138.63 L399.75 138.76 L400.11 138.88 L400.47 139.00 L400.81 139.12 L401.16 139.23 L401.49 139.34 L401.83 139.45 L402.16 139.55 L402.50 139.65 L402.83 139.76 L403.17 139.86 L403.52 139.95 L403.87 140.05 L404.22 140.15 L404.59 140.25 L404.97 140.35 L405.36 140.44 L405.76 140.54 L406.18 140.64 L406.61 140.74 L407.06 140.84 L407.53 140.94 L408.00 141.04 L408.49 141.14 L408.99 141.24 L409.49 141.34 L410.01 141.43 L410.53 141.53 L411.05 141.63 L411.58 141.72 L412.12 141.82 L412.65 141.91 L413.19 142.00 L413.73 142.10 L414.26 142.19 L414.79 142.28 L415.32 142.37 L415.84 142.45 L416.35 142.54 L416.85 142.63 L417.34 142.71 L417.82 142.80 L418.29 142.88 L418.76 142.97 L419.24 143.05 L419.71 143.13 L420.19 143.21 L420.68 143.30 L421.18 143.37 L421.69 143.45 L422.22 143.53 L422.77 143.61 L423.34 143.68 L423.93 143.76 L424.55 143.83 L425.20 143.90 L425.88 143.97 L426.60 144.04 L427.38 144.11 L428.21 144.18 L429.09 144.25 L430.02 144.32 L430.99 144.39 L432.01 144.46 L433.06 144.53 L434.14 144.61 L435.26 144.68 L436.41 144.75 L437.58 144.81 L438.78 144.88 L440.00 144.95 L441.23 145.02 L442.48 145.08 L443.75 145.15 L445.02 145.21 L446.30 145.27 L447.58 145.34 L448.86 145.40 L450.14 145.45 L451.42 145.51 L452.69 145.56 L453.94 145.62 L455.19 145.67 L456.41 145.71 L457.62 145.76 L458.80 145.80 L459.96 145.84 L461.09 145.88 L462.19 145.92 L463.26 145.95 L464.29 145.98 L465.29 146.01 L466.28 146.04 L467.24 146.06 L468.19 146.09 L469.12 146.11 L470.04 146.13 L470.95 146.16 L471.85 146.18 L472.74 146.20 L473.63 146.22 L474.51 146.24 L475.39 146.26 L476.27 146.28 L477.15 146.29 L478.04 146.31 L478.92 146.33 L479.82 146.34 L480.72 146.36 L481.64 146.38 L482.56 146.39 L483.50 146.41 L484.46 146.43 L485.43 146.44 L486.43 146.46 L487.44 146.48 L488.48 146.50 L489.54 146.51 L490.61 146.53 L491.70 146.55 L492.79 146.56 L493.89 146.58 L495.00 146.60 L496.13 146.61 L497.26 146.63 L498.40 146.64 L499.55 146.66 L500.71 146.67 L501.88 146.69 L503.06 146.70 L504.25 146.72 L505.46 146.73" stroke="#e0309a" stroke-width="1.10"/>
<path d="M327.95 61.96 L328.29 62.60 L328.63 63.25 L328.97 63.89 L329.31 64.52 L329.65 65.15 L329.99 65.78 L330.32 66.41 L330.65 67.03 L330.99 67.65 L331.32 68.26 L331.65 68.87 L331.98 69.48 L332.30 70.09 L332.63 70.69 L332.96 71.29 L333.28 71.88 L333.60 72.47 L333.92 73.06 L334.24 73.64 L334.56 74.22 L334.88 74.79 L335.20 75.37 L335.51 75.94 L335.82 76.50 L336.14 77.06 L336.45 77.62 L336.76 78.17 L337.07 78.72 L337.38 79.27 L337.68 79.81 L337.99 80.35 L338.29 80.89 L338.59 81.42 L338.90 81.95 L339.20 82.47 L339.50 82.99 L339.79 83.51 L340.09 84.02 L340.39 84.53 L340.68 85.04 L340.97 85.54 L341.26 86.04 L341.56 86.53 L341.84 87.02 L342.13 87.51 L342.42 87.99 L342.71 88.47 L342.99 88.94 L343.27 89.41 L343.56 89.88 L343.84 90.34 L344.12 90.80 L344.40 91.26 L344.67 91.71 L344.95 92.16 L345.23 92.60 L345.50 93.04 L345.77 93.47 L346.04 93.91 L346.31 94.33 L346.58 94.76 L346.85 95.18 L347.12 95.59 L347.38 96.00 L347.65 96.41 L347.91 96.81 L348.18 97.21 L348.44 97.61 L348.70 98.00 L348.96 98.39 L349.21 98.77 L349.47 99.15 L349.72 99.52 L349.97 99.89 L350.22 100.25 L350.46 100.60 L350.70 100.95 L350.94 101.29 L351.17 101.63 L351.40 101.96 L351.63 102.29 L351.85 102.61 L352.08 102.93 L352.30 103.24 L352.52 103.55 L352.74 103.86 L352.95 104.16 L353.17 104.46 L353.38 104.76 L353.60 105.06 L353.81 105.35 L354.02 105.64 L354.24 105.93 L354.45 106.21 L354.66 106.50 L354.88 106.78 L355.09 107.07 L355.31 107.35 L355.52 107.63 L355.74 107.92 L355.96 108.20 L356.18 108.49 L356.40 108.77 L356.63 109.06 L356.85 109.34 L357.08 109.63 L357.31 109.92 L357.55 110.22 L357.78 110.51 L358.02 110.81 L358.27 111.11 L358.52 111.41 L358.77 111.72 L359.02 112.03 L359.28 112.35 L359.55 112.66 L359.81 112.99 L360.08 113.31 L360.35 113.64 L360.63 113.97 L360.90 114.31 L361.18 114.64 L361.46 114.98 L361.75 115.32 L362.04 115.67 L362.32 116.01 L362.62 116.36 L362.91 116.70 L363.20 117.05 L363.50 117.40 L363.80 117.75 L364.10 118.10 L364.41 118.45 L364.71 118.80 L365.02 119.15 L365.33 119.50 L365.64 119.85 L365.95 120.19 L366.26 120.54 L366.58 120.88 L366.90 121.22 L367.21 121.57 L367.53 121.90 L367.85 122.24 L368.17 122.57 L368.50 122.90 L368.82 123.23 L369.14 123.56 L369.47 123.88 L369.80 124.20 L370.12 124.51 L370.45 124.82 L370.78 125.13 L371.11 125.43 L371.44 125.72 L371.77 126.01 L372.10 126.30 L372.43 126.58 L372.76 126.86 L373.09 127.13 L373.42 127.39 L373.75 127.65 L374.08 127.91 L374.42 128.16 L374.75 128.41 L375.08 128.66 L375.42 128.90 L375.76 129.14 L376.09 129.38 L376.43 129.62 L376.77 129.86 L377.12 130.09 L377.46 130.32 L377.81 130.55 L378.15 130.77 L378.50 130.99 L378.85 131.21 L379.20 131.43 L379.56 131.65 L379.92 131.86 L380.28 132.07 L380.64 132.28 L381.00 132.49 L381.37 132.69 L381.74 132.90 L382.11 133.10 L382.48 133.29 L382.86 133.49 L383.24 133.69 L383.63 133.88 L384.01 134.07 L384.40 134.26 L384.80 134.45 L385.20 134.63 L385.61 134.82 L386.02 135.00 L386.45 135.19 L386.88 135.37 L387.33 135.55 L387.77 135.73 L388.22 135.91 L388.68 136.08 L389.14 136.26 L389.60 136.43 L390.06 136.60 L390.53 136.77 L390.99 136.93 L391.46 137.09 L391.92 137.25 L392.38 137.41 L392.84 137.57 L393.29 137.72 L393.74 137.87 L394.18 138.01 L394.62 138.16 L395.05 138.30 L395.47 138.43 L395.88 138.56 L396.28 138.69 L396.67 138.82 L397.05 138.94 L397.42 139.05 L397.78 139.17 L398.13 139.28 L398.48 139.39 L398.82 139.49 L399.16 139.60 L399.50 139.70 L399.84 139.80 L400.19 139.90 L400.54 140.00 L400.89 140.09 L401.26 140.19 L401.64 140.29 L402.03 140.39 L402.43 140.49 L402.85 140.59 L403.29 140.69 L403.75 140.78 L404.22 140.88 L404.71 140.98 L405.21 141.08 L405.72 141.18 L406.25 141.27 L406.78 141.37 L407.32 141.47 L407.86 141.56 L408.41 141.66 L408.96 141.75 L409.51 141.84 L410.07 141.94 L410.61 142.03 L411.16 142.12 L411.70 142.21 L412.23 142.30 L412.75 142.39 L413.26 142.48 L413.76 142.57 L414.24 142.65 L414.70 142.74 L415.15 142.82 L415.60 142.90 L416.04 142.98 L416.48 143.06 L416.92 143.14 L417.37 143.22 L417.83 143.30 L418.29 143.38 L418.78 143.46 L419.28 143.54 L419.81 143.63 L420.35 143.71 L420.93 143.79 L421.54 143.88 L422.19 143.96 L422.88 144.05 L423.63 144.14 L424.44 144.23 L425.31 144.33 L426.22 144.42 L427.19 144.52 L428.20 144.62 L429.25 144.72 L430.35 144.82 L431.48 144.92 L432.64 145.02 L433.84 145.12 L435.06 145.23 L436.31 145.33 L437.58 145.43 L438.87 145.54 L440.17 145.64 L441.49 145.74 L442.82 145.84 L444.15 145.94 L445.49 146.04 L446.83 146.14 L448.17 146.24 L449.50 146.34 L450.83 146.43 L452.14 146.53 L453.45 146.62 L454.73 146.71 L456.00 146.79 L457.24 146.88 L458.46 146.96 L459.64 147.04 L460.80 147.12 L461.92 147.19 L463.01 147.26 L464.05 147.33 L465.07 147.40 L466.06 147.46 L467.02 147.53 L467.97 147.59 L468.90 147.65 L469.82 147.72 L470.72 147.78 L471.62 147.84 L472.50 147.90 L473.37 147.96 L474.24 148.01 L475.11 148.07 L475.97 148.12 L476.83 148.18 L477.70 148.23 L478.57 148.28 L479.44 148.33 L480.33 148.38 L481.22 148.43 L482.12 148.48 L483.04 148.52 L483.97 148.56 L484.92 148.60 L485.89 148.64 L486.89 148.68 L487.90 148.72 L488.94 148.76 L490.00 148.79 L491.08 148.82 L492.16 148.86 L493.25 148.89 L494.36 148.92 L495.47 148.95 L496.59 148.98 L497.73 149.01 L498.87 149.04 L500.03 149.07 L501.19 149.09 L502.37 149.12 L503.56 149.15 L504.76 149.17" stroke="#a0005a" stroke-width="1.10"/>
<path d="M327.95 61.96 L328.33 62.60 L328.70 63.24 L329.07 63.88 L329.45 64.51 L329.82 65.14 L330.19 65.77 L330.56 66.39 L330.92 67.01 L331.29 67.63 L331.65 68.24 L332.02 68.85 L332.38 69.46 L332.74 70.06 L333.10 70.66 L333.45 71.26 L333.81 71.85 L334.17 72.44 L334.52 73.02 L334.87 73.61 L335.22 74.18 L335.57 74.76 L335.92 75.33 L336.27 75.90 L336.62 76.46 L336.96 77.02 L337.31 77.57 L337.65 78.13 L337.99 78.68 L338.33 79.22 L338.67 79.76 L339.00 80.30 L339.34 80.84 L339.68 81.37 L340.01 81.89 L340.34 82.42 L340.67 82.93 L341.00 83.45 L341.33 83.96 L341.66 84.47 L341.98 84.97 L342.31 85.47 L342.63 85.97 L342.95 86.46 L343.27 86.95 L343.59 87.44 L343.91 87.92 L344.23 88.40 L344.55 88.87 L344.86 89.34 L345.17 89.81 L345.49 90.27 L345.80 90.73 L346.11 91.18 L346.42 91.63 L346.72 92.08 L347.03 92.52 L347.33 92.96 L347.64 93.39 L347.94 93.83 L348.24 94.25 L348.54 94.68 L348.84 95.09 L349.14 95.51 L349.44 95.92 L349.73 96.33 L350.02 96.73 L350.32 97.13 L350.61 97.52 L350.90 97.91 L351.19 98.30 L351.48 98.68 L351.76 99.06 L352.05 99.44 L352.33 99.80 L352.60 100.16 L352.87 100.52 L353.14 100.87 L353.40 101.21 L353.66 101.54 L353.92 101.88 L354.17 102.20 L354.42 102.53 L354.67 102.84 L354.92 103.16 L355.16 103.47 L355.40 103.77 L355.65 104.08 L355.88 104.38 L356.12 104.67 L356.36 104.97 L356.60 105.26 L356.83 105.55 L357.07 105.84 L357.31 106.13 L357.55 106.41 L357.78 106.69 L358.02 106.98 L358.26 107.26 L358.51 107.54 L358.75 107.82 L359.00 108.11 L359.25 108.39 L359.50 108.67 L359.75 108.96 L360.01 109.24 L360.27 109.53 L360.53 109.82 L360.80 110.11 L361.07 110.40 L361.34 110.70 L361.62 110.99 L361.91 111.30 L362.20 111.60 L362.49 111.91 L362.79 112.22 L363.10 112.53 L363.41 112.85 L363.73 113.18 L364.05 113.50 L364.38 113.83 L364.71 114.16 L365.04 114.49 L365.38 114.83 L365.73 115.17 L366.08 115.51 L366.43 115.85 L366.79 116.19 L367.15 116.54 L367.51 116.88 L367.88 117.23 L368.25 117.58 L368.63 117.92 L369.00 118.27 L369.38 118.62 L369.77 118.97 L370.15 119.31 L370.54 119.66 L370.93 120.00 L371.32 120.35 L371.71 120.69 L372.11 121.03 L372.51 121.37 L372.91 121.71 L373.31 122.04 L373.71 122.38 L374.11 122.71 L374.52 123.03 L374.92 123.36 L375.33 123.68 L375.73 124.00 L376.14 124.31 L376.55 124.62 L376.96 124.93 L377.36 125.23 L377.77 125.52 L378.18 125.82 L378.58 126.10 L378.99 126.38 L379.39 126.66 L379.80 126.93 L380.20 127.20 L380.60 127.46 L381.00 127.71 L381.40 127.96 L381.81 128.21 L382.21 128.46 L382.61 128.71 L383.02 128.95 L383.42 129.19 L383.83 129.42 L384.24 129.66 L384.65 129.89 L385.06 130.12 L385.47 130.35 L385.88 130.57 L386.30 130.79 L386.71 131.01 L387.13 131.23 L387.55 131.44 L387.97 131.66 L388.40 131.87 L388.82 132.08 L389.25 132.28 L389.68 132.49 L390.11 132.69 L390.55 132.89 L390.99 133.08 L391.43 133.28 L391.87 133.47 L392.32 133.67 L392.77 133.86 L393.22 134.04 L393.68 134.23 L394.14 134.41 L394.61 134.60 L395.08 134.78 L395.57 134.96 L396.06 135.14 L396.56 135.32 L397.07 135.49 L397.59 135.67 L398.11 135.84 L398.64 136.02 L399.17 136.19 L399.70 136.36 L400.23 136.52 L400.77 136.69 L401.30 136.85 L401.83 137.01 L402.36 137.17 L402.89 137.32 L403.41 137.47 L403.93 137.62 L404.45 137.77 L404.95 137.92 L405.45 138.06 L405.94 138.20 L406.42 138.33 L406.89 138.46 L407.35 138.59 L407.80 138.71 L408.23 138.84 L408.65 138.95 L409.06 139.07 L409.45 139.18 L409.84 139.28 L410.23 139.39 L410.61 139.49 L410.98 139.59 L411.35 139.69 L411.73 139.79 L412.10 139.89 L412.48 139.99 L412.87 140.08 L413.26 140.18 L413.66 140.27 L414.07 140.37 L414.49 140.47 L414.92 140.56 L415.37 140.66 L415.83 140.76 L416.30 140.86 L416.78 140.96 L417.27 141.06 L417.77 141.16 L418.28 141.26 L418.79 141.35 L419.31 141.45 L419.83 141.55 L420.35 141.64 L420.88 141.74 L421.41 141.83 L421.93 141.93 L422.46 142.02 L422.98 142.11 L423.50 142.20 L424.02 142.30 L424.53 142.39 L425.03 142.47 L425.52 142.56 L426.00 142.65 L426.47 142.73 L426.93 142.81 L427.38 142.89 L427.83 142.97 L428.28 143.05 L428.73 143.12 L429.19 143.20 L429.65 143.28 L430.13 143.36 L430.61 143.44 L431.11 143.52 L431.63 143.60 L432.17 143.69 L432.73 143.77 L433.31 143.86 L433.92 143.95 L434.57 144.05 L435.25 144.15 L435.98 144.25 L436.73 144.36 L437.52 144.47 L438.34 144.59 L439.20 144.71 L440.07 144.83 L440.98 144.95 L441.90 145.08 L442.85 145.21 L443.82 145.33 L444.81 145.46 L445.81 145.59 L446.82 145.72 L447.85 145.85 L448.88 145.98 L449.92 146.11 L450.97 146.23 L452.02 146.35 L453.08 146.48 L454.13 146.60 L455.18 146.71 L456.23 146.83 L457.27 146.94 L458.30 147.04 L459.32 147.14 L460.33 147.24 L461.33 147.33 L462.31 147.42 L463.27 147.50 L464.21 147.57 L465.13 147.64 L466.05 147.71 L466.95 147.78 L467.85 147.85 L468.74 147.92 L469.63 147.98 L470.51 148.04 L471.38 148.11 L472.26 148.17 L473.13 148.23 L474.01 148.29 L474.88 148.34 L475.76 148.40 L476.64 148.45 L477.53 148.51 L478.42 148.56 L479.33 148.61 L480.24 148.66 L481.16 148.70 L482.09 148.75 L483.03 148.79 L483.99 148.83 L484.96 148.88 L485.95 148.91 L486.95 148.95 L487.98 148.99 L489.02 149.02 L490.08 149.06 L491.15 149.09 L492.24 149.12 L493.33 149.15 L494.43 149.18 L495.54 149.21 L496.66 149.24 L497.79 149.27 L498.93 149.30 L500.09 149.32 L501.25 149.35 L502.43 149.38 L503.61 149.40 L504.81 149.43" stroke="#4a1028" stroke-width="1.10"/>
<path d="M327.95 61.96 L328.31 62.60 L328.67 63.25 L329.03 63.88 L329.38 64.52 L329.74 65.15 L330.09 65.78 L330.45 66.41 L330.80 67.03 L331.15 67.65 L331.50 68.26 L331.84 68.87 L332.19 69.48 L332.54 70.08 L332.88 70.68 L333.22 71.28 L333.56 71.87 L333.90 72.46 L334.24 73.05 L334.58 73.63 L334.92 74.21 L335.25 74.79 L335.59 75.36 L335.92 75.93 L336.25 76.49 L336.58 77.05 L336.91 77.61 L337.24 78.16 L337.56 78.71 L337.89 79.26 L338.21 79.80 L338.54 80.34 L338.86 80.88 L339.18 81.41 L339.50 81.94 L339.81 82.46 L340.13 82.98 L340.45 83.50 L340.76 84.01 L341.07 84.52 L341.38 85.02 L341.70 85.53 L342.00 86.02 L342.31 86.52 L342.62 87.01 L342.93 87.49 L343.23 87.98 L343.53 88.45 L343.83 88.93 L344.14 89.40 L344.44 89.87 L344.73 90.33 L345.03 90.79 L345.33 91.24 L345.62 91.69 L345.92 92.14 L346.21 92.58 L346.50 93.02 L346.79 93.46 L347.08 93.89 L347.37 94.32 L347.65 94.74 L347.94 95.16 L348.22 95.57 L348.51 95.99 L348.79 96.39 L349.07 96.80 L349.35 97.20 L349.63 97.59 L349.90 97.98 L350.18 98.37 L350.45 98.75 L350.73 99.13 L351.00 99.50 L351.26 99.87 L351.53 100.23 L351.78 100.58 L352.04 100.93 L352.29 101.28 L352.53 101.61 L352.78 101.94 L353.02 102.27 L353.26 102.59 L353.49 102.91 L353.72 103.23 L353.96 103.54 L354.19 103.84 L354.41 104.15 L354.64 104.45 L354.87 104.74 L355.09 105.04 L355.32 105.33 L355.54 105.62 L355.77 105.91 L355.99 106.20 L356.22 106.48 L356.45 106.77 L356.68 107.05 L356.91 107.33 L357.14 107.62 L357.37 107.90 L357.60 108.18 L357.84 108.47 L358.08 108.75 L358.32 109.04 L358.57 109.32 L358.82 109.61 L359.07 109.90 L359.33 110.19 L359.59 110.49 L359.85 110.78 L360.12 111.08 L360.40 111.39 L360.68 111.69 L360.96 112.00 L361.25 112.32 L361.55 112.63 L361.85 112.95 L362.16 113.28 L362.47 113.61 L362.78 113.94 L363.10 114.27 L363.43 114.60 L363.76 114.94 L364.09 115.28 L364.43 115.62 L364.77 115.97 L365.11 116.31 L365.46 116.66 L365.81 117.01 L366.17 117.35 L366.53 117.70 L366.89 118.05 L367.25 118.40 L367.62 118.75 L367.99 119.09 L368.37 119.44 L368.74 119.79 L369.12 120.13 L369.50 120.48 L369.88 120.82 L370.27 121.16 L370.66 121.50 L371.05 121.84 L371.44 122.18 L371.83 122.51 L372.22 122.84 L372.61 123.17 L373.01 123.49 L373.41 123.81 L373.80 124.13 L374.20 124.44 L374.60 124.75 L375.00 125.05 L375.40 125.35 L375.80 125.65 L376.20 125.94 L376.60 126.23 L377.00 126.51 L377.40 126.78 L377.80 127.05 L378.20 127.31 L378.60 127.57 L379.00 127.83 L379.40 128.08 L379.80 128.33 L380.21 128.57 L380.61 128.82 L381.02 129.06 L381.43 129.30 L381.84 129.53 L382.25 129.77 L382.66 130.00 L383.08 130.23 L383.49 130.45 L383.91 130.68 L384.33 130.90 L384.76 131.12 L385.18 131.33 L385.61 131.55 L386.04 131.76 L386.48 131.97 L386.91 132.18 L387.35 132.38 L387.79 132.58 L388.24 132.79 L388.68 132.98 L389.13 133.18 L389.58 133.38 L390.04 133.57 L390.50 133.76 L390.96 133.95 L391.43 134.14 L391.90 134.32 L392.37 134.50 L392.85 134.69 L393.35 134.87 L393.85 135.05 L394.36 135.22 L394.88 135.40 L395.41 135.58 L395.94 135.75 L396.48 135.92 L397.03 136.10 L397.58 136.26 L398.13 136.43 L398.68 136.60 L399.23 136.76 L399.78 136.92 L400.34 137.08 L400.89 137.24 L401.43 137.39 L401.97 137.54 L402.51 137.69 L403.04 137.83 L403.57 137.98 L404.09 138.11 L404.59 138.25 L405.09 138.38 L405.58 138.51 L406.06 138.64 L406.52 138.76 L406.97 138.88 L407.41 138.99 L407.84 139.10 L408.26 139.21 L408.68 139.32 L409.09 139.42 L409.49 139.52 L409.89 139.62 L410.30 139.72 L410.70 139.81 L411.10 139.91 L411.50 140.00 L411.91 140.10 L412.33 140.19 L412.75 140.29 L413.18 140.38 L413.62 140.48 L414.08 140.58 L414.54 140.68 L415.01 140.78 L415.49 140.88 L415.98 140.97 L416.47 141.07 L416.97 141.17 L417.47 141.27 L417.98 141.37 L418.49 141.47 L419.00 141.56 L419.52 141.66 L420.04 141.76 L420.57 141.85 L421.09 141.95 L421.61 142.04 L422.14 142.13 L422.66 142.22 L423.18 142.31 L423.70 142.40 L424.22 142.49 L424.73 142.58 L425.23 142.66 L425.73 142.74 L426.21 142.82 L426.70 142.90 L427.18 142.97 L427.67 143.05 L428.16 143.13 L428.65 143.20 L429.15 143.28 L429.67 143.35 L430.19 143.43 L430.73 143.51 L431.28 143.59 L431.85 143.67 L432.45 143.75 L433.06 143.84 L433.70 143.92 L434.37 144.01 L435.07 144.11 L435.81 144.21 L436.58 144.31 L437.39 144.41 L438.23 144.52 L439.09 144.63 L439.98 144.74 L440.90 144.86 L441.83 144.97 L442.79 145.09 L443.77 145.21 L444.76 145.32 L445.77 145.44 L446.79 145.56 L447.82 145.68 L448.86 145.80 L449.91 145.92 L450.97 146.03 L452.02 146.15 L453.08 146.26 L454.14 146.37 L455.19 146.48 L456.24 146.58 L457.29 146.68 L458.33 146.78 L459.35 146.87 L460.37 146.96 L461.37 147.05 L462.35 147.13 L463.32 147.20 L464.26 147.27 L465.20 147.34 L466.12 147.41 L467.03 147.47 L467.93 147.54 L468.83 147.60 L469.72 147.66 L470.60 147.72 L471.48 147.78 L472.36 147.84 L473.24 147.90 L474.12 147.95 L474.99 148.01 L475.88 148.06 L476.76 148.11 L477.65 148.16 L478.55 148.21 L479.45 148.26 L480.37 148.30 L481.29 148.35 L482.23 148.39 L483.17 148.43 L484.14 148.47 L485.11 148.51 L486.11 148.55 L487.12 148.58 L488.15 148.62 L489.20 148.65 L490.26 148.68 L491.34 148.71 L492.43 148.74 L493.52 148.77 L494.63 148.80 L495.75 148.83 L496.87 148.86 L498.01 148.88 L499.16 148.91 L500.31 148.94 L501.48 148.96 L502.66 148.99 L503.85 149.01 L505.06 149.03" stroke="#1a2a50" stroke-width="1.10"/>
<path d="M327.95 61.96 L328.29 62.61 L328.63 63.25 L328.96 63.89 L329.30 64.53 L329.63 65.16 L329.97 65.79 L330.30 66.42 L330.63 67.04 L330.96 67.66 L331.29 68.28 L331.62 68.89 L331.94 69.50 L332.27 70.11 L332.59 70.71 L332.91 71.31 L333.23 71.91 L333.55 72.50 L333.87 73.09 L334.19 73.67 L334.51 74.25 L334.82 74.83 L335.14 75.40 L335.45 75.97 L335.76 76.54 L336.07 77.10 L336.38 77.66 L336.69 78.22 L336.99 78.77 L337.30 79.32 L337.60 79.86 L337.91 80.40 L338.21 80.94 L338.51 81.47 L338.81 82.00 L339.11 82.52 L339.41 83.05 L339.70 83.56 L340.00 84.08 L340.29 84.59 L340.58 85.09 L340.87 85.60 L341.17 86.10 L341.45 86.59 L341.74 87.08 L342.03 87.57 L342.31 88.05 L342.60 88.53 L342.88 89.01 L343.16 89.48 L343.45 89.95 L343.73 90.41 L344.00 90.87 L344.28 91.33 L344.56 91.78 L344.83 92.23 L345.11 92.67 L345.38 93.11 L345.65 93.55 L345.92 93.98 L346.19 94.41 L346.46 94.83 L346.73 95.25 L346.99 95.67 L347.26 96.08 L347.52 96.49 L347.79 96.89 L348.05 97.29 L348.31 97.68 L348.57 98.08 L348.83 98.46 L349.08 98.85 L349.34 99.23 L349.59 99.60 L349.84 99.97 L350.08 100.33 L350.32 100.68 L350.56 101.03 L350.79 101.37 L351.02 101.71 L351.25 102.04 L351.47 102.37 L351.69 102.69 L351.91 103.01 L352.13 103.32 L352.34 103.63 L352.56 103.94 L352.77 104.24 L352.98 104.54 L353.19 104.84 L353.40 105.13 L353.61 105.42 L353.82 105.72 L354.03 106.00 L354.24 106.29 L354.45 106.58 L354.66 106.86 L354.87 107.15 L355.09 107.43 L355.30 107.72 L355.52 108.00 L355.74 108.29 L355.96 108.57 L356.19 108.86 L356.42 109.14 L356.65 109.43 L356.88 109.72 L357.12 110.01 L357.37 110.31 L357.61 110.60 L357.86 110.90 L358.12 111.21 L358.38 111.51 L358.64 111.82 L358.92 112.13 L359.19 112.45 L359.48 112.77 L359.76 113.09 L360.06 113.42 L360.35 113.75 L360.66 114.08 L360.96 114.42 L361.28 114.76 L361.59 115.10 L361.92 115.44 L362.24 115.78 L362.57 116.13 L362.90 116.47 L363.24 116.82 L363.58 117.17 L363.93 117.52 L364.28 117.87 L364.63 118.22 L364.98 118.57 L365.34 118.92 L365.70 119.27 L366.06 119.62 L366.42 119.96 L366.79 120.31 L367.16 120.66 L367.53 121.00 L367.91 121.34 L368.28 121.68 L368.66 122.02 L369.03 122.35 L369.41 122.69 L369.79 123.02 L370.18 123.34 L370.56 123.67 L370.94 123.99 L371.32 124.30 L371.71 124.61 L372.09 124.92 L372.48 125.23 L372.86 125.53 L373.24 125.82 L373.63 126.11 L374.01 126.39 L374.39 126.67 L374.77 126.94 L375.15 127.21 L375.53 127.47 L375.91 127.73 L376.29 127.98 L376.67 128.24 L377.05 128.48 L377.43 128.73 L377.81 128.98 L378.19 129.22 L378.57 129.46 L378.96 129.69 L379.34 129.93 L379.73 130.16 L380.11 130.39 L380.50 130.61 L380.89 130.84 L381.29 131.06 L381.68 131.28 L382.08 131.49 L382.48 131.71 L382.89 131.92 L383.29 132.13 L383.70 132.34 L384.12 132.54 L384.54 132.75 L384.96 132.95 L385.38 133.15 L385.81 133.34 L386.25 133.54 L386.69 133.73 L387.13 133.92 L387.58 134.11 L388.03 134.29 L388.49 134.48 L388.96 134.66 L389.44 134.84 L389.94 135.02 L390.44 135.20 L390.96 135.38 L391.48 135.56 L392.02 135.73 L392.56 135.91 L393.11 136.08 L393.66 136.25 L394.21 136.41 L394.77 136.58 L395.33 136.74 L395.90 136.91 L396.46 137.06 L397.02 137.22 L397.58 137.37 L398.14 137.53 L398.69 137.67 L399.24 137.82 L399.78 137.96 L400.31 138.10 L400.84 138.24 L401.36 138.37 L401.87 138.50 L402.36 138.62 L402.84 138.75 L403.32 138.86 L403.78 138.98 L404.24 139.09 L404.69 139.19 L405.14 139.30 L405.58 139.40 L406.01 139.50 L406.44 139.60 L406.88 139.69 L407.31 139.79 L407.74 139.88 L408.17 139.98 L408.60 140.07 L409.04 140.16 L409.48 140.26 L409.92 140.35 L410.38 140.45 L410.83 140.55 L411.30 140.64 L411.76 140.74 L412.22 140.85 L412.69 140.95 L413.15 141.05 L413.61 141.15 L414.08 141.25 L414.54 141.36 L415.01 141.46 L415.49 141.56 L415.97 141.66 L416.45 141.76 L416.94 141.86 L417.44 141.95 L417.95 142.05 L418.46 142.14 L418.98 142.23 L419.51 142.32 L420.06 142.41 L420.61 142.49 L421.17 142.57 L421.74 142.65 L422.31 142.73 L422.89 142.80 L423.48 142.87 L424.08 142.95 L424.68 143.02 L425.30 143.09 L425.92 143.16 L426.56 143.22 L427.20 143.29 L427.86 143.36 L428.52 143.43 L429.20 143.50 L429.89 143.56 L430.59 143.63 L431.30 143.70 L432.03 143.77 L432.77 143.85 L433.53 143.92 L434.30 144.00 L435.10 144.07 L435.92 144.15 L436.78 144.23 L437.65 144.32 L438.55 144.40 L439.48 144.49 L440.42 144.57 L441.38 144.66 L442.36 144.75 L443.35 144.83 L444.36 144.92 L445.38 145.01 L446.41 145.10 L447.45 145.19 L448.50 145.27 L449.55 145.36 L450.61 145.45 L451.67 145.53 L452.73 145.62 L453.79 145.70 L454.85 145.78 L455.90 145.86 L456.95 145.94 L457.99 146.02 L459.02 146.09 L460.05 146.16 L461.06 146.23 L462.06 146.30 L463.04 146.36 L464.01 146.42 L464.96 146.48 L465.89 146.54 L466.82 146.60 L467.74 146.66 L468.64 146.71 L469.54 146.77 L470.44 146.82 L471.32 146.87 L472.21 146.93 L473.09 146.98 L473.97 147.03 L474.86 147.08 L475.74 147.12 L476.63 147.17 L477.52 147.22 L478.42 147.26 L479.32 147.31 L480.24 147.35 L481.16 147.40 L482.09 147.44 L483.04 147.48 L484.00 147.52 L484.98 147.56 L485.97 147.60 L486.98 147.63 L488.02 147.67 L489.07 147.70 L490.14 147.74 L491.22 147.77 L492.31 147.81 L493.41 147.84 L494.51 147.87 L495.63 147.91 L496.76 147.94 L497.90 147.97 L499.05 148.00 L500.21 148.03 L501.38 148.06 L502.56 148.10 L503.75 148.13 L504.96 148.16" stroke="#0a6aa0" stroke-width="1.10"/>
<path d="M327.95 61.96 L328.27 62.61 L328.59 63.25 L328.91 63.90 L329.23 64.54 L329.55 65.17 L329.87 65.80 L330.18 66.43 L330.50 67.06 L330.81 67.68 L331.13 68.30 L331.44 68.91 L331.75 69.53 L332.06 70.13 L332.37 70.74 L332.67 71.34 L332.98 71.93 L333.29 72.53 L333.59 73.12 L333.89 73.70 L334.19 74.29 L334.50 74.86 L334.80 75.44 L335.09 76.01 L335.39 76.58 L335.69 77.14 L335.98 77.70 L336.28 78.26 L336.57 78.81 L336.87 79.36 L337.16 79.91 L337.45 80.45 L337.74 80.99 L338.03 81.52 L338.31 82.05 L338.60 82.58 L338.88 83.10 L339.17 83.62 L339.45 84.13 L339.73 84.65 L340.02 85.15 L340.30 85.66 L340.57 86.16 L340.85 86.65 L341.13 87.14 L341.41 87.63 L341.68 88.12 L341.96 88.60 L342.23 89.07 L342.50 89.55 L342.77 90.01 L343.04 90.48 L343.31 90.94 L343.58 91.40 L343.85 91.85 L344.11 92.30 L344.38 92.74 L344.64 93.18 L344.90 93.62 L345.17 94.05 L345.43 94.48 L345.69 94.91 L345.95 95.33 L346.20 95.74 L346.46 96.15 L346.72 96.56 L346.97 96.97 L347.23 97.37 L347.48 97.76 L347.73 98.16 L347.98 98.54 L348.23 98.93 L348.48 99.31 L348.73 99.68 L348.97 100.04 L349.21 100.40 L349.44 100.76 L349.67 101.10 L349.90 101.45 L350.12 101.78 L350.34 102.12 L350.56 102.44 L350.78 102.76 L350.99 103.08 L351.21 103.40 L351.42 103.71 L351.63 104.01 L351.84 104.32 L352.05 104.62 L352.25 104.91 L352.46 105.21 L352.67 105.50 L352.88 105.79 L353.08 106.08 L353.29 106.37 L353.50 106.66 L353.71 106.94 L353.92 107.23 L354.13 107.51 L354.35 107.80 L354.56 108.08 L354.78 108.37 L355.00 108.65 L355.22 108.94 L355.45 109.23 L355.68 109.52 L355.91 109.81 L356.15 110.10 L356.39 110.40 L356.63 110.70 L356.88 111.00 L357.13 111.30 L357.39 111.61 L357.65 111.92 L357.92 112.24 L358.19 112.56 L358.47 112.88 L358.75 113.20 L359.04 113.53 L359.34 113.87 L359.63 114.20 L359.94 114.54 L360.24 114.88 L360.56 115.22 L360.87 115.56 L361.19 115.91 L361.51 116.25 L361.84 116.60 L362.17 116.95 L362.51 117.30 L362.85 117.65 L363.19 118.00 L363.53 118.35 L363.88 118.70 L364.22 119.05 L364.58 119.40 L364.93 119.75 L365.29 120.10 L365.64 120.45 L366.00 120.79 L366.36 121.14 L366.73 121.48 L367.09 121.82 L367.46 122.16 L367.82 122.49 L368.19 122.83 L368.56 123.16 L368.93 123.48 L369.30 123.81 L369.67 124.13 L370.04 124.44 L370.41 124.75 L370.78 125.06 L371.15 125.36 L371.52 125.66 L371.88 125.95 L372.25 126.24 L372.62 126.53 L372.98 126.80 L373.35 127.07 L373.71 127.34 L374.07 127.60 L374.43 127.86 L374.79 128.11 L375.15 128.36 L375.50 128.61 L375.86 128.86 L376.21 129.10 L376.57 129.35 L376.92 129.59 L377.28 129.82 L377.63 130.06 L377.99 130.29 L378.35 130.52 L378.71 130.74 L379.08 130.97 L379.44 131.19 L379.81 131.41 L380.18 131.63 L380.55 131.84 L380.93 132.05 L381.31 132.26 L381.69 132.47 L382.08 132.68 L382.48 132.88 L382.87 133.08 L383.28 133.28 L383.69 133.48 L384.10 133.67 L384.52 133.86 L384.95 134.05 L385.38 134.24 L385.82 134.42 L386.27 134.61 L386.73 134.79 L387.21 134.97 L387.70 135.15 L388.20 135.33 L388.71 135.51 L389.23 135.69 L389.76 135.86 L390.30 136.04 L390.85 136.21 L391.40 136.38 L391.95 136.55 L392.51 136.71 L393.07 136.87 L393.64 137.03 L394.20 137.19 L394.76 137.35 L395.33 137.50 L395.89 137.65 L396.45 137.79 L397.01 137.94 L397.56 138.08 L398.10 138.21 L398.64 138.35 L399.17 138.47 L399.69 138.60 L400.21 138.72 L400.71 138.84 L401.20 138.95 L401.69 139.06 L402.18 139.17 L402.65 139.27 L403.13 139.37 L403.60 139.47 L404.07 139.57 L404.54 139.66 L405.01 139.75 L405.49 139.84 L405.97 139.94 L406.45 140.03 L406.94 140.12 L407.43 140.21 L407.93 140.30 L408.44 140.39 L408.96 140.48 L409.50 140.57 L410.04 140.67 L410.59 140.76 L411.14 140.85 L411.71 140.95 L412.28 141.04 L412.85 141.14 L413.43 141.23 L414.02 141.32 L414.61 141.42 L415.21 141.51 L415.82 141.60 L416.43 141.69 L417.05 141.78 L417.67 141.87 L418.29 141.96 L418.92 142.05 L419.56 142.13 L420.20 142.21 L420.85 142.30 L421.50 142.38 L422.15 142.45 L422.81 142.53 L423.48 142.60 L424.15 142.68 L424.82 142.75 L425.50 142.82 L426.19 142.88 L426.88 142.95 L427.58 143.02 L428.28 143.08 L428.99 143.15 L429.71 143.21 L430.43 143.27 L431.16 143.34 L431.90 143.40 L432.64 143.46 L433.39 143.53 L434.14 143.59 L434.91 143.66 L435.68 143.72 L436.46 143.79 L437.25 143.86 L438.04 143.92 L438.85 143.99 L439.66 144.07 L440.49 144.14 L441.34 144.22 L442.19 144.30 L443.06 144.37 L443.93 144.46 L444.82 144.54 L445.72 144.62 L446.62 144.70 L447.53 144.79 L448.45 144.87 L449.38 144.95 L450.31 145.03 L451.25 145.12 L452.19 145.20 L453.13 145.28 L454.07 145.36 L455.02 145.43 L455.97 145.51 L456.92 145.58 L457.87 145.65 L458.82 145.72 L459.76 145.79 L460.70 145.85 L461.64 145.91 L462.58 145.97 L463.51 146.02 L464.44 146.07 L465.35 146.12 L466.26 146.17 L467.17 146.21 L468.07 146.25 L468.97 146.30 L469.86 146.34 L470.75 146.38 L471.64 146.42 L472.53 146.46 L473.43 146.50 L474.32 146.54 L475.22 146.57 L476.13 146.61 L477.03 146.64 L477.95 146.68 L478.87 146.71 L479.80 146.74 L480.75 146.78 L481.70 146.81 L482.66 146.84 L483.64 146.87 L484.63 146.90 L485.63 146.93 L486.65 146.96 L487.69 146.99 L488.74 147.02 L489.82 147.05 L490.90 147.08 L491.99 147.11 L493.09 147.13 L494.21 147.16 L495.33 147.19 L496.46 147.22 L497.60 147.24 L498.75 147.27 L499.91 147.29 L501.08 147.32 L502.27 147.35 L503.46 147.37 L504.67 147.40" stroke="#1e90d8" stroke-width="1.10"/>
<path d="M327.95 61.96 L328.26 62.61 L328.57 63.26 L328.88 63.90 L329.18 64.54 L329.49 65.18 L329.79 65.81 L330.10 66.44 L330.40 67.07 L330.70 67.69 L331.00 68.31 L331.30 68.93 L331.60 69.54 L331.90 70.15 L332.19 70.76 L332.49 71.36 L332.78 71.96 L333.08 72.55 L333.37 73.14 L333.66 73.73 L333.95 74.31 L334.24 74.89 L334.53 75.47 L334.82 76.04 L335.10 76.61 L335.39 77.17 L335.68 77.74 L335.96 78.29 L336.24 78.85 L336.53 79.40 L336.81 79.94 L337.09 80.49 L337.37 81.02 L337.64 81.56 L337.92 82.09 L338.20 82.62 L338.47 83.14 L338.75 83.66 L339.02 84.18 L339.30 84.69 L339.57 85.20 L339.84 85.70 L340.11 86.20 L340.38 86.70 L340.65 87.19 L340.91 87.68 L341.18 88.17 L341.45 88.65 L341.71 89.12 L341.97 89.60 L342.24 90.07 L342.50 90.53 L342.76 90.99 L343.02 91.45 L343.28 91.90 L343.54 92.35 L343.79 92.80 L344.05 93.24 L344.31 93.68 L344.56 94.11 L344.81 94.54 L345.07 94.96 L345.32 95.38 L345.57 95.80 L345.82 96.21 L346.07 96.62 L346.32 97.03 L346.57 97.43 L346.81 97.82 L347.06 98.21 L347.30 98.60 L347.55 98.99 L347.79 99.36 L348.03 99.74 L348.27 100.10 L348.50 100.46 L348.73 100.82 L348.95 101.16 L349.18 101.50 L349.40 101.84 L349.62 102.17 L349.83 102.50 L350.05 102.82 L350.26 103.14 L350.47 103.45 L350.68 103.76 L350.89 104.07 L351.10 104.37 L351.31 104.67 L351.51 104.97 L351.72 105.27 L351.92 105.56 L352.13 105.85 L352.34 106.14 L352.54 106.43 L352.75 106.72 L352.96 107.00 L353.17 107.29 L353.38 107.57 L353.59 107.86 L353.80 108.14 L354.02 108.43 L354.24 108.72 L354.46 109.01 L354.68 109.29 L354.90 109.59 L355.13 109.88 L355.36 110.17 L355.60 110.47 L355.83 110.77 L356.07 111.07 L356.32 111.38 L356.57 111.69 L356.82 112.00 L357.08 112.32 L357.34 112.64 L357.61 112.96 L357.88 113.29 L358.15 113.62 L358.43 113.95 L358.70 114.29 L358.99 114.63 L359.27 114.97 L359.56 115.32 L359.85 115.66 L360.15 116.01 L360.44 116.36 L360.74 116.71 L361.05 117.06 L361.35 117.41 L361.66 117.76 L361.97 118.11 L362.28 118.46 L362.60 118.82 L362.91 119.17 L363.23 119.52 L363.55 119.87 L363.88 120.22 L364.20 120.57 L364.53 120.91 L364.86 121.26 L365.19 121.60 L365.52 121.94 L365.85 122.28 L366.19 122.62 L366.53 122.95 L366.86 123.28 L367.20 123.60 L367.54 123.93 L367.88 124.25 L368.22 124.56 L368.57 124.87 L368.91 125.18 L369.26 125.48 L369.60 125.78 L369.95 126.07 L370.29 126.36 L370.64 126.64 L370.99 126.92 L371.33 127.19 L371.68 127.45 L372.03 127.71 L372.38 127.97 L372.72 128.22 L373.07 128.47 L373.41 128.72 L373.76 128.97 L374.11 129.21 L374.46 129.45 L374.81 129.69 L375.16 129.93 L375.51 130.16 L375.87 130.40 L376.22 130.62 L376.58 130.85 L376.95 131.07 L377.32 131.30 L377.69 131.52 L378.06 131.73 L378.44 131.95 L378.82 132.16 L379.21 132.37 L379.60 132.57 L380.00 132.78 L380.40 132.98 L380.81 133.18 L381.23 133.38 L381.65 133.57 L382.08 133.77 L382.51 133.96 L382.95 134.14 L383.40 134.33 L383.86 134.51 L384.34 134.70 L384.83 134.88 L385.34 135.06 L385.86 135.24 L386.40 135.41 L386.95 135.59 L387.51 135.76 L388.09 135.93 L388.67 136.11 L389.26 136.27 L389.86 136.44 L390.47 136.60 L391.07 136.77 L391.69 136.93 L392.30 137.08 L392.92 137.24 L393.53 137.39 L394.14 137.54 L394.75 137.69 L395.36 137.83 L395.96 137.97 L396.55 138.11 L397.14 138.24 L397.72 138.37 L398.28 138.49 L398.84 138.62 L399.38 138.74 L399.91 138.85 L400.42 138.96 L400.93 139.07 L401.43 139.18 L401.92 139.28 L402.41 139.38 L402.90 139.48 L403.38 139.57 L403.86 139.67 L404.35 139.76 L404.84 139.85 L405.33 139.94 L405.83 140.03 L406.34 140.12 L406.86 140.21 L407.39 140.30 L407.93 140.39 L408.49 140.47 L409.06 140.56 L409.66 140.65 L410.26 140.74 L410.88 140.83 L411.52 140.92 L412.17 141.01 L412.83 141.09 L413.50 141.18 L414.18 141.27 L414.87 141.35 L415.57 141.44 L416.27 141.52 L416.99 141.61 L417.71 141.69 L418.43 141.77 L419.16 141.86 L419.89 141.94 L420.63 142.02 L421.37 142.10 L422.10 142.17 L422.84 142.25 L423.58 142.32 L424.31 142.40 L425.05 142.47 L425.78 142.54 L426.52 142.61 L427.26 142.68 L428.01 142.75 L428.76 142.82 L429.52 142.88 L430.27 142.94 L431.04 143.01 L431.80 143.07 L432.57 143.13 L433.34 143.20 L434.12 143.26 L434.90 143.32 L435.68 143.38 L436.46 143.44 L437.24 143.50 L438.03 143.56 L438.82 143.63 L439.61 143.69 L440.41 143.75 L441.20 143.81 L442.00 143.88 L442.79 143.94 L443.59 144.01 L444.39 144.08 L445.19 144.15 L445.99 144.22 L446.79 144.30 L447.60 144.37 L448.40 144.45 L449.21 144.52 L450.02 144.60 L450.83 144.68 L451.65 144.75 L452.46 144.83 L453.28 144.91 L454.11 144.98 L454.93 145.06 L455.76 145.13 L456.60 145.20 L457.44 145.27 L458.28 145.34 L459.13 145.40 L459.98 145.46 L460.84 145.52 L461.70 145.58 L462.57 145.63 L463.44 145.68 L464.32 145.72 L465.20 145.77 L466.08 145.81 L466.96 145.85 L467.84 145.89 L468.72 145.93 L469.60 145.96 L470.49 146.00 L471.38 146.04 L472.28 146.07 L473.18 146.10 L474.08 146.14 L474.99 146.17 L475.91 146.20 L476.83 146.23 L477.77 146.26 L478.71 146.29 L479.66 146.32 L480.62 146.35 L481.59 146.37 L482.57 146.40 L483.57 146.43 L484.57 146.46 L485.59 146.49 L486.62 146.51 L487.67 146.54 L488.73 146.57 L489.81 146.60 L490.90 146.62 L491.99 146.65 L493.10 146.68 L494.21 146.71 L495.33 146.73 L496.47 146.76 L497.61 146.79 L498.76 146.82 L499.93 146.84 L501.10 146.87 L502.29 146.90 L503.48 146.92 L504.69 146.95" stroke="#30a8f0" stroke-width="1.10"/>
<path d="M327.95 61.96 L328.24 62.61 L328.53 63.26 L328.82 63.90 L329.10 64.55 L329.39 65.18 L329.67 65.82 L329.96 66.45 L330.24 67.08 L330.53 67.70 L330.81 68.32 L331.09 68.94 L331.37 69.55 L331.65 70.16 L331.93 70.77 L332.21 71.37 L332.49 71.97 L332.76 72.57 L333.04 73.16 L333.32 73.75 L333.59 74.33 L333.87 74.91 L334.14 75.49 L334.41 76.06 L334.68 76.63 L334.95 77.20 L335.22 77.76 L335.49 78.32 L335.76 78.87 L336.03 79.42 L336.30 79.97 L336.57 80.51 L336.83 81.05 L337.10 81.59 L337.36 82.12 L337.63 82.65 L337.89 83.17 L338.15 83.69 L338.41 84.21 L338.67 84.72 L338.94 85.23 L339.20 85.74 L339.45 86.24 L339.71 86.73 L339.97 87.23 L340.23 87.72 L340.48 88.20 L340.74 88.68 L340.99 89.16 L341.25 89.63 L341.50 90.10 L341.75 90.57 L342.01 91.03 L342.26 91.49 L342.51 91.94 L342.76 92.39 L343.01 92.84 L343.26 93.28 L343.50 93.72 L343.75 94.15 L344.00 94.58 L344.25 95.00 L344.49 95.43 L344.74 95.84 L344.98 96.25 L345.22 96.66 L345.47 97.07 L345.71 97.47 L345.95 97.87 L346.19 98.26 L346.43 98.65 L346.67 99.03 L346.91 99.41 L347.14 99.78 L347.38 100.15 L347.61 100.50 L347.83 100.86 L348.06 101.20 L348.28 101.55 L348.50 101.88 L348.71 102.21 L348.93 102.54 L349.14 102.86 L349.36 103.18 L349.57 103.49 L349.78 103.80 L349.99 104.11 L350.19 104.41 L350.40 104.71 L350.61 105.01 L350.82 105.31 L351.03 105.60 L351.23 105.89 L351.44 106.18 L351.65 106.47 L351.86 106.76 L352.07 107.04 L352.28 107.33 L352.49 107.62 L352.71 107.90 L352.92 108.19 L353.14 108.47 L353.36 108.76 L353.58 109.05 L353.81 109.34 L354.03 109.63 L354.26 109.93 L354.49 110.22 L354.73 110.52 L354.97 110.82 L355.21 111.12 L355.46 111.43 L355.71 111.74 L355.96 112.05 L356.22 112.37 L356.48 112.69 L356.74 113.02 L357.01 113.35 L357.28 113.68 L357.56 114.01 L357.84 114.35 L358.12 114.69 L358.40 115.03 L358.69 115.38 L358.98 115.72 L359.27 116.07 L359.56 116.42 L359.86 116.77 L360.16 117.12 L360.46 117.48 L360.77 117.83 L361.08 118.18 L361.39 118.53 L361.70 118.89 L362.01 119.24 L362.33 119.59 L362.64 119.94 L362.96 120.29 L363.29 120.64 L363.61 120.99 L363.93 121.33 L364.26 121.67 L364.59 122.01 L364.92 122.35 L365.25 122.69 L365.58 123.02 L365.91 123.35 L366.25 123.68 L366.58 124.00 L366.92 124.32 L367.26 124.63 L367.60 124.94 L367.94 125.25 L368.28 125.55 L368.62 125.85 L368.96 126.14 L369.30 126.43 L369.65 126.71 L369.99 126.98 L370.33 127.25 L370.67 127.51 L371.02 127.77 L371.36 128.03 L371.70 128.28 L372.04 128.54 L372.38 128.78 L372.72 129.03 L373.07 129.28 L373.41 129.52 L373.75 129.76 L374.10 129.99 L374.45 130.23 L374.80 130.46 L375.15 130.69 L375.50 130.91 L375.86 131.14 L376.23 131.36 L376.59 131.58 L376.96 131.79 L377.34 132.01 L377.71 132.22 L378.10 132.43 L378.49 132.64 L378.88 132.84 L379.28 133.04 L379.69 133.24 L380.10 133.44 L380.52 133.63 L380.95 133.82 L381.38 134.01 L381.83 134.20 L382.28 134.39 L382.74 134.57 L383.22 134.75 L383.71 134.93 L384.23 135.11 L384.76 135.29 L385.31 135.47 L385.87 135.64 L386.44 135.82 L387.03 135.99 L387.62 136.16 L388.22 136.33 L388.83 136.49 L389.44 136.65 L390.06 136.82 L390.69 136.97 L391.31 137.13 L391.93 137.28 L392.56 137.43 L393.18 137.58 L393.80 137.73 L394.41 137.87 L395.01 138.01 L395.61 138.14 L396.20 138.28 L396.78 138.41 L397.35 138.53 L397.90 138.65 L398.44 138.77 L398.97 138.88 L399.48 139.00 L399.98 139.10 L400.47 139.21 L400.95 139.31 L401.43 139.41 L401.91 139.51 L402.38 139.61 L402.86 139.71 L403.34 139.80 L403.82 139.89 L404.31 139.98 L404.82 140.07 L405.33 140.16 L405.86 140.25 L406.41 140.33 L406.97 140.42 L407.55 140.50 L408.16 140.59 L408.80 140.68 L409.46 140.76 L410.14 140.84 L410.85 140.93 L411.57 141.01 L412.32 141.09 L413.09 141.17 L413.87 141.25 L414.66 141.33 L415.47 141.41 L416.29 141.48 L417.12 141.56 L417.96 141.63 L418.80 141.71 L419.65 141.78 L420.50 141.86 L421.36 141.93 L422.21 142.00 L423.06 142.08 L423.91 142.15 L424.75 142.22 L425.59 142.29 L426.41 142.36 L427.23 142.43 L428.04 142.49 L428.85 142.56 L429.66 142.63 L430.48 142.69 L431.30 142.76 L432.13 142.82 L432.95 142.88 L433.78 142.95 L434.61 143.01 L435.44 143.07 L436.27 143.13 L437.11 143.19 L437.94 143.25 L438.76 143.31 L439.59 143.37 L440.41 143.43 L441.23 143.49 L442.05 143.55 L442.86 143.61 L443.67 143.67 L444.47 143.73 L445.27 143.79 L446.06 143.85 L446.85 143.91 L447.62 143.97 L448.39 144.03 L449.14 144.09 L449.88 144.16 L450.61 144.23 L451.33 144.29 L452.04 144.36 L452.75 144.43 L453.45 144.50 L454.15 144.57 L454.85 144.64 L455.55 144.70 L456.26 144.77 L456.96 144.84 L457.67 144.90 L458.39 144.96 L459.11 145.02 L459.85 145.08 L460.60 145.13 L461.35 145.18 L462.13 145.23 L462.92 145.28 L463.72 145.32 L464.55 145.36 L465.38 145.39 L466.22 145.43 L467.07 145.47 L467.92 145.50 L468.79 145.53 L469.66 145.57 L470.54 145.60 L471.43 145.63 L472.33 145.66 L473.24 145.69 L474.16 145.72 L475.09 145.74 L476.03 145.77 L476.97 145.80 L477.93 145.82 L478.90 145.85 L479.88 145.87 L480.86 145.89 L481.86 145.92 L482.87 145.94 L483.89 145.96 L484.92 145.98 L485.96 146.00 L487.01 146.02 L488.08 146.04 L489.15 146.05 L490.24 146.07 L491.33 146.09 L492.43 146.10 L493.55 146.12 L494.67 146.13 L495.80 146.15 L496.94 146.16 L498.09 146.17 L499.25 146.18 L500.42 146.19 L501.61 146.21 L502.80 146.22 L504.01 146.23 L505.22 146.24" stroke="#70ccff" stroke-width="1.10"/>
<path d="M327.95 143.95L497.58 145.53" stroke="#ff8a00" stroke-width="1.65"/>
</g>
<path d="M365.55 140.46L369.40 144.31L365.55 148.16L361.70 144.31Z" fill="#9370db"/>
<path d="M327.95 98.95v3.60M327.95 187.45v-3.60M336.03 98.95v2.30M336.03 187.45v-2.30M344.11 98.95v2.30M344.11 187.45v-2.30M352.18 98.95v2.30M352.18 187.45v-2.30M360.26 98.95v2.30M360.26 187.45v-2.30M368.34 98.95v3.60M368.34 187.45v-3.60M376.41 98.95v2.30M376.41 187.45v-2.30M384.49 98.95v2.30M384.49 187.45v-2.30M392.57 98.95v2.30M392.57 187.45v-2.30M400.65 98.95v2.30M400.65 187.45v-2.30M408.73 98.95v3.60M408.73 187.45v-3.60M416.80 98.95v2.30M416.80 187.45v-2.30M424.88 98.95v2.30M424.88 187.45v-2.30M432.96 98.95v2.30M432.96 187.45v-2.30M441.04 98.95v2.30M441.04 187.45v-2.30M449.11 98.95v3.60M449.11 187.45v-3.60M457.19 98.95v2.30M457.19 187.45v-2.30M465.27 98.95v2.30M465.27 187.45v-2.30M473.34 98.95v2.30M473.34 187.45v-2.30M481.42 98.95v2.30M481.42 187.45v-2.30M489.50 98.95v3.60M489.50 187.45v-3.60M327.95 187.45h3.60M489.50 187.45h-3.60M327.95 183.91h2.30M489.50 183.91h-2.30M327.95 180.37h2.30M489.50 180.37h-2.30M327.95 176.83h2.30M489.50 176.83h-2.30M327.95 173.29h2.30M489.50 173.29h-2.30M327.95 169.75h3.60M489.50 169.75h-3.60M327.95 166.21h2.30M489.50 166.21h-2.30M327.95 162.67h2.30M489.50 162.67h-2.30M327.95 159.13h2.30M489.50 159.13h-2.30M327.95 155.59h2.30M489.50 155.59h-2.30M327.95 152.05h3.60M489.50 152.05h-3.60M327.95 148.51h2.30M489.50 148.51h-2.30M327.95 144.97h2.30M489.50 144.97h-2.30M327.95 141.43h2.30M489.50 141.43h-2.30M327.95 137.89h2.30M489.50 137.89h-2.30M327.95 134.35h3.60M489.50 134.35h-3.60M327.95 130.81h2.30M489.50 130.81h-2.30M327.95 127.27h2.30M489.50 127.27h-2.30M327.95 123.73h2.30M489.50 123.73h-2.30M327.95 120.19h2.30M489.50 120.19h-2.30M327.95 116.65h3.60M489.50 116.65h-3.60M327.95 113.11h2.30M489.50 113.11h-2.30M327.95 109.57h2.30M489.50 109.57h-2.30M327.95 106.03h2.30M489.50 106.03h-2.30M327.95 102.49h2.30M489.50 102.49h-2.30M327.95 98.95h3.60M489.50 98.95h-3.60" stroke="#2a2a2a" stroke-width="0.7" fill="none"/>
<rect x="327.95" y="98.95" width="161.55" height="88.50" fill="none" stroke="#1c1c1c" stroke-width="0.8"/>
<text x="316.4" y="193.15" font-size="18.2" text-anchor="end">0.2</text>
<text x="316.4" y="175.45" font-size="18.2" text-anchor="end">0.3</text>
<text x="316.4" y="157.75" font-size="18.2" text-anchor="end">0.4</text>
<text x="316.4" y="140.05" font-size="18.2" text-anchor="end">0.5</text>
<text x="316.4" y="122.35" font-size="18.2" text-anchor="end">0.6</text>
<text x="316.4" y="104.65" font-size="18.2" text-anchor="end">0.7</text>
<text x="327.05" y="210.7" font-size="18.2" text-anchor="middle">0</text>
<text x="367.44" y="210.7" font-size="18.2" text-anchor="middle">0.05</text>
<text x="407.83" y="210.7" font-size="18.2" text-anchor="middle">0.1</text>
<text x="448.21" y="210.7" font-size="18.2" text-anchor="middle">0.15</text>
<text x="488.60" y="210.7" font-size="18.2" text-anchor="middle">0.2</text>
<rect x="81.4" y="3.95" width="462.55" height="67.4" fill="#fff" stroke="#383838" stroke-width="0.8"/>
<path d="M90.00 15.20h19" stroke="#ff85c8" stroke-width="1.3" fill="none"/>
<text y="20.80" font-size="18.2"><tspan x="131.60" class="it">Re</tspan><tspan x="156.60" dy="1.3" textLength="14.6" lengthAdjust="spacingAndGlyphs">=</tspan><tspan x="176.60" dy="-1.3">2500</tspan></text>
<path d="M90.00 37.70h19" stroke="#e0309a" stroke-width="1.3" fill="none"/>
<text y="43.30" font-size="18.2"><tspan x="131.60" class="it">Re</tspan><tspan x="156.60" dy="1.3" textLength="14.6" lengthAdjust="spacingAndGlyphs">=</tspan><tspan x="176.60" dy="-1.3">3000</tspan></text>
<path d="M90.00 60.20h19" stroke="#a0005a" stroke-width="1.3" fill="none"/>
<text y="65.80" font-size="18.2"><tspan x="131.60" class="it">Re</tspan><tspan x="156.60" dy="1.3" textLength="14.6" lengthAdjust="spacingAndGlyphs">=</tspan><tspan x="176.60" dy="-1.3">3500</tspan></text>
<path d="M244.00 15.20h19" stroke="#4a1028" stroke-width="1.3" fill="none"/>
<text y="20.80" font-size="18.2"><tspan x="285.60" class="it">Re</tspan><tspan x="310.60" dy="1.3" textLength="14.6" lengthAdjust="spacingAndGlyphs">=</tspan><tspan x="330.60" dy="-1.3">4000</tspan></text>
<path d="M244.00 37.70h19" stroke="#1a2a50" stroke-width="1.3" fill="none"/>
<text y="43.30" font-size="18.2"><tspan x="285.60" class="it">Re</tspan><tspan x="310.60" dy="1.3" textLength="14.6" lengthAdjust="spacingAndGlyphs">=</tspan><tspan x="330.60" dy="-1.3">4500</tspan></text>
<path d="M244.00 60.20h19" stroke="#0a6aa0" stroke-width="1.3" fill="none"/>
<text y="65.80" font-size="18.2"><tspan x="285.60" class="it">Re</tspan><tspan x="310.60" dy="1.3" textLength="14.6" lengthAdjust="spacingAndGlyphs">=</tspan><tspan x="330.60" dy="-1.3">5000</tspan></text>
<path d="M398.00 15.20h19" stroke="#1e90d8" stroke-width="1.3" fill="none"/>
<text y="20.80" font-size="18.2"><tspan x="439.60" class="it">Re</tspan><tspan x="464.60" dy="1.3" textLength="14.6" lengthAdjust="spacingAndGlyphs">=</tspan><tspan x="484.60" dy="-1.3">5500</tspan></text>
<path d="M398.00 37.70h19" stroke="#30a8f0" stroke-width="1.3" fill="none"/>
<text y="43.30" font-size="18.2"><tspan x="439.60" class="it">Re</tspan><tspan x="464.60" dy="1.3" textLength="14.6" lengthAdjust="spacingAndGlyphs">=</tspan><tspan x="484.60" dy="-1.3">6000</tspan></text>
<path d="M398.00 60.20h19" stroke="#70ccff" stroke-width="1.3" fill="none"/>
<text y="65.80" font-size="18.2"><tspan x="439.60" class="it">Re</tspan><tspan x="464.60" dy="1.3" textLength="14.6" lengthAdjust="spacingAndGlyphs">=</tspan><tspan x="484.60" dy="-1.3">6500</tspan></text>
<text y="369.3" font-size="18.2"><tspan x="273.70" dy="0.60" font-size="20.6">(</tspan><tspan x="279.80" dy="-0.60" class="it" textLength="9.0" lengthAdjust="spacingAndGlyphs">r</tspan><tspan x="292.90" dy="1.40" textLength="13.4" lengthAdjust="spacingAndGlyphs">−</tspan><tspan x="311.10" dy="-1.40" class="it" textLength="9.0" lengthAdjust="spacingAndGlyphs">r</tspan><tspan x="320.00" dy="2.70" class="it" font-size="12.9">i</tspan><tspan x="324.90" dy="-2.10" font-size="20.6">)</tspan><tspan x="332.40" dy="2.90" font-size="24.0" textLength="8.0" lengthAdjust="spacingAndGlyphs">/</tspan><tspan x="341.00" dy="-3.50" class="it">d</tspan></text>
<g transform="translate(22.2 259.3) rotate(-90)"><text y="0" font-size="18.2"><tspan x="-2.40" dy="1.60" font-size="19.5">⟨</tspan><tspan x="4.40" dy="-1.60" class="it">u</tspan><tspan x="13.40" dy="2.80" class="it" font-size="13.6" textLength="9.4" lengthAdjust="spacingAndGlyphs">ϕ</tspan><tspan x="23.20" dy="-1.20" font-size="19.5">⟩</tspan><tspan x="30.00" dy="1.40" class="it" font-size="13.6" textLength="9.4" lengthAdjust="spacingAndGlyphs">ϕ</tspan><tspan x="40.60" dy="0.00" font-size="12.9">,</tspan><tspan x="43.80" dy="0.00" class="it" font-size="12.9">z</tspan><tspan x="51.20" dy="0.00" font-size="12.9">,</tspan><tspan x="55.20" dy="0.00" class="it" font-size="12.9">t</tspan><tspan x="61.40" dy="0.50" font-size="24.0" textLength="7.2" lengthAdjust="spacingAndGlyphs">/</tspan><tspan x="69.60" dy="-2.90" font-size="20.6">(</tspan><tspan x="76.60" dy="-0.60" class="it" textLength="9.0" lengthAdjust="spacingAndGlyphs">r</tspan><tspan x="84.50" dy="2.70" class="it" font-size="12.9">o</tspan><tspan x="91.90" dy="-2.70" class="it">ω</tspan><tspan x="104.30" dy="2.70" class="it" font-size="12.9">i</tspan><tspan x="109.70" dy="-2.10" font-size="20.6">)</tspan></text></g>
</svg></body></html>
